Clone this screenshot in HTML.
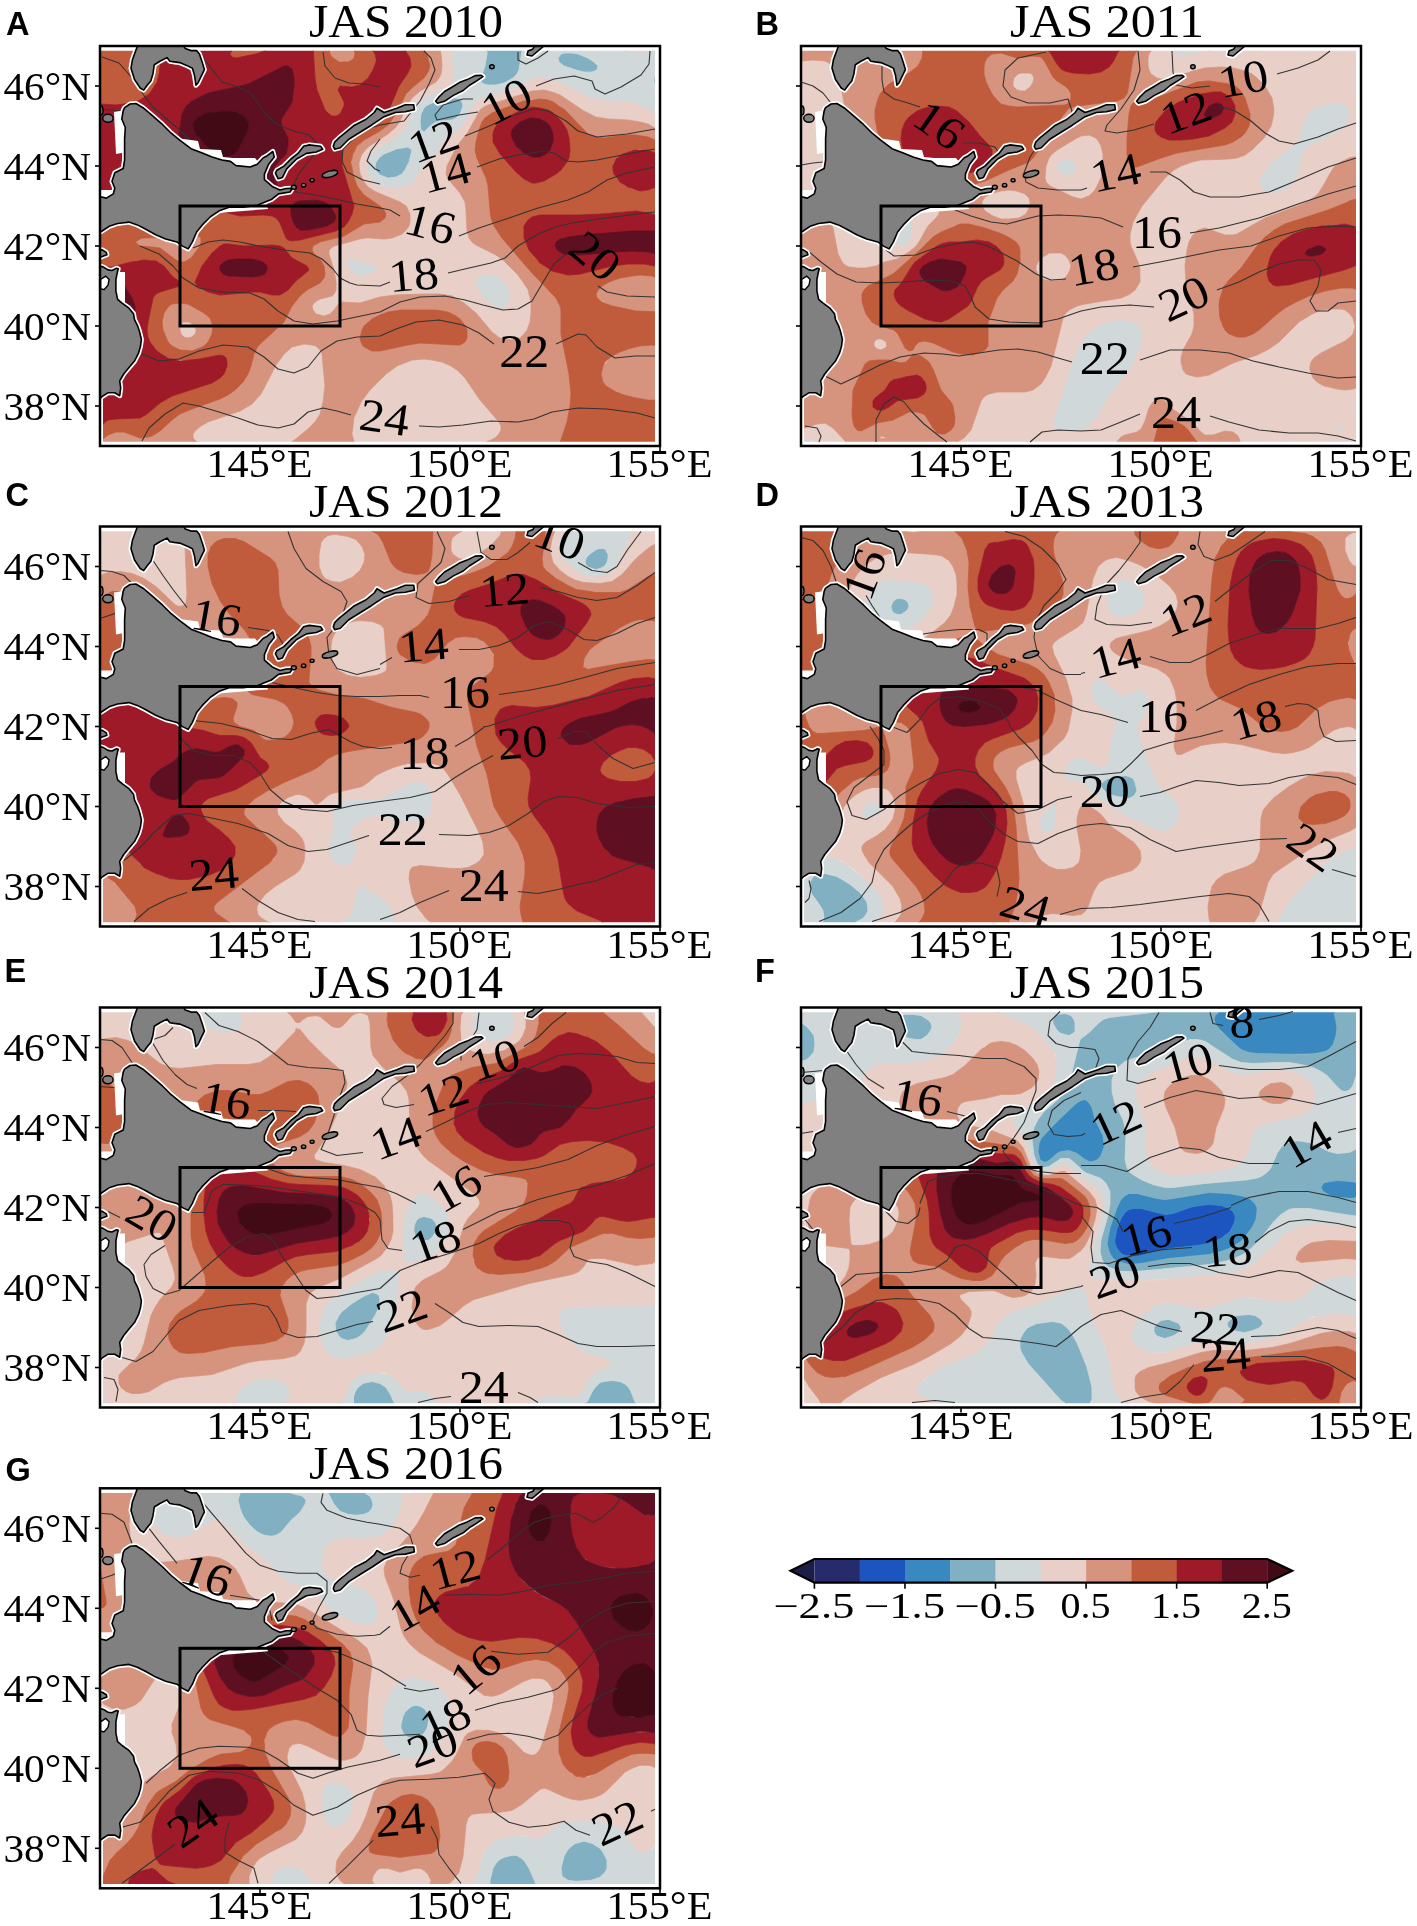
<!DOCTYPE html><html><head><meta charset="utf-8"><title>fig</title><style>html,body{margin:0;padding:0;background:#fff;overflow:hidden}svg{display:block;will-change:transform}</style></head><body><svg width="1417" height="1926" viewBox="0 0 1417 1926"><rect width="100%" height="100%" fill="#fff"/><defs><clipPath id="cd"><rect x="1" y="4.8" width="554" height="391"/></clipPath><clipPath id="cf"><rect x="0" y="0" width="560" height="400"/></clipPath></defs><g transform="translate(100,46)"><g clip-path="url(#cd)"><path fill="#80b0c2" stroke="#80b0c2" stroke-width="0.8" d="M388 0l36,0l-2,4l-3,20l-2,4l-4,4l-9,5l-8,2l-8,0l-4 -1l-3 -2l0 -4l4 -12l2 -12l0 -4l-3 -4zM464 7l8,0l6,1l10,4l6,4l4,4l-1,4l-5,2l-8,0l-8 -2l-12 -4l-5 -4l-1 -4l3 -4zM560 22l0,29l-4 -7l-2 -8l0 -4l4 -8zM356 52l4,1l2,3l1,4l-3,8l-4,4l-4,2l-12,1l-4,1l-6,4l-6,6l-3 -2l-1 -8l1 -8l3 -6l2 -2l6 -3l21 -5zM296 103l12 -2l4,3l-3,12l-4,8l-3,4l-6,3l-8,1l-8 -3l-4 -4l-1 -5l1 -4l4 -5l4 -3l10 -4z"/><path fill="#d0d8da" stroke="#d0d8da" stroke-width="0.8" d="M356 3l4 -3l24,0l3,4l0,4l-2,12l-4,12l0,4l3,2l4,1l8,0l8 -2l9 -5l4 -4l2 -4l3 -20l2 -4l87,0l17,5l12,2l12 -2l8 -2l0,19l-4,6l-2,4l0,4l2,8l4,7l0,21l-8 -7l-12 -6l-12 -3l-20 -1l-12 -2l-12 -4l-20 -11l-12 -4l-8 -2l-8,0l-24,11l-32,10l-4,3l-3,4l-9,18l-4,5l-12,8l-4,4l-6,9l-14,15l-7,13l-5,6l-4,2l-8,2l-8,0l-8 -1l-10 -5l-6 -7l-2 -9l2 -8l7 -8l17 -10l8 -6l6 -8l9 -20l5 -6l8 -5l16 -6l6 -3l2 -3l2 -5l-3 -20l1 -4l2 -4zM461 8l-3,4l1,4l5,4l12,4l8,2l8,0l5 -2l1 -4l-4 -4l-6 -4l-10 -4l-6 -1l-8,0zM353 52l-21,5l-6,3l-2,2l-3,6l-1,8l1,8l3,2l6 -6l6 -4l4 -1l12 -1l4 -2l4 -4l3 -8l-1 -4l-2 -3l-4 -1zM294 104l-10,4l-4,3l-4,5l-1,4l1,5l4,4l8,3l8 -1l6 -3l3 -4l4 -8l3 -12l-4 -3l-12,2zM248 214l4 -1l24,7l1,4l-6,4l-7,2l-4,0l-4 -1l-4 -3l-4 -5l-1 -5zM388 228l8,2l4,3l4,3l5,8l1,8l-2,6l-4,4l-4,0l-4 -1l-8 -6l-7 -7l-5 -8l-1 -4l2 -4l3 -2l8 -2z"/><path fill="#e8cfc8" stroke="#e8cfc8" stroke-width="0.8" d="M340 0l20,0l-6,4l-2,4l0,8l2,16l-1,4l-5,5l-20,8l-8,5l-5,6l-9,20l-6,8l-8,6l-17,10l-7,8l-2,8l2,9l6,7l10,5l8,1l8,0l8 -2l4 -2l5 -6l7 -13l14 -15l6 -9l4 -4l12 -8l4 -5l9 -18l3 -4l4 -3l32 -10l24 -11l8,0l8,2l12,4l20,11l12,4l12,2l20,1l12,3l12,6l8,7l0,13l-12 -7l-8 -2l-8 -2l-24 -1l-8 -1l-12 -5l-28 -18l-8 -3l-8 -2l-8,1l-8,1l-40,13l-4,2l-4,3l-3,4l-9,18l-11,14l-4,8l-6,12l-1,8l2,5l12,14l5,9l1,8l1,20l2,8l3,4l4,3l20,10l12,10l15,17l6,12l2,8l0,8l0,8l-3,9l-4,7l-4,4l-8,2l-8 -1l-8 -4l-8 -8l-15 -17l-9 -7l-8 -5l-12 -3l-16 -1l-32,1l-16,2l-20,6l-20 -1l-8,10l-4,3l-4,1l-4 -1l-3 -1l-4 -4l-1 -4l3 -4l5 -3l12 -3l2 -2l2 -4l0 -8l-2 -12l-5 -16l0 -4l3 -3l4 -2l28 -6l20,0l8 -1l10 -4l4 -4l3 -4l1 -4l0 -8l-4 -8l-6 -4l-24 -10l-8 -5l-4 -5l-4 -8l-1 -8l0 -4l3 -8l6 -7l20 -13l8 -7l4 -6l8 -17l4 -6l8 -7l16 -9l3 -4l2 -4l1 -8l-1 -12l-2 -8zM247 216l1,5l4,5l4,3l4,1l4,0l7 -2l6 -4l-1 -4l-24 -7l-4,1zM388 228l-8,2l-3,2l-2,4l1,4l5,8l7,7l8,6l4,1l4,0l4 -4l2 -6l-1 -8l-5 -8l-4 -3l-4 -3l-8 -2zM512 0l48,0l0,3l-4,1l-8,2l-8,1l-12 -2l-17 -5zM84 276l5,0l6,4l1,4l0,2l-1,2l-3,3l-5,1l-3 -1l-3 -3l-1 -4l0 -4l3 -4zM196 300l8 -2l8,1l4,1l4,4l2,4l1,8l2,20l-1,12l-3,16l-6,12l-7,7l-21,17l-80,0l-10 -4l-4 -4l0 -4l3 -4l8 -6l36 -13l12 -7l6 -6l5 -8l17 -32l8 -8l7 -4zM308 315l8 -2l8,0l16,2l11,5l5,3l9,9l15,22l16,18l5,8l0,4l-2,4l-3,3l-18,9l-123,0l-2 -8l0 -12l3 -12l5 -12l9 -12l11 -12l11 -9l14 -7z"/><path fill="#d6947f" stroke="#d6947f" stroke-width="0.8" d="M232 0l22,0l1,8l-1,4l-2,2l-4,2l-4,0l-8 -2l-3 -2l-3 -4l-2 -8zM324 0l15,0l2,8l1,12l-1,8l-2,4l-3,4l-16,9l-8,7l-4,6l-8,17l-4,6l-8,7l-20,13l-6,7l-3,8l0,4l1,8l4,8l4,5l8,5l24,10l6,4l4,8l0,8l-1,4l-3,4l-4,4l-10,4l-8,1l-16 -1l-8,1l-26,7l-5,4l0,4l5,16l2,12l0,8l-2,4l-2,2l-12,3l-5,3l-3,4l1,4l3,4l4,1l4,1l6 -2l4 -4l6 -8l20,1l20 -6l16 -2l28 -1l16,0l12,2l12,7l12,10l16,19l8,6l4,1l8,1l8 -2l4 -4l3 -4l3 -8l1 -8l0 -12l-3 -12l-5 -8l-6 -8l-13 -13l-8 -6l-20 -10l-4 -3l-3 -4l-2 -8l-1 -20l-1 -8l-5 -9l-12 -14l-2 -5l1 -8l6 -12l4 -8l11 -14l12 -22l4 -3l4 -2l32 -10l12 -4l12 -1l8,2l8,3l24,16l12,6l12,2l20,1l12,2l8,2l12,7l0,11l-12 -5l-12 -2l-12,0l-20,3l-8 -1l-8 -3l-4 -4l-15 -16l-9 -8l-8 -4l-12 -3l-8,0l-12,3l-29,12l-7,5l-5,11l-4,16l1,8l10,24l2,8l2,24l1,8l3,8l8,12l17,20l13,15l24,25l4,8l1,4l0,24l8,40l2,20l-1,12l-3,16l-8,24l-81,0l17 -8l4 -4l2 -4l0 -4l-2 -4l-19 -22l-15 -22l-8 -8l-6 -4l-9 -4l-10 -2l-8 -1l-12,1l-15,6l-11,8l-16,16l-9,12l-7,16l-1,8l-1,8l3,12l-68,0l21 -17l7 -7l5 -8l3 -12l2 -16l-3 -32l-2 -4l-4 -4l-4 -1l-8 -1l-8,2l-4,1l-8,7l-8,11l-15,29l-9,10l-12,7l-32,11l-7,4l-5,4l-3,4l0,4l4,4l10,4l-107,0l0 -5l8 -6l8 -3l8,0l16,6l8 -1l4 -1l8 -5l12 -11l8 -6l12 -5l28 -10l8 -4l7 -5l8 -8l5 -8l3 -8l3 -12l4 -8l26 -24l8 -16l8 -10l7 -6l13 -7l4 -5l1 -4l-1 -8l-4 -7l-6 -5l-2 -4l1 -4l7 -4l24 -6l20 -12l16 -2l4 -3l2 -5l-2 -4l-4 -4l-16 -11l-7 -9l-3 -8l-2 -8l0 -12l3 -8l5 -7l7 -5l15 -8l6 -5l8 -11l8 -16l4 -6l16 -14l3 -4l3 -8l-1 -8l-2 -4l-7 -8zM301 264l-13,2l-8,3l-8,4l-8,7l-2,4l-2,8l1,4l2,4l5,3l4,2l8,0l28 -6l12 -2l36,2l4,0l5 -3l2 -4l0 -4l0 -4l-3 -6l-4 -5l-4 -3l-8 -4l-12 -2l-32,0zM44 192l32 -1l16 -2l4,0l4,2l1,1l0,4l-1,4l-8,11l-4,3l-4,2l-4,0l-4 -2l-8 -6l-8 -6l-8 -1l-12 -1l-5 -4l7 -4zM520 232l12 -2l8 -1l12,1l8,3l0,33l-16,0l-20 -3l-12 -3l-12 -6l-3 -2l-1 -4l2 -4l4 -4l7 -4l10 -4zM72 258l8 -1l8,1l16,9l6,5l3,8l-1,8l-4,8l-4,4l-4,2l-8,3l-12 -1l-8 -4l-4 -4l-5 -12l-1 -8l2 -9l2 -3l3 -4zM83 276l-3,4l0,4l1,4l3,3l3,1l5 -1l3 -3l1 -2l0 -2l-1 -4l-6 -4l-5,0zM544 300l8 -1l8,1l0,54l-20 -1l-20 -5l-8 -4l-6 -4l-5 -8l0 -8l2 -4l7 -8l6 -4l8 -4l18 -4zM560 400z"/><path fill="#c05b3c" stroke="#c05b3c" stroke-width="0.8" d="M4 0l49,0l5,4l2,8l0,8l-2,12l-3,8l-6,8l-5,4l-8,4l-12,3l-12,0l-12 -1l0 -58zM136 0l37,0l-9,5l-8,3l-20,4l-4 -1l-2 -3l4 -8zM216 0l12,0l2,8l2,3l4,3l4,2l8,0l4 -2l2 -2l1 -4l-1 -8l16,0l5,8l1,4l-1,8l-4,8l-7,8l-4,3l-4,2l-16 -1l-2,4l4,8l2,4l0,4l-4,8l-4,2l-4,0l-3 -2l-4 -4l-8 -20l-2 -12l-2 -32zM304 0l16,0l4,4l4,7l1,5l1,4l-2,6l-4,6l-12,10l-6,6l-10,20l-8,11l-8,6l-16,9l-7,6l-4,8l-2,8l2,12l4,12l7,9l16,11l4,4l2,4l-1,4l-5,4l-16,2l-20,12l-24,6l-7,4l-1,4l2,4l6,5l4,7l1,8l-1,4l-4,5l-13,7l-7,6l-8,10l-8,16l-26,24l-4,8l-3,12l-3,8l-5,8l-8,8l-7,5l-8,4l-28,10l-12,5l-8,6l-12,11l-8,5l-4,1l-8,1l-16 -6l-8,0l-8,3l-8,6l0 -12l4 -6l4 -3l8 -1l24 -1l7 -4l13 -11l12 -7l40 -13l8 -5l4 -4l3 -8l0 -4l-3 -6l-4 -1l-24,5l-20,0l-12 -4l-8 -6l-6 -8l-2 -5l-1 -7l1 -8l5 -24l3 -4l4 -2l20 -6l0 -4l-8 -6l-8 -10l-4 -3l-8 -3l-8,0l-8,1l-24,6l-8,0l-4 -1l0 -40l12 -4l12 -1l28 -2l28,1l20 -3l20 -6l20,5l24 -1l8,1l4,2l4,5l6,15l2,2l4,1l8 -1l40 -10l5 -4l3 -4l4 -8l2 -8l-12 -40l0 -12l1 -8l4 -8l5 -4l24 -10l7 -6l5 -6l11 -26l9 -13l3 -7l-1 -8l-8 -12zM42 192l-7,4l5,4l12,1l8,1l8,6l8,6l4,2l4,0l4 -2l4 -3l8 -11l1 -4l0 -4l-1 -1l-4 -2l-4,0l-16,2l-32,1zM120 200l-8,7l-10,13l-7,16l2,4l11,6l12,3l12 -1l20 -2l8,0l12,3l8,0l8 -5l8 -9l12 -10l1 -1l-2 -4l-15 -8l-8 -10l-4 -2l-8 -1l-28,1l-16 -2l-4,0zM69 260l-3,4l-2,3l-2,9l1,8l5,12l4,4l8,4l12,1l8 -3l4 -2l4 -4l4 -8l1 -8l-3 -8l-6 -5l-16 -9l-8 -1l-8,1zM424 55l16 -2l8,1l5,2l12,8l23,24l8,3l8,1l20 -3l12,0l12,2l12,5l0,13l-12 -5l-8 -1l-8,1l-9,4l-6,4l-3,4l-1,4l0,4l3,8l8,7l8,4l12,2l8 -2l8 -4l0,31l-16 -4l-12 -1l-48,4l-44,0l-8,2l-4,3l-4,6l0,4l0,8l3,8l8,12l5,5l8,6l12,4l8,2l8 -1l36 -8l16 -2l16,0l16,3l0,12l-8 -3l-12 -1l-8,1l-12,2l-11,4l-7,4l-4,4l-2,4l1,4l5,4l10,4l24,5l24,1l0,34l-8 -1l-12,1l-12,3l-8,3l-8,4l-7,6l-2,4l-2,8l2,8l3,4l10,6l8,3l12,3l12,2l12,0l0,46l-101,0l8 -24l3 -16l1 -12l-2 -20l-8 -40l0 -24l-1 -4l-4 -8l-24 -25l-13 -15l-17 -20l-8 -12l-3 -8l-1 -8l-2 -24l-2 -8l-9 -20l-2 -8l1 -8l3 -12l3 -8l3 -4l7 -5l29 -11zM421 64l-15,8l-10,8l-2,4l-1,4l0,8l7,12l16,18l8,7l8,4l4,0l8 -2l12 -7l5 -4l6 -8l2 -4l1 -8l-1 -12l-2 -8l-5 -8l-10 -10l-4 -2l-8 -2l-8 -1l-8,2zM304 264l32,0l12,2l8,4l4,3l4,5l3,6l0,4l0,4l-2,4l-5,3l-4,0l-36 -2l-12,2l-28,6l-8,0l-4 -2l-5 -3l-2 -4l-1 -4l2 -8l2 -4l8 -7l8 -4l8 -3l13 -2zM0 308l1,8l-1,4l0 -13z"/><path fill="#9e1a28" stroke="#9e1a28" stroke-width="0.8" d="M56 0l78,0l-4,8l2,3l4,1l20 -4l8 -3l9 -5l40,0l2,32l2,12l8,20l4,4l3,2l4,0l4 -2l4 -8l0 -4l-2 -4l-4 -8l2 -4l12,1l8 -2l8 -7l5 -8l3 -8l0 -4l-1 -4l-5 -8l32,0l3,4l5,8l1,8l-3,7l-9,13l-11,26l-5,6l-7,6l-24,10l-5,4l-4,8l-1,8l0,12l12,40l-2,8l-4,8l-4,5l-8,4l-36,9l-8,1l-4 -1l-2 -2l-6 -15l-4 -5l-4 -2l-8 -1l-24,1l-20 -5l-20,6l-20,3l-28 -1l-28,2l-12,1l-12,4l0 -122l16,1l16 -2l8 -3l9 -6l3 -4l5 -8l2 -8l1 -8l0 -12l-2 -4l-5 -4zM184 20l-36,18l-12,3l-28,6l-16,8l-6,5l-4,8l-3,20l0,44l2,4l4,4l11,5l20 -2l20,0l16 -3l8 -1l8,2l9,3l1 -4l-4 -8l0 -8l1 -4l11 -12l2 -8l0 -8l-6 -12l-1 -4l1 -4l6 -9l4 -7l2 -16l0 -8l-2 -9l-4 -3l-4,0zM196 156l-5,4l0,8l2,8l3,5l4,3l9,0l18 -4l5 -3l2 -1l2 -4l-1 -4l-5 -8l-2 -2l-4 -2l-8 -2l-16,1zM424 63l8 -2l8,1l8,2l4,2l10,10l5,8l2,8l1,12l-1,8l-2,4l-6,8l-5,4l-12,7l-8,2l-4,0l-8 -4l-8 -7l-16 -18l-7 -12l0 -8l1 -4l2 -4l10 -8l15 -8zM430 72l-10,4l-5,4l-3,4l-1,4l1,4l4,8l8,7l8,4l8,0l6 -3l4 -4l3 -8l0 -8l-3 -8l-4 -4l-6 -3l-8 -1zM536 104l12,0l12,5l0,30l-4,2l-8,3l-8,1l-12 -4l-8 -5l-6 -8l-1 -4l0 -4l3 -7l7 -5l11 -4zM500 168l24 -2l12 -1l12,2l12,3l0,15l-36,1l-56,5l-6,1l-6,4l-1,4l2,4l8,4l11,1l44 -4l16,0l12,1l12,3l0,12l-16 -3l-16,0l-16,2l-32,8l-12,1l-8 -2l-8 -2l-12 -8l-11 -13l-5 -12l0 -8l0 -4l4 -6l4 -3l8 -2l40,0l19 -1zM124 198l4,0l16,2l28 -1l8,1l4,2l8,10l15,8l2,4l-1,1l-12,10l-8,9l-8,5l-8,0l-12 -3l-8,0l-20,2l-12,1l-12 -3l-11 -6l-2 -4l7 -16l10 -13l8 -7zM124 216l-4,4l0,4l3,4l5,2l24,1l8 -1l5 -2l2 -4l0 -4l-4 -4l-3 -1l-8 -2l-16,0l-8,1l-4,2zM32 216l12 -2l12,1l8,5l8,10l8,6l0,4l-20,6l-4,2l-3,4l-5,24l-1,8l1,7l2,5l6,8l5,4l7,4l12,3l20 -2l20 -4l4,1l2,2l1,4l0,4l-3,8l-4,4l-8,5l-40,13l-12,7l-13,11l-7,4l-24,1l-8,1l-4,3l-4,6l0 -63l1 -4l-1 -9l0 -87l4,1l8,0l19 -5zM11 236l-3,1l-4,6l-1,9l1,10l4,14l2,4l2,3l4,2l4,0l4 -3l8 -10l3 -8l0 -4l-3 -8l-8 -13l-4 -2l-8 -1z"/><path fill="#5e0f22" stroke="#5e0f22" stroke-width="0.8" d="M184 20l4,0l4,3l2,9l0,8l-2,16l-4,7l-6,9l-1,4l1,4l6,12l0,8l-2,8l-11,12l-1,4l0,8l4,8l-1,4l-9 -3l-8 -2l-8,1l-16,3l-20,0l-20,2l-11 -5l-4 -4l-2 -4l0 -44l3 -20l4 -8l6 -5l16 -8l28 -6l12 -3l36 -18zM104 68l-7,4l-3,4l-1,4l1,4l2,4l16,18l4,3l4,1l8,1l6 -3l4 -4l10 -20l0 -8l-4 -6l-4 -2l-4 -2l-12 -1l-16,2zM432 72l8,1l6,3l4,4l3,8l0,8l-3,8l-4,4l-6,3l-8,0l-8 -4l-8 -7l-4 -8l-1 -4l1 -4l3 -4l5 -4l10 -4zM200 155l16 -1l8,2l4,2l2,2l5,8l1,4l-2,4l-2,1l-5,3l-18,4l-9,0l-4 -3l-3 -5l-2 -8l0 -8l5 -4zM496 188l36 -3l28,0l0,24l-12 -3l-16 -1l-20,1l-32,3l-8,0l-8 -1l-7 -4l-2 -4l1 -4l4 -3l8 -2l25 -3zM124 216l4 -2l8 -1l16,0l8,2l3,1l4,4l0,4l-2,4l-5,2l-8,1l-24 -1l-5 -2l-3 -4l0 -4l4 -4zM12 236l8,1l4,2l8,13l3,8l0,4l-3,8l-8,10l-4,3l-4,0l-4 -2l-2 -3l-2 -4l-4 -14l-1 -10l1 -9l4 -6l3 -1z"/><path fill="#420a15" stroke="#420a15" stroke-width="0.8" d="M108 67l16 -2l12,1l4,2l4,2l4,6l0,8l-10,20l-4,4l-6,3l-8 -1l-4 -1l-4 -3l-16 -18l-2 -4l-1 -4l1 -4l3 -4l7 -4z"/></g><polyline points="2,11 19,17 33,33 45,51 53,61 69,75 83,87 93,97 97,103" fill="none" stroke="#333" stroke-width="1.1" stroke-linejoin="round"/><polyline points="0,63 12,64 24,65" fill="none" stroke="#333" stroke-width="1.1" stroke-linejoin="round"/><polyline points="101,10 111,22 122,36 138,41 150,47 158,57 166,69 178,79 194,85 209,89 217,97 217,105 209,115 200,126 194,138 196,146 209,148 231,152 257,158 280,162 290,164 300,170" fill="none" stroke="#333" stroke-width="1.1" stroke-linejoin="round"/><polyline points="223,6 225,20 235,32 249,37 265,38 280,41" fill="none" stroke="#333" stroke-width="1.1" stroke-linejoin="round"/><polyline points="280,138 263,134 247,126 242,115 243,103 253,93 267,83 280,79 304,75 320,55 329,38 335,24 331,12 324,5" fill="none" stroke="#333" stroke-width="1.1" stroke-linejoin="round"/><polyline points="280,93 271,105 267,115 275,123 280,125" fill="none" stroke="#333" stroke-width="1.1" stroke-linejoin="round"/><polyline points="378,66 359,69 337,74 335,69 343,59 363,53 373,53" fill="none" stroke="#333" stroke-width="1.1" stroke-linejoin="round"/><polyline points="418,6 418,14 426,18 438,12 448,5" fill="none" stroke="#333" stroke-width="1.1" stroke-linejoin="round"/><polyline points="436,40 454,33 474,30 492,35 495,43 505,48 521,41 541,29 549,18 550,5" fill="none" stroke="#333" stroke-width="1.1" stroke-linejoin="round"/><polyline points="365,90 387,81 409,71 434,63 448,65 466,75 478,85 497,91 527,88 555,83" fill="none" stroke="#333" stroke-width="1.1" stroke-linejoin="round"/><polyline points="377,121 399,113 418,109 444,105 454,107 466,115 478,116 497,114 527,108 555,103" fill="none" stroke="#333" stroke-width="1.1" stroke-linejoin="round"/><polyline points="359,190 379,182 409,172 438,162 468,154 488,146 507,134 527,127 555,121" fill="none" stroke="#333" stroke-width="1.1" stroke-linejoin="round"/><polyline points="348,227 369,222 391,217 405,212 418,200 438,188 458,180 478,176 507,172 537,168 555,166" fill="none" stroke="#333" stroke-width="1.1" stroke-linejoin="round"/><polyline points="93,202 108,196 123,194 140,196 159,200 184,204 210,207 222,213 233,223 240,232 250,237 257,239 280,240 290,236" fill="none" stroke="#333" stroke-width="1.1" stroke-linejoin="round"/><polyline points="40,200 59,208 73,220 83,232 99,242 123,246 150,247 164,253 178,265 194,275 213,278 237,275 261,270 280,266 300,256 320,251 345,250 365,254 383,259 403,264 418,263 432,255 442,238 454,218 465,209" fill="none" stroke="#333" stroke-width="1.1" stroke-linejoin="round"/><polyline points="498,240 507,246 527,250 555,251" fill="none" stroke="#333" stroke-width="1.1" stroke-linejoin="round"/><polyline points="42,308 59,315 79,313 99,305 123,299 148,301 164,311 178,323 194,327 208,321 221,305 237,295 257,291 280,290 296,283 316,276 339,274 363,279 379,287 394,298" fill="none" stroke="#333" stroke-width="1.1" stroke-linejoin="round"/><polyline points="456,298 478,288 486,289 497,301 515,312 535,310 555,310" fill="none" stroke="#333" stroke-width="1.1" stroke-linejoin="round"/><polyline points="42,395 49,382 65,368 83,357 99,360 119,366 138,372 158,379 178,382 194,378 208,366 223,362 237,365 251,369" fill="none" stroke="#333" stroke-width="1.1" stroke-linejoin="round"/><polyline points="319,380 339,381 363,379 391,375 418,376 434,373 452,366 478,362 507,363 537,367 555,372" fill="none" stroke="#333" stroke-width="1.1" stroke-linejoin="round"/><g clip-path="url(#cf)"><polygon points="37.3,-3 37.3,0.4 32.4,13.8 31,22.2 34.5,33.5 40.2,42 43.7,44.1 47.2,39.2 50.8,34.9 52.9,27.9 54.3,18.7 59.9,15.2 67,11.6 69.8,15.2 74,15.9 79.7,16.6 86.7,19.4 92.4,22.2 94.5,29.3 95.9,39.2 98,37 101.6,29.3 104.4,23.6 102.3,16.6 99.4,8.1 96.6,4.6 91,4.6 85.3,2.5 83.9,0.4 83.9,-3" fill="#fff" stroke="#fff" stroke-width="5" stroke-linejoin="round"/><polygon points="24.6,61.7 30,58 35.9,57.5 43,61.7 51.5,68.8 62.7,78.7 71.2,87.2 79.7,94.2 91,102.7 102.3,106.9 112.1,111.1 122,114 130.5,115.4 136,119.6 150.3,121 157.3,118.2 163,112 167.2,109.7 172.8,105.5 174.3,111.1 168.6,118.2 164.4,128.1 164.4,133.7 172.8,140.8 180,144 186,142.5 192.6,142.2 190,146 178.5,147.9 171.4,153.5 164.4,156.3 157.3,159.2 143.2,161.3 129.1,161.3 119.2,164.8 110.7,170.5 102.3,178.9 96.6,186 92.4,195.9 88.2,202.9 82.5,200.1 76.9,195.9 65.6,193 55.7,188.8 45.8,183.2 37.3,178.9 28.9,176.1 17.6,177.5 9.1,180.3 0.6,186 -5,186 -5,150.7 0.6,150.7 6.3,152.1 13.3,147.9 14.8,142.2 12,135.2 14.8,126.7 23.2,122.5 24.6,114 24.6,106.9 24.6,92.8 25.3,81.5 21.8,73 23.2,64.6" fill="#fff" stroke="#fff" stroke-width="5" stroke-linejoin="round"/><polygon points="-5,220 -0.5,220 3.5,221.1 8,223.9 11.9,224.5 16.5,222.2 18.2,222.8 17,227.9 15.9,233.5 15.9,244.8 17.6,253.3 22.1,257.2 28.6,261.8 33.5,267.7 34.5,273.6 37.5,279.6 39.5,285.5 41.4,293.4 40.5,300.3 38.5,307.2 34.5,315.1 28.6,322.1 23.7,328 19.7,334.9 20.7,341.8 19.7,349.7 14.8,346.8 7.8,346.8 1.9,350.7 -0.1,352.7 -5,352.7" fill="#fff" stroke="#fff" stroke-width="5" stroke-linejoin="round"/><polygon points="-5,203.6 -0.5,203.6 2.3,203.9 6.3,206.4 6.9,208.7 2.3,210.4 0.1,211.5 -5,211.5" fill="#fff" stroke="#fff" stroke-width="5" stroke-linejoin="round"/><polygon points="175.4,127.2 178.2,132.8 182.5,131.4 186.7,122.9 196.6,113 206.5,107.4 216.3,106 222.7,103.2 220.6,100.3 209.3,98.9 203.6,100.3 198,107.4 190.9,113 183.9,120.1 176.8,124.3" fill="#fff" stroke="#fff" stroke-width="5" stroke-linejoin="round"/><polygon points="233.3,100.3 234.7,103.2 240.3,101.7 248.8,93.3 260.1,86.2 271.4,79.2 284.1,70.7 295.4,66.5 305.3,65.8 314.4,63.6 313.7,58.7 305.3,58.7 296.8,62.2 284.1,66.5 277,62.2 274.2,66.5 265.7,73.5 254.4,79.2 246,86.2 238.9,91.9 234.7,96.1" fill="#fff" stroke="#fff" stroke-width="5" stroke-linejoin="round"/><polygon points="335.6,55.3 337.5,57.3 344.5,55.3 353.4,49.4 363.2,44.5 369.2,39.5 377.1,34.6 383,30.6 381,29.2 375.1,29.6 367.2,33.6 359.3,36.6 351.4,41.5 344.5,45.5 338.5,51.4" fill="#fff" stroke="#fff" stroke-width="5" stroke-linejoin="round"/><polygon points="427,9 432,10 438,5 444,0 445,-3 436,-3 433,3 428,5" fill="#fff" stroke="#fff" stroke-width="5" stroke-linejoin="round"/><polygon points="76,92 98,95 100,103 121,104 123,111 133,112 155,112 160,118 150,124 130,120 100,112 76,100" fill="#fff"/><polygon points="112,158 165,154 168,163 118,167" fill="#fff"/><polygon points="14,66 26,64 27,106 16,108" fill="#fff"/><polygon points="-2,144 25,144 25,153 -2,153" fill="#fff"/><polygon points="14,226 25,226 25,258 14,258" fill="#fff"/><polygon points="-2,350 3,350 3,400 -2,400" fill="#fff"/><polygon points="37.3,-3 37.3,0.4 32.4,13.8 31,22.2 34.5,33.5 40.2,42 43.7,44.1 47.2,39.2 50.8,34.9 52.9,27.9 54.3,18.7 59.9,15.2 67,11.6 69.8,15.2 74,15.9 79.7,16.6 86.7,19.4 92.4,22.2 94.5,29.3 95.9,39.2 98,37 101.6,29.3 104.4,23.6 102.3,16.6 99.4,8.1 96.6,4.6 91,4.6 85.3,2.5 83.9,0.4 83.9,-3" fill="#808080" stroke="#000" stroke-width="1.6" stroke-linejoin="round"/><polygon points="24.6,61.7 30,58 35.9,57.5 43,61.7 51.5,68.8 62.7,78.7 71.2,87.2 79.7,94.2 91,102.7 102.3,106.9 112.1,111.1 122,114 130.5,115.4 136,119.6 150.3,121 157.3,118.2 163,112 167.2,109.7 172.8,105.5 174.3,111.1 168.6,118.2 164.4,128.1 164.4,133.7 172.8,140.8 180,144 186,142.5 192.6,142.2 190,146 178.5,147.9 171.4,153.5 164.4,156.3 157.3,159.2 143.2,161.3 129.1,161.3 119.2,164.8 110.7,170.5 102.3,178.9 96.6,186 92.4,195.9 88.2,202.9 82.5,200.1 76.9,195.9 65.6,193 55.7,188.8 45.8,183.2 37.3,178.9 28.9,176.1 17.6,177.5 9.1,180.3 0.6,186 -5,186 -5,150.7 0.6,150.7 6.3,152.1 13.3,147.9 14.8,142.2 12,135.2 14.8,126.7 23.2,122.5 24.6,114 24.6,106.9 24.6,92.8 25.3,81.5 21.8,73 23.2,64.6" fill="#808080" stroke="#000" stroke-width="1.6" stroke-linejoin="round"/><polygon points="-5,220 -0.5,220 3.5,221.1 8,223.9 11.9,224.5 16.5,222.2 18.2,222.8 17,227.9 15.9,233.5 15.9,244.8 17.6,253.3 22.1,257.2 28.6,261.8 33.5,267.7 34.5,273.6 37.5,279.6 39.5,285.5 41.4,293.4 40.5,300.3 38.5,307.2 34.5,315.1 28.6,322.1 23.7,328 19.7,334.9 20.7,341.8 19.7,349.7 14.8,346.8 7.8,346.8 1.9,350.7 -0.1,352.7 -5,352.7" fill="#808080" stroke="#000" stroke-width="1.6" stroke-linejoin="round"/><polygon points="-5,203.6 -0.5,203.6 2.3,203.9 6.3,206.4 6.9,208.7 2.3,210.4 0.1,211.5 -5,211.5" fill="#808080" stroke="#000" stroke-width="1.6" stroke-linejoin="round"/><polygon points="175.4,127.2 178.2,132.8 182.5,131.4 186.7,122.9 196.6,113 206.5,107.4 216.3,106 222.7,103.2 220.6,100.3 209.3,98.9 203.6,100.3 198,107.4 190.9,113 183.9,120.1 176.8,124.3" fill="#808080" stroke="#000" stroke-width="1.6" stroke-linejoin="round"/><polygon points="233.3,100.3 234.7,103.2 240.3,101.7 248.8,93.3 260.1,86.2 271.4,79.2 284.1,70.7 295.4,66.5 305.3,65.8 314.4,63.6 313.7,58.7 305.3,58.7 296.8,62.2 284.1,66.5 277,62.2 274.2,66.5 265.7,73.5 254.4,79.2 246,86.2 238.9,91.9 234.7,96.1" fill="#808080" stroke="#000" stroke-width="1.6" stroke-linejoin="round"/><polygon points="335.6,55.3 337.5,57.3 344.5,55.3 353.4,49.4 363.2,44.5 369.2,39.5 377.1,34.6 383,30.6 381,29.2 375.1,29.6 367.2,33.6 359.3,36.6 351.4,41.5 344.5,45.5 338.5,51.4" fill="#808080" stroke="#000" stroke-width="1.6" stroke-linejoin="round"/><polygon points="427,9 432,10 438,5 444,0 445,-3 436,-3 433,3 428,5" fill="#808080" stroke="#000" stroke-width="1.6" stroke-linejoin="round"/><polygon points="0.6,233.5 5.7,230.1 9.1,233.5 8,239.2 4,243.7 0.6,242.6" fill="#fff" stroke="#000" stroke-width="1.4"/><ellipse cx="7.9" cy="72.3" rx="5.2" ry="4" transform="rotate(0 7.9 72.3)" fill="#808080" stroke="#000" stroke-width="1.4"/><ellipse cx="1" cy="64.5" rx="2" ry="4.5" transform="rotate(0 1 64.5)" fill="#808080" stroke="#000" stroke-width="1.4"/><ellipse cx="230" cy="128" rx="8" ry="3" transform="rotate(-15 230 128)" fill="#808080" stroke="#000" stroke-width="1.4"/><ellipse cx="193.8" cy="141.3" rx="2.5" ry="2" transform="rotate(0 193.8 141.3)" fill="#808080" stroke="#000" stroke-width="1.4"/><ellipse cx="203.6" cy="139.2" rx="2.2" ry="1.8" transform="rotate(0 203.6 139.2)" fill="#808080" stroke="#000" stroke-width="1.4"/><ellipse cx="212.1" cy="134.2" rx="2" ry="1.6" transform="rotate(0 212.1 134.2)" fill="#808080" stroke="#000" stroke-width="1.4"/><ellipse cx="391.9" cy="20.8" rx="2.3" ry="2" transform="rotate(0 391.9 20.8)" fill="#808080" stroke="#000" stroke-width="1.4"/></g><rect x="80" y="160" width="160" height="120" fill="none" stroke="#000" stroke-width="3"/><g clip-path="url(#cf)"><text x="406.5" y="70.8" font-family="Liberation Serif" font-size="46.0" font-weight="normal" text-anchor="middle" textLength="50.0" lengthAdjust="spacingAndGlyphs" transform="rotate(-28 406.5 55.3)">10</text><text x="333.4" y="110.4" font-family="Liberation Serif" font-size="46.0" font-weight="normal" text-anchor="middle" textLength="50.0" lengthAdjust="spacingAndGlyphs" transform="rotate(-20 333.4 94.9)">12</text><text x="345.2" y="142.0" font-family="Liberation Serif" font-size="46.0" font-weight="normal" text-anchor="middle" textLength="50.0" lengthAdjust="spacingAndGlyphs" transform="rotate(-15 345.2 126.5)">14</text><text x="330.4" y="193.4" font-family="Liberation Serif" font-size="46.0" font-weight="normal" text-anchor="middle" textLength="50.0" lengthAdjust="spacingAndGlyphs" transform="rotate(15 330.4 177.9)">16</text><text x="313.6" y="244.2" font-family="Liberation Serif" font-size="46.0" font-weight="normal" text-anchor="middle" textLength="50.0" lengthAdjust="spacingAndGlyphs" transform="rotate(-5 313.6 228.7)">18</text><text x="495.4" y="225.4" font-family="Liberation Serif" font-size="46.0" font-weight="normal" text-anchor="middle" textLength="50.0" lengthAdjust="spacingAndGlyphs" transform="rotate(40 495.4 209.9)">20</text><text x="424.3" y="321.2" font-family="Liberation Serif" font-size="46.0" font-weight="normal" text-anchor="middle" textLength="50.0" lengthAdjust="spacingAndGlyphs" transform="rotate(0 424.3 305.7)">22</text><text x="284.6" y="387.0" font-family="Liberation Serif" font-size="46.0" font-weight="normal" text-anchor="middle" textLength="50.0" lengthAdjust="spacingAndGlyphs" transform="rotate(8 284.6 371.5)">24</text></g><rect x="0" y="0" width="560" height="400" fill="none" stroke="#000" stroke-width="2.5"/><line x1="-5" y1="40" x2="0" y2="40" stroke="#000" stroke-width="1.6"/><line x1="-5" y1="120" x2="0" y2="120" stroke="#000" stroke-width="1.6"/><line x1="-5" y1="200" x2="0" y2="200" stroke="#000" stroke-width="1.6"/><line x1="-5" y1="280" x2="0" y2="280" stroke="#000" stroke-width="1.6"/><line x1="-5" y1="360" x2="0" y2="360" stroke="#000" stroke-width="1.6"/><line x1="160" y1="400" x2="160" y2="405" stroke="#000" stroke-width="1.6"/><line x1="360" y1="400" x2="360" y2="405" stroke="#000" stroke-width="1.6"/><line x1="560" y1="400" x2="560" y2="405" stroke="#000" stroke-width="1.6"/><text x="-9.0" y="53.5" font-family="Liberation Serif" font-size="39.5" font-weight="normal" text-anchor="end" textLength="87.5" lengthAdjust="spacingAndGlyphs">46°N</text><text x="-9.0" y="133.5" font-family="Liberation Serif" font-size="39.5" font-weight="normal" text-anchor="end" textLength="87.5" lengthAdjust="spacingAndGlyphs">44°N</text><text x="-9.0" y="213.5" font-family="Liberation Serif" font-size="39.5" font-weight="normal" text-anchor="end" textLength="87.5" lengthAdjust="spacingAndGlyphs">42°N</text><text x="-9.0" y="293.5" font-family="Liberation Serif" font-size="39.5" font-weight="normal" text-anchor="end" textLength="87.5" lengthAdjust="spacingAndGlyphs">40°N</text><text x="-9.0" y="373.5" font-family="Liberation Serif" font-size="39.5" font-weight="normal" text-anchor="end" textLength="87.5" lengthAdjust="spacingAndGlyphs">38°N</text><text x="159.5" y="431.0" font-family="Liberation Serif" font-size="39.0" font-weight="normal" text-anchor="middle" textLength="106.0" lengthAdjust="spacingAndGlyphs">145°E</text><text x="359.5" y="431.0" font-family="Liberation Serif" font-size="39.0" font-weight="normal" text-anchor="middle" textLength="106.0" lengthAdjust="spacingAndGlyphs">150°E</text><text x="559.5" y="431.0" font-family="Liberation Serif" font-size="39.0" font-weight="normal" text-anchor="middle" textLength="106.0" lengthAdjust="spacingAndGlyphs">155°E</text><text x="306.0" y="-9.5" font-family="Liberation Serif" font-size="47.0" font-weight="normal" text-anchor="middle" textLength="194.0" lengthAdjust="spacingAndGlyphs">JAS 2010</text></g><text x="6.0" y="34.5" font-family="Liberation Sans" font-size="32.5" font-weight="bold" text-anchor="start">A</text><g transform="translate(801,46)"><g clip-path="url(#cd)"><path fill="#80b0c2" stroke="#80b0c2" stroke-width="0.8" d="M4 400l-4,0l0 -1z"/><path fill="#d0d8da" stroke="#d0d8da" stroke-width="0.8" d="M376 3l3 -3l101,0l-8,3l-16,1l-40 -1l-24,5l-12,2l-6 -2l1 -4zM520 59l12 -2l8,1l4,2l4,4l1,4l-2,8l-3,5l-8,6l-24,11l-4,2l-4,4l-2,4l-6,24l-6,8l-6,4l-12,3l-8 -2l-5 -5l0 -4l0 -4l5 -8l7 -8l9 -8l12 -8l4 -4l2 -4l5 -16l4 -8l5 -5l5 -3zM260 115l4 -2l4,0l6,3l1,4l-1,4l-2,3l-4,2l-4,0l-4 -1l-3 -4l-1 -4l3 -4zM92 168l8 -1l4,1l4,3l3,5l0,8l-1,8l-3,4l-3,3l-4,1l-4 -1l-12 -11l-11 -8l2 -4l4 -4l11 -4zM60 192l0,4l0 -4zM308 276l8 -2l8,0l8,2l4,2l4,5l1,5l-1,12l-7,16l-25,35l-12,20l-9,9l-6,4l-5,2l-8,1l-11 -3l-4 -4l-1 -4l1 -4l18 -56l7 -16l6 -9l7 -7l6 -4l10 -4zM536 380l7,0l1,4l-11,0l2 -4zM4 393l12,3l8,4l-20,0l-4 -1l0 -7z"/><path fill="#e8cfc8" stroke="#e8cfc8" stroke-width="0.8" d="M352 1l1 -1l26,0l-4,4l-1,4l6,2l12 -2l24 -5l40,1l16 -1l8 -3l72,0l4,4l4,1l0,106l-4,0l-8,1l-8,4l-4,2l-5,6l-9,16l-5,8l-9,7l-8,4l-36,13l-28,16l-4,1l-8,0l-20 -7l-4,1l-4,2l-6,7l-3,8l-2,8l-1,16l2,16l7,28l0,12l-2,8l-9,16l-2,8l0,4l2,8l3,4l3,1l8,2l12 -2l24 -12l24 -8l12 -6l10 -7l20 -20l13 -8l9 -4l8 -1l8 -1l8,2l5,4l3,4l1,4l0,8l-1,4l-4,4l-4,3l-24,12l-7,5l-3,4l-1,4l0,4l3,8l4,4l7,4l5,2l8,1l8,1l8 -1l8 -3l0,60l-120,0l-2 -8l-2 -3l-4 -3l-8 -1l-12,4l-4,0l-5 -1l-3 -2l-12 -13l-12 -7l-12 -11l-4 -2l-4,0l-4,3l-3,4l-5,15l-4,8l-4,3l-12,3l-4,2l-8,9l-179,0l19 -3l4 -1l7 -4l7 -8l10 -29l4 -5l4 -2l8 -2l28,0l8 -2l8 -6l4 -6l6 -12l12 -48l2 -4l4 -4l8 -4l8 -2l36 -6l9 -4l5 -4l5 -8l1 -8l-3 -12l-8 -20l0 -8l1 -8l4 -8l7 -12l23 -28l12 -10l15 -6l13 -2l24 -1l12 -2l8 -5l8 -6l7 -8l5 -8l3 -8l2 -8l0 -8l-1 -5l-3 -7l-5 -8l-12 -11l-8 -4l-8 -2l-20 -2l-20,3l-28,9l-8,0l-4 -1l-6 -4l-2 -4l-1 -4l0 -8l3 -8zM517 60l-5,3l-5,5l-4,8l-5,16l-2,4l-4,4l-12,8l-9,8l-7,8l-5,8l0,4l0,4l5,5l8,2l12 -3l6 -4l6 -8l6 -24l2 -4l4 -4l4 -2l24 -11l8 -6l3 -5l2 -8l-1 -4l-4 -4l-4 -2l-8 -1l-12,2zM307 276l-10,4l-6,4l-7,7l-6,9l-7,16l-18,56l-1,4l1,4l4,4l11,3l8 -1l5 -2l6 -4l9 -9l12 -20l25 -35l7 -16l1 -12l-1 -5l-4 -5l-4 -2l-8 -2l-8,0l-8,2zM535 380l-2,4l11,0l-1 -4l-7,0zM4 14l12,0l8,1l4,2l4,3l4,6l4,14l7,40l13,36l5,20l3,6l4,4l8,3l12,1l20,0l10,2l9,4l5,4l2,4l0,4l-3,4l-8,8l-9,16l-8,8l-6,5l-8,4l-12,3l-9,4l-7,2l-16,0l-6 -2l-5 -4l-4 -8l-5 -26l-3 -6l-4 -4l-5 -3l-8 -1l-8,1l-4,2l0 -156zM90 168l-11,4l-4,4l-2,4l11,8l12,11l4,1l4 -1l3 -3l3 -4l1 -8l0 -8l-3 -5l-4 -3l-4 -1l-8,1zM60 192l0,4l0 -4zM220 27l8,0l3,1l2,4l-1,4l-2,4l-6,5l-4,0l-4 -1l-4 -4l0 -4l1 -4l4 -4zM280 90l8 -1l7,3l3,4l2,4l2,8l0,12l-2,12l-6,12l-6,6l-8,3l-8 -2l-23 -11l-4 -4l-1 -4l1 -12l3 -8l3 -4l5 -4l20 -12zM259 116l-3,4l1,4l3,4l4,1l4,0l4 -2l2 -3l1 -4l-1 -4l-6 -3l-4,0l-4,2zM192 147l8 -2l8 -1l8,1l8,3l4,4l1,4l0,4l-2,4l-2,4l-7,4l-10,1l-8,0l-8 -3l-8 -5l-3 -5l0 -4l2 -4l6 -4zM248 207l8,0l4,0l4,2l4,5l2,6l-1,4l-2,4l-3,4l-4,2l-8,1l-8 -1l-4 -2l-3 -4l-2 -4l0 -4l2 -4l3 -4l7 -4zM76 293l4,0l4,2l1,1l1,4l-2,2l-4,2l-4 -1l-3 -3l0 -4zM12 379l8 -2l4,0l4,2l4,3l13,14l9,4l-30,0l-12 -6l-12 -2l0 -9l9 -3zM80 390l4,1l1,1l-5,1l-1 -1z"/><path fill="#d6947f" stroke="#d6947f" stroke-width="0.8" d="M4 0l116,0l2,4l-1,8l-4,8l-9,7l-20,11l-4,4l-5,6l-3,8l-2,8l1,16l3,12l7,20l4,8l7,7l7,5l9,4l32,6l8,1l8 -1l16 -5l12 -4l20 -9l20 -8l4 -4l9 -12l11 -12l8 -16l8 -10l8 -2l40 -5l7 -3l3 -4l1 -4l5 -32l6 -12l15,0l-5,8l-1,4l0,8l1,4l2,4l6,4l4,1l8,0l24 -8l12 -3l16 -1l12,1l12,3l7,3l5,4l8,8l7,12l2,12l-1,8l-2,8l-7,12l-11,11l-8,6l-8,3l-8,1l-28,1l-9,2l-11,4l-7,4l-9,8l-23,28l-9,16l-3,12l0,8l1,4l7,16l2,8l0,12l-5,8l-5,4l-9,4l-36,6l-8,2l-8,4l-4,4l-2,4l-12,48l-6,12l-4,6l-8,6l-8,2l-28,0l-8,2l-4,2l-4,5l-10,29l-7,8l-7,4l-4,1l-19,3l-79,0l-9 -4l-13 -14l-8 -5l-8,1l-16,5l0 -212l4 -2l8 -1l8,1l5,3l4,4l3,6l5,26l4,8l3,3l4,2l8,1l8,0l11 -2l9 -4l12 -3l12 -7l7 -6l3 -4l9 -16l8 -8l3 -4l0 -4l-2 -4l-5 -4l-9 -4l-10 -2l-20,0l-12 -1l-8 -3l-4 -4l-3 -6l-5 -20l-13 -36l-7 -40l-4 -14l-4 -6l-4 -3l-4 -2l-12 -1l-12,1l0 -15zM396 36l-36,14l-25,6l-3,1l-2,3l-2,8l-2,24l0,16l1,8l3,4l2,1l4,0l24 -9l16 -5l48 -8l8 -3l8 -5l4 -4l4 -7l1 -4l0 -8l-5 -16l-5 -8l-5 -4l-6 -2l-20 -3l-12,1zM276 92l-20,12l-5,4l-3,4l-3,8l-1,12l1,4l4,4l23,11l8,2l8 -3l6 -6l6 -12l2 -12l0 -12l-2 -8l-2 -4l-3 -4l-7 -3l-8,1zM189 148l-6,4l-2,4l0,4l3,5l8,5l8,3l8,0l10 -1l7 -4l2 -4l2 -4l0 -4l-1 -4l-4 -4l-8 -3l-8 -1l-8,1l-8,2zM155 180l-15,6l-8,5l-13,13l-27,24l-25,12l-4,4l-2,4l0,8l4,12l6,8l5,3l17,5l4,4l7,14l4,3l4 -1l2 -4l4 -4l6 -1l8,2l20,9l8,2l12,1l8 -3l4 -2l3 -4l0 -4l0 -16l0 -4l9 -24l6 -8l10 -9l4 -7l3 -12l0 -12l-1 -4l-3 -4l-6 -4l-8 -4l-17 -6l-16 -4l-8,0l-4,1zM247 208l-7,4l-3,4l-2,4l0,4l2,4l3,4l4,2l8,1l8 -1l4 -2l3 -4l2 -4l1 -4l-2 -6l-4 -5l-4 -2l-4,0l-8,0zM73 296l0,4l3,3l4,1l4 -2l2 -2l-1 -4l-1 -1l-4 -2l-4,0zM109 312l-4,4l-5,1l-12 -3l-12,0l-8,1l-4,3l-12,26l-1,24l1,8l1,4l3,4l4,1l16 -8l16 -3l16 -8l8,0l4,1l4,2l8,13l4,5l4,1l4,0l6 -4l3 -4l1 -8l-2 -12l-2 -4l-10 -12l-8 -21l-4 -7l-8 -6l-8 -2zM79 392l1,1l5 -1l-1 -1l-4 -1zM556 0l4,0l0,5l-4 -1l-4 -4zM192 8l8 -1l16,5l16 -2l8,1l4,5l8,15l4,4l8,5l4,4l2,4l0,4l-2,5l-4,2l-48,2l-8 -1l-8 -2l-4 -4l-5 -6l-6 -12l-2 -8l0 -8l1 -4l2 -4l5 -4zM217 28l-4,4l-1,4l0,4l4,4l4,1l4,0l6 -5l2 -4l1 -4l-2 -4l-3 -1l-8,0zM552 111l8,0l0,42l-8,1l-25,10l-39,13l-12,5l-8,5l-9,9l-19,26l-16,16l-4,10l-2,12l2,14l4,10l4,4l4,2l8,1l8 -2l8 -4l25 -21l14 -8l13 -6l16 -5l16 -3l12,0l8,4l0,94l-8,3l-8,1l-8 -1l-13 -3l-7 -4l-4 -4l-3 -8l0 -4l1 -4l3 -4l7 -5l24 -12l4 -3l4 -4l2 -8l-2 -8l-4 -5l-4 -3l-4 -1l-12,0l-8,1l-9,4l-13,8l-20,20l-10,7l-12,6l-24,8l-24,12l-12,2l-8 -2l-3 -1l-3 -4l-2 -8l0 -4l2 -8l9 -16l2 -8l0 -12l-8 -32l-1 -16l2 -16l2 -8l4 -7l5 -5l3 -1l4 -1l20,7l8,0l4 -1l28 -16l40 -15l8 -5l5 -4l5 -8l9 -16l3 -4l6 -4l8 -4zM352 356l4 -3l4,0l4,2l9,9l18,12l9,10l4,3l8,0l12 -4l8,1l4,3l2,3l2,8l-32,0l-8 -2l-5 -2l-8 -12l-4 -4l-7 -4l-12 -4l-4,1l-2,3l-5,20l-3,4l-38,0l8 -9l4 -2l12 -3l4 -3l4 -8l4 -13l4 -6z"/><path fill="#c05b3c" stroke="#c05b3c" stroke-width="0.8" d="M120 0l110,0l10,2l4,1l4,2l8,13l6,6l10,3l16,1l12 -2l8 -5l4 -5l8 -16l18,0l-6,12l-5,32l-1,4l-3,4l-7,3l-40,5l-8,2l-8,10l-8,16l-11,12l-9,12l-4,4l-20,8l-24,11l-20,6l-12,2l-12 -1l-24 -5l-12 -5l-7 -4l-8 -8l-4 -8l-9 -28l-2 -12l0 -8l2 -8l3 -8l5 -6l4 -4l20 -11l9 -7l4 -8l1 -8l-2 -4zM191 8l-5,4l-2,4l-1,4l0,8l2,8l6,12l5,6l4,4l8,2l8,1l48 -2l4 -2l2 -5l0 -4l-2 -4l-4 -4l-8 -5l-4 -4l-8 -15l-4 -5l-8 -1l-16,2l-16 -5l-8,1zM134 60l-10,2l-8,3l-8,6l-4,5l-3,8l-1,8l1,8l3,9l4,6l4,4l4,3l8,3l24,3l20 -1l11 -3l7 -4l3 -4l2 -4l0 -8l-3 -5l-8 -8l-12 -15l-12 -11l-8 -4l-12 -1zM396 36l12 -1l20,3l6,2l5,4l5,8l5,16l0,8l-1,4l-4,7l-4,4l-8,5l-8,3l-48,8l-16,5l-24,9l-4,0l-2 -1l-3 -4l-1 -8l0 -16l2 -24l2 -8l2 -3l3 -1l25 -6l36 -14zM400 48l-22,8l-13,8l-7,8l-3,4l-1,4l0,4l2,4l4,3l8,3l12,0l12 -1l16 -3l16 -8l7 -6l3 -8l0 -8l-4 -8l-6 -4l-4 -2l-8,0l-12,2zM548 155l8 -2l4,0l0,33l-4 -4l-4 -2l-8 -2l-8,0l-24,4l-20,6l-12,8l-7,8l-5,12l-2,12l2,7l4,4l4,1l8,0l20 -5l39 -11l11 -4l6 -4l0,30l-8 -4l-12,0l-16,3l-16,5l-13,6l-11,6l-8,6l-18,16l-6,4l-8,3l-8,0l-8 -3l-4 -4l-2 -4l-3 -8l-1 -12l1 -8l4 -12l5 -6l12 -12l16 -22l8 -9l9 -7l11 -6l43 -14l20 -8zM156 179l4 -1l8,0l16,4l17,6l8,4l6,4l3,4l1,4l0,12l-3,12l-4,7l-10,9l-6,8l-9,24l0,4l0,16l0,4l-3,4l-4,2l-8,3l-12 -1l-8 -2l-20 -9l-8 -2l-6,1l-4,4l-2,4l-4,1l-4 -3l-7 -14l-4 -4l-17 -5l-5 -3l-6 -8l-4 -12l0 -8l2 -4l4 -4l25 -12l27 -24l13 -13l8 -5l15 -6zM148 196l-8,2l-4,2l-22,16l-3,4l-10,16l-7,8l-1,4l1,4l2,4l4,4l6,4l18,9l8,2l8,1l8 -3l19 -13l3 -4l6 -14l4 -6l5 -4l14 -8l3 -4l1 -4l-1 -8l-3 -4l-4 -4l-7 -4l-12 -2l-16,2l-12,0zM112 308l8,2l8,6l4,7l8,21l10,12l2,4l2,12l-1,8l-3,4l-6,4l-4,0l-4 -1l-4 -5l-8 -13l-4 -2l-4 -1l-8,0l-16,8l-16,3l-16,8l-4 -1l-3 -4l-1 -4l-1 -8l1 -24l12 -26l4 -3l8 -1l12,0l12,3l5 -1l4 -4zM101 332l-9,2l-3,2l-5,8l-10,8l-2,3l0,6l4,3l6,0l6 -3l8 -6l4 -1l16 -2l4 -2l3 -2l2 -4l0 -4l-1 -4l-4 -5l-4 -2l-12,2zM0 352l0,8l0 -9zM364 372l12,4l7,4l4,4l9,12l12,4l-58,0l3 -4l5 -20l2 -3l4 -1z"/><path fill="#9e1a28" stroke="#9e1a28" stroke-width="0.8" d="M232 0l88,0l-8,16l-4,5l-8,5l-12,2l-16 -1l-8 -2l-4 -2l-4 -5l-6 -10l-3 -4l-7 -2l-10 -2zM400 48l12 -2l8,0l4,2l6,4l4,8l0,8l-3,8l-7,6l-16,8l-16,3l-12,1l-12,0l-8 -3l-4 -3l-2 -4l0 -4l1 -4l3 -4l7 -8l13 -8l22 -8zM408 60l-5,8l1,2l2,2l6,0l8 -4l2 -4l0 -4l-2 -2l-4 -1l-4,1l-4,2zM136 60l12,1l8,4l12,11l12,15l8,8l3,5l0,8l-2,4l-3,4l-7,4l-11,3l-20,1l-24 -3l-8 -3l-4 -3l-4 -4l-4 -6l-3 -9l-1 -8l1 -8l3 -8l4 -5l8 -6l8 -3l10 -2zM524 180l20 -2l8,2l6,4l2,2l0,30l-6,4l-11,4l-55,15l-12,1l-4 -1l-4 -4l-2 -7l1 -8l2 -8l4 -8l7 -8l12 -8l12 -4l17 -4zM506 204l-2,4l4,2l4,0l9 -2l4 -4l-1 -2l-4 -2l-4,0l-8,3zM148 196l12,0l16 -2l12,2l7,4l4,4l3,4l1,8l-1,4l-3,4l-14,8l-5,4l-4,6l-6,14l-3,4l-19,13l-8,3l-8 -1l-8 -2l-18 -9l-6 -4l-4 -4l-2 -4l-1 -4l1 -4l7 -8l10 -16l3 -4l22 -16l4 -2l8 -2zM129 216l-7,4l-3,4l0,4l2,4l3,3l16,9l4,1l6 -1l6 -3l4 -5l4 -8l1 -4l0 -4l-5 -4l-12 -2l-8 -1l-8,2zM104 331l12 -2l4,2l4,5l1,4l0,4l-2,4l-3,2l-4,2l-16,2l-4,1l-8,6l-6,3l-6,0l-4 -3l0 -6l2 -3l10 -8l5 -8l3 -2l9 -2z"/><path fill="#5e0f22" stroke="#5e0f22" stroke-width="0.8" d="M408 60l4 -2l4 -1l4,1l2,2l0,4l-2,4l-8,4l-6,0l-2 -2l-1 -2l5 -8zM508 203l8 -3l4,0l4,2l1,2l-4,4l-9,2l-4,0l-4 -2l2 -4zM132 215l8 -2l8,1l12,2l5,4l0,4l-1,4l-4,8l-4,5l-6,3l-6,1l-4 -1l-16 -9l-3 -3l-2 -4l0 -4l3 -4l7 -4z"/></g><polyline points="0,36 12,40 22,47 30,57" fill="none" stroke="#333" stroke-width="1.1" stroke-linejoin="round"/><polyline points="0,119 12,117 22,116" fill="none" stroke="#333" stroke-width="1.1" stroke-linejoin="round"/><polyline points="81,18 81,34 83,46 93,53 107,57 119,61" fill="none" stroke="#333" stroke-width="1.1" stroke-linejoin="round"/><polyline points="162,97 178,97 194,101 198,107" fill="none" stroke="#333" stroke-width="1.1" stroke-linejoin="round"/><polyline points="245,6 217,12 204,24 202,40 210,51 227,57 249,57 267,53 271,65 269,71" fill="none" stroke="#333" stroke-width="1.1" stroke-linejoin="round"/><polyline points="337,5 339,24 333,44 320,63 306,79 304,85 316,87 333,84 353,78" fill="none" stroke="#333" stroke-width="1.1" stroke-linejoin="round"/><polyline points="371,5 372,26 375,39 391,42 409,40" fill="none" stroke="#333" stroke-width="1.1" stroke-linejoin="round"/><polyline points="476,28 497,22 517,14 529,5" fill="none" stroke="#333" stroke-width="1.1" stroke-linejoin="round"/><polyline points="418,60 434,65 450,75 464,87 478,95 493,98 517,91 537,83 555,77" fill="none" stroke="#333" stroke-width="1.1" stroke-linejoin="round"/><polyline points="237,99 229,111 223,127 225,136 237,142 257,144 280,144 286,142" fill="none" stroke="#333" stroke-width="1.1" stroke-linejoin="round"/><polyline points="349,126 365,126 379,134 393,146 409,151 438,151 468,146 497,134 527,121 555,112" fill="none" stroke="#333" stroke-width="1.1" stroke-linejoin="round"/><polyline points="154,164 170,170 190,176 206,178 221,174 237,170 257,169 280,170 300,172 322,181" fill="none" stroke="#333" stroke-width="1.1" stroke-linejoin="round"/><polyline points="389,187 418,182 458,172 497,158 527,148 555,140" fill="none" stroke="#333" stroke-width="1.1" stroke-linejoin="round"/><polyline points="332,221 359,216 389,210 418,204 450,200 478,190 507,182 537,180 555,181" fill="none" stroke="#333" stroke-width="1.1" stroke-linejoin="round"/><polyline points="85,204 93,210 115,209 134,202 159,197 172,196 184,199 197,205 216,215 235,228 250,234 265,233" fill="none" stroke="#333" stroke-width="1.1" stroke-linejoin="round"/><polyline points="6,204 20,216 36,228 55,236 79,237 103,236 129,234 150,235 164,240 170,251 174,261 188,273 208,276 237,277 257,273 280,265 300,261 329,259 353,261" fill="none" stroke="#333" stroke-width="1.1" stroke-linejoin="round"/><polyline points="416,244 438,236 458,226 478,218 497,214 513,214 520,224 517,240 509,255 515,265 527,265 537,257 555,255" fill="none" stroke="#333" stroke-width="1.1" stroke-linejoin="round"/><polyline points="24,330 40,338 59,329 79,319 99,311 123,307 142,308 158,310 178,307 198,304 217,303 237,306 257,312 271,316" fill="none" stroke="#333" stroke-width="1.1" stroke-linejoin="round"/><polyline points="339,314 369,304 399,304 428,307 452,315 478,321 507,327 537,332 555,331" fill="none" stroke="#333" stroke-width="1.1" stroke-linejoin="round"/><polyline points="75,396 75,374 83,358 93,351 103,356 111,366 123,378 138,390 146,396" fill="none" stroke="#333" stroke-width="1.1" stroke-linejoin="round"/><polyline points="4,380 16,382 20,390 18,396" fill="none" stroke="#333" stroke-width="1.1" stroke-linejoin="round"/><polyline points="229,396 241,386 257,384 280,385 300,384 320,376 339,368" fill="none" stroke="#333" stroke-width="1.1" stroke-linejoin="round"/><polyline points="409,370 428,376 458,384 488,387 517,387 537,390 555,395" fill="none" stroke="#333" stroke-width="1.1" stroke-linejoin="round"/><g clip-path="url(#cf)"><polygon points="37.3,-3 37.3,0.4 32.4,13.8 31,22.2 34.5,33.5 40.2,42 43.7,44.1 47.2,39.2 50.8,34.9 52.9,27.9 54.3,18.7 59.9,15.2 67,11.6 69.8,15.2 74,15.9 79.7,16.6 86.7,19.4 92.4,22.2 94.5,29.3 95.9,39.2 98,37 101.6,29.3 104.4,23.6 102.3,16.6 99.4,8.1 96.6,4.6 91,4.6 85.3,2.5 83.9,0.4 83.9,-3" fill="#fff" stroke="#fff" stroke-width="5" stroke-linejoin="round"/><polygon points="24.6,61.7 30,58 35.9,57.5 43,61.7 51.5,68.8 62.7,78.7 71.2,87.2 79.7,94.2 91,102.7 102.3,106.9 112.1,111.1 122,114 130.5,115.4 136,119.6 150.3,121 157.3,118.2 163,112 167.2,109.7 172.8,105.5 174.3,111.1 168.6,118.2 164.4,128.1 164.4,133.7 172.8,140.8 180,144 186,142.5 192.6,142.2 190,146 178.5,147.9 171.4,153.5 164.4,156.3 157.3,159.2 143.2,161.3 129.1,161.3 119.2,164.8 110.7,170.5 102.3,178.9 96.6,186 92.4,195.9 88.2,202.9 82.5,200.1 76.9,195.9 65.6,193 55.7,188.8 45.8,183.2 37.3,178.9 28.9,176.1 17.6,177.5 9.1,180.3 0.6,186 -5,186 -5,150.7 0.6,150.7 6.3,152.1 13.3,147.9 14.8,142.2 12,135.2 14.8,126.7 23.2,122.5 24.6,114 24.6,106.9 24.6,92.8 25.3,81.5 21.8,73 23.2,64.6" fill="#fff" stroke="#fff" stroke-width="5" stroke-linejoin="round"/><polygon points="-5,220 -0.5,220 3.5,221.1 8,223.9 11.9,224.5 16.5,222.2 18.2,222.8 17,227.9 15.9,233.5 15.9,244.8 17.6,253.3 22.1,257.2 28.6,261.8 33.5,267.7 34.5,273.6 37.5,279.6 39.5,285.5 41.4,293.4 40.5,300.3 38.5,307.2 34.5,315.1 28.6,322.1 23.7,328 19.7,334.9 20.7,341.8 19.7,349.7 14.8,346.8 7.8,346.8 1.9,350.7 -0.1,352.7 -5,352.7" fill="#fff" stroke="#fff" stroke-width="5" stroke-linejoin="round"/><polygon points="-5,203.6 -0.5,203.6 2.3,203.9 6.3,206.4 6.9,208.7 2.3,210.4 0.1,211.5 -5,211.5" fill="#fff" stroke="#fff" stroke-width="5" stroke-linejoin="round"/><polygon points="175.4,127.2 178.2,132.8 182.5,131.4 186.7,122.9 196.6,113 206.5,107.4 216.3,106 222.7,103.2 220.6,100.3 209.3,98.9 203.6,100.3 198,107.4 190.9,113 183.9,120.1 176.8,124.3" fill="#fff" stroke="#fff" stroke-width="5" stroke-linejoin="round"/><polygon points="233.3,100.3 234.7,103.2 240.3,101.7 248.8,93.3 260.1,86.2 271.4,79.2 284.1,70.7 295.4,66.5 305.3,65.8 314.4,63.6 313.7,58.7 305.3,58.7 296.8,62.2 284.1,66.5 277,62.2 274.2,66.5 265.7,73.5 254.4,79.2 246,86.2 238.9,91.9 234.7,96.1" fill="#fff" stroke="#fff" stroke-width="5" stroke-linejoin="round"/><polygon points="335.6,55.3 337.5,57.3 344.5,55.3 353.4,49.4 363.2,44.5 369.2,39.5 377.1,34.6 383,30.6 381,29.2 375.1,29.6 367.2,33.6 359.3,36.6 351.4,41.5 344.5,45.5 338.5,51.4" fill="#fff" stroke="#fff" stroke-width="5" stroke-linejoin="round"/><polygon points="427,9 432,10 438,5 444,0 445,-3 436,-3 433,3 428,5" fill="#fff" stroke="#fff" stroke-width="5" stroke-linejoin="round"/><polygon points="76,92 98,95 100,103 121,104 123,111 133,112 155,112 160,118 150,124 130,120 100,112 76,100" fill="#fff"/><polygon points="112,158 165,154 168,163 118,167" fill="#fff"/><polygon points="14,66 26,64 27,106 16,108" fill="#fff"/><polygon points="-2,144 25,144 25,153 -2,153" fill="#fff"/><polygon points="14,226 25,226 25,258 14,258" fill="#fff"/><polygon points="-2,350 3,350 3,400 -2,400" fill="#fff"/><polygon points="37.3,-3 37.3,0.4 32.4,13.8 31,22.2 34.5,33.5 40.2,42 43.7,44.1 47.2,39.2 50.8,34.9 52.9,27.9 54.3,18.7 59.9,15.2 67,11.6 69.8,15.2 74,15.9 79.7,16.6 86.7,19.4 92.4,22.2 94.5,29.3 95.9,39.2 98,37 101.6,29.3 104.4,23.6 102.3,16.6 99.4,8.1 96.6,4.6 91,4.6 85.3,2.5 83.9,0.4 83.9,-3" fill="#808080" stroke="#000" stroke-width="1.6" stroke-linejoin="round"/><polygon points="24.6,61.7 30,58 35.9,57.5 43,61.7 51.5,68.8 62.7,78.7 71.2,87.2 79.7,94.2 91,102.7 102.3,106.9 112.1,111.1 122,114 130.5,115.4 136,119.6 150.3,121 157.3,118.2 163,112 167.2,109.7 172.8,105.5 174.3,111.1 168.6,118.2 164.4,128.1 164.4,133.7 172.8,140.8 180,144 186,142.5 192.6,142.2 190,146 178.5,147.9 171.4,153.5 164.4,156.3 157.3,159.2 143.2,161.3 129.1,161.3 119.2,164.8 110.7,170.5 102.3,178.9 96.6,186 92.4,195.9 88.2,202.9 82.5,200.1 76.9,195.9 65.6,193 55.7,188.8 45.8,183.2 37.3,178.9 28.9,176.1 17.6,177.5 9.1,180.3 0.6,186 -5,186 -5,150.7 0.6,150.7 6.3,152.1 13.3,147.9 14.8,142.2 12,135.2 14.8,126.7 23.2,122.5 24.6,114 24.6,106.9 24.6,92.8 25.3,81.5 21.8,73 23.2,64.6" fill="#808080" stroke="#000" stroke-width="1.6" stroke-linejoin="round"/><polygon points="-5,220 -0.5,220 3.5,221.1 8,223.9 11.9,224.5 16.5,222.2 18.2,222.8 17,227.9 15.9,233.5 15.9,244.8 17.6,253.3 22.1,257.2 28.6,261.8 33.5,267.7 34.5,273.6 37.5,279.6 39.5,285.5 41.4,293.4 40.5,300.3 38.5,307.2 34.5,315.1 28.6,322.1 23.7,328 19.7,334.9 20.7,341.8 19.7,349.7 14.8,346.8 7.8,346.8 1.9,350.7 -0.1,352.7 -5,352.7" fill="#808080" stroke="#000" stroke-width="1.6" stroke-linejoin="round"/><polygon points="-5,203.6 -0.5,203.6 2.3,203.9 6.3,206.4 6.9,208.7 2.3,210.4 0.1,211.5 -5,211.5" fill="#808080" stroke="#000" stroke-width="1.6" stroke-linejoin="round"/><polygon points="175.4,127.2 178.2,132.8 182.5,131.4 186.7,122.9 196.6,113 206.5,107.4 216.3,106 222.7,103.2 220.6,100.3 209.3,98.9 203.6,100.3 198,107.4 190.9,113 183.9,120.1 176.8,124.3" fill="#808080" stroke="#000" stroke-width="1.6" stroke-linejoin="round"/><polygon points="233.3,100.3 234.7,103.2 240.3,101.7 248.8,93.3 260.1,86.2 271.4,79.2 284.1,70.7 295.4,66.5 305.3,65.8 314.4,63.6 313.7,58.7 305.3,58.7 296.8,62.2 284.1,66.5 277,62.2 274.2,66.5 265.7,73.5 254.4,79.2 246,86.2 238.9,91.9 234.7,96.1" fill="#808080" stroke="#000" stroke-width="1.6" stroke-linejoin="round"/><polygon points="335.6,55.3 337.5,57.3 344.5,55.3 353.4,49.4 363.2,44.5 369.2,39.5 377.1,34.6 383,30.6 381,29.2 375.1,29.6 367.2,33.6 359.3,36.6 351.4,41.5 344.5,45.5 338.5,51.4" fill="#808080" stroke="#000" stroke-width="1.6" stroke-linejoin="round"/><polygon points="427,9 432,10 438,5 444,0 445,-3 436,-3 433,3 428,5" fill="#808080" stroke="#000" stroke-width="1.6" stroke-linejoin="round"/><polygon points="0.6,233.5 5.7,230.1 9.1,233.5 8,239.2 4,243.7 0.6,242.6" fill="#fff" stroke="#000" stroke-width="1.4"/><ellipse cx="7.9" cy="72.3" rx="5.2" ry="4" transform="rotate(0 7.9 72.3)" fill="#808080" stroke="#000" stroke-width="1.4"/><ellipse cx="1" cy="64.5" rx="2" ry="4.5" transform="rotate(0 1 64.5)" fill="#808080" stroke="#000" stroke-width="1.4"/><ellipse cx="230" cy="128" rx="8" ry="3" transform="rotate(-15 230 128)" fill="#808080" stroke="#000" stroke-width="1.4"/><ellipse cx="193.8" cy="141.3" rx="2.5" ry="2" transform="rotate(0 193.8 141.3)" fill="#808080" stroke="#000" stroke-width="1.4"/><ellipse cx="203.6" cy="139.2" rx="2.2" ry="1.8" transform="rotate(0 203.6 139.2)" fill="#808080" stroke="#000" stroke-width="1.4"/><ellipse cx="212.1" cy="134.2" rx="2" ry="1.6" transform="rotate(0 212.1 134.2)" fill="#808080" stroke="#000" stroke-width="1.4"/><ellipse cx="391.9" cy="20.8" rx="2.3" ry="2" transform="rotate(0 391.9 20.8)" fill="#808080" stroke="#000" stroke-width="1.4"/></g><rect x="80" y="160" width="160" height="120" fill="none" stroke="#000" stroke-width="3"/><g clip-path="url(#cf)"><text x="138.3" y="94.5" font-family="Liberation Serif" font-size="46.0" font-weight="normal" text-anchor="middle" textLength="50.0" lengthAdjust="spacingAndGlyphs" transform="rotate(35 138.3 79)">16</text><text x="442.1" y="48.1" font-family="Liberation Serif" font-size="46.0" font-weight="normal" text-anchor="middle" textLength="50.0" lengthAdjust="spacingAndGlyphs" transform="rotate(-10 442.1 32.6)">10</text><text x="384.7" y="81.7" font-family="Liberation Serif" font-size="46.0" font-weight="normal" text-anchor="middle" textLength="50.0" lengthAdjust="spacingAndGlyphs" transform="rotate(-20 384.7 66.2)">12</text><text x="314.6" y="142.0" font-family="Liberation Serif" font-size="46.0" font-weight="normal" text-anchor="middle" textLength="50.0" lengthAdjust="spacingAndGlyphs" transform="rotate(-12 314.6 126.5)">14</text><text x="356.1" y="201.5" font-family="Liberation Serif" font-size="46.0" font-weight="normal" text-anchor="middle" textLength="50.0" lengthAdjust="spacingAndGlyphs" transform="rotate(0 356.1 186)">16</text><text x="292.8" y="236.3" font-family="Liberation Serif" font-size="46.0" font-weight="normal" text-anchor="middle" textLength="50.0" lengthAdjust="spacingAndGlyphs" transform="rotate(-10 292.8 220.8)">18</text><text x="382.8" y="267.9" font-family="Liberation Serif" font-size="46.0" font-weight="normal" text-anchor="middle" textLength="50.0" lengthAdjust="spacingAndGlyphs" transform="rotate(-25 382.8 252.4)">20</text><text x="303.7" y="328.1" font-family="Liberation Serif" font-size="46.0" font-weight="normal" text-anchor="middle" textLength="50.0" lengthAdjust="spacingAndGlyphs" transform="rotate(0 303.7 312.6)">22</text><text x="374.9" y="381.5" font-family="Liberation Serif" font-size="46.0" font-weight="normal" text-anchor="middle" textLength="50.0" lengthAdjust="spacingAndGlyphs" transform="rotate(0 374.9 366)">24</text></g><rect x="0" y="0" width="560" height="400" fill="none" stroke="#000" stroke-width="2.5"/><line x1="-5" y1="40" x2="0" y2="40" stroke="#000" stroke-width="1.6"/><line x1="-5" y1="120" x2="0" y2="120" stroke="#000" stroke-width="1.6"/><line x1="-5" y1="200" x2="0" y2="200" stroke="#000" stroke-width="1.6"/><line x1="-5" y1="280" x2="0" y2="280" stroke="#000" stroke-width="1.6"/><line x1="-5" y1="360" x2="0" y2="360" stroke="#000" stroke-width="1.6"/><line x1="160" y1="400" x2="160" y2="405" stroke="#000" stroke-width="1.6"/><line x1="360" y1="400" x2="360" y2="405" stroke="#000" stroke-width="1.6"/><line x1="560" y1="400" x2="560" y2="405" stroke="#000" stroke-width="1.6"/><text x="159.5" y="431.0" font-family="Liberation Serif" font-size="39.0" font-weight="normal" text-anchor="middle" textLength="106.0" lengthAdjust="spacingAndGlyphs">145°E</text><text x="359.5" y="431.0" font-family="Liberation Serif" font-size="39.0" font-weight="normal" text-anchor="middle" textLength="106.0" lengthAdjust="spacingAndGlyphs">150°E</text><text x="559.5" y="431.0" font-family="Liberation Serif" font-size="39.0" font-weight="normal" text-anchor="middle" textLength="106.0" lengthAdjust="spacingAndGlyphs">155°E</text><text x="306.0" y="-9.5" font-family="Liberation Serif" font-size="47.0" font-weight="normal" text-anchor="middle" textLength="194.0" lengthAdjust="spacingAndGlyphs">JAS 2011</text></g><text x="755.5" y="34.5" font-family="Liberation Sans" font-size="32.5" font-weight="bold" text-anchor="start">B</text><g transform="translate(100,526.5)"><g clip-path="url(#cd)"><path fill="#80b0c2" stroke="#80b0c2" stroke-width="0.8" d="M496 23l4 -1l4,0l2,2l2,4l0,4l-1,4l-3,4l-4,2l-4,1l-4 -1l-5 -2l-2 -4l1 -4l3 -4l6 -4z"/><path fill="#d0d8da" stroke="#d0d8da" stroke-width="0.8" d="M476 0l56,0l0,4l-2,8l-14,28l-3,4l-5,4l-4,1l-8,2l-12 -2l-8 -4l-10 -9l-6 -8l-2 -8l2 -8l4 -4l8 -2l2 -2l0 -4zM495 24l-6,4l-3,4l-1,4l2,4l5,2l4,1l4 -1l4 -2l3 -4l1 -4l0 -4l-2 -4l-2 -2l-4,0l-4,1zM312 256l8 -1l4,1l4,4l2,4l2,8l0,8l-2,8l-2,3l-4,3l-8,2l-16 -1l-16 -4l-8 -1l-8,1l-8,4l-7,5l-3,4l0,4l7,12l0,4l-3,8l-2,3l-4,3l-4,1l-4,0l-4 -2l-4 -4l-2 -5l-1 -8l4 -16l-1 -16l2 -8l4 -4l6 -2l8 -1l20,0l8 -1l16 -7l15 -9zM260 360l4,0l4,2l15,10l5,5l4,7l2,8l0,4l-2,4l-71,0l7 -2l12 -3l7 -3l3 -4l2 -4l5 -20z"/><path fill="#e8cfc8" stroke="#e8cfc8" stroke-width="0.8" d="M4 0l90,0l-5,4l-3,8l-1,16l2,40l-1,8l-2,3l-4,1l-4 -1l-4 -4l-12 -11l-8 -7l-16 -8l-12 -3l-8 -1l-8,1l-8,3l0 -49zM364 4l10 -4l29,0l-3,9l-6,7l-10,8l-12,7l-8,2l-4 -1l-4 -1l-3 -3l-2 -4l0 -8l1 -4l3 -4l8 -4zM456 3l5 -3l13,0l0,4l-2,2l-8,2l-4,4l-2,8l2,8l4,6l11,10l9,5l8,2l12 -2l9 -5l5 -8l12 -24l2 -8l0 -4l28,0l0,19l-4 -1l-4,1l-4,3l-12,10l-14,16l-6,5l-12,4l-16,0l-12 -3l-8 -4l-8 -6l-7 -8l-2 -8l0 -8l1 -9l3 -7zM236 8l12,2l8,3l6,7l3,8l-1,8l-4,8l-8,7l-12,5l-8 -1l-7 -3l-3 -4l-3 -8l0 -12l2 -12l3 -4l4 -3l5 -1zM252 95l8 -1l12,1l8,3l4,4l3,38l-1,4l-2,2l-8,3l-16,2l-12 -2l-10 -5l-3 -4l-2 -4l-2 -8l0 -8l1 -7l2 -5l6 -7l10 -5zM296 240l16 -3l16 -1l8,2l4,1l4,4l4,5l12,20l22,44l2,8l0,8l-2,4l-4,4l-7,4l-7,2l-8,0l-36 -3l-6,1l-4,4l-1,8l3,12l4,14l6,10l8,8l6,4l-44,0l2 -4l0 -4l-2 -8l-4 -7l-8 -7l-16 -10l-4,0l-3,4l-5,20l-2,4l-3,4l-7,3l-12,3l-7,2l-40,0l-12 -4l-7 -4l-4 -4l-1 -4l0 -4l2 -4l6 -8l10 -8l21 -13l4 -4l4 -8l1 -11l-1 -7l-2 -5l-6 -7l-12 -9l-6 -8l-1 -4l1 -4l3 -4l7 -5l8 -3l4,0l4,1l4,2l8,7l4 -2l8 -7l4 -2l30 -7l6 -4l9 -8l7 -4l11 -4zM311 256l-15,9l-16,7l-8,1l-20,0l-8,1l-6,2l-4,4l-2,8l1,16l-4,16l1,8l2,5l4,4l4,2l4,0l4 -1l4 -3l2 -3l3 -8l0 -4l-7 -12l0 -4l3 -4l7 -5l8 -4l8 -1l8,1l16,4l16,1l8 -2l4 -3l2 -3l2 -8l0 -8l-2 -8l-2 -4l-4 -4l-4 -1l-8,1zM0 372l3,12l-1,8l-2,3l0 -24z"/><path fill="#d6947f" stroke="#d6947f" stroke-width="0.8" d="M92 1l2 -1l165,0l12,4l7,4l2,3l3,5l8,20l5,6l8,4l12,2l8 -1l4 -2l2 -5l2 -12l1 -28l41,0l-11,4l-7,4l-4,4l-1,4l0,8l2,4l6,4l5,1l5 -1l7 -3l14 -9l10 -11l3 -9l14,0l-2,12l-3,8l-4,6l-8,6l-12,8l-12,5l-12,4l-20,4l-7,3l-2,4l-4,20l-3,8l-4,5l-7,7l-13,8l-4,3l-2,5l-1,4l1,4l2,4l4,3l8,4l8,2l8 -1l4 -2l7 -6l9 -12l5 -4l7 -2l12,0l8,3l8,5l4,6l2,8l0,8l-2,4l-4,4l-16,12l-3,4l-1,4l0,8l9,44l10,28l5,24l2,8l7,12l17,24l5,12l2,8l0,12l-5,32l1,8l3,12l-88,0l-10 -8l-9 -12l-5 -12l-3 -16l1 -8l2 -3l8 -2l32,3l8,0l8 -1l8 -4l4 -3l4 -6l0 -4l-1 -8l-3 -8l-20 -40l-12 -20l-4 -5l-4 -4l-4 -1l-8 -2l-20,1l-12,3l-8,3l-12,6l-8,7l-6,4l-30,7l-4,2l-8,7l-4,2l-8 -7l-4 -2l-4 -1l-4,0l-8,3l-7,5l-3,4l-1,4l1,4l6,8l12,9l6,7l2,5l1,7l-1,11l-4,8l-4,4l-21,13l-10,8l-6,8l-2,4l0,4l1,4l4,4l7,4l12,4l-46,0l-12 -8l-9 -8l0 -4l3 -4l48 -36l9 -8l2 -4l1 -4l-1 -4l-3 -4l-23 -20l-6 -8l0 -4l2 -4l4 -4l11 -8l19 -11l32 -13l7 -4l9 -8l8 -4l12 -3l64 -10l8 -3l4 -3l4 -5l1 -4l0 -4l-3 -4l-5 -4l-5 -2l-24 -5l-28 -9l-28 -4l-16 -4l-8 -4l-3 -4l0 -4l2 -24l0 -8l-2 -8l-5 -9l-17 -15l-5 -8l-3 -12l-1 -24l-3 -8l-4 -4l-25 -16l-6 -3l-8 -1l-8,0l-8,3l-4,4l-3,5l-1,8l0,8l4,16l4,10l8,15l8,10l13,13l5,8l2,8l-6,20l-1,8l1,8l1,8l5,4l24,5l8,4l4,4l4,7l2,8l-1,4l-1,4l-4,4l-4,3l-8,2l-8,1l-4 -1l-10 -9l-14 -4l-6 -4l-1 -4l4 -12l0 -4l-5 -4l-8 -1l-8,1l-16,7l-4,0l-4 -2l-5 -5l-11 -19l-8 -11l-8 -6l-14 -8l-5 -4l-1 -4l3 -16l1 -12l-2 -8l-5 -8l-9 -8l-8 -3l-4,0l-8,2l-4,2l-4,4l0 -24l8 -3l12 -1l12,2l12,5l12,8l20,19l4,1l4 -1l2 -3l1 -8l-2 -48l1 -8l3 -8zM233 8l-5,1l-4,3l-3,4l-2,12l0,12l3,8l3,4l7,3l8,1l12 -5l8 -7l4 -8l1 -8l-3 -8l-6 -7l-8 -3l-12 -2zM250 96l-10,5l-6,7l-2,5l-1,7l0,8l2,8l2,4l3,4l10,5l12,2l16 -2l8 -3l2 -2l1 -4l-3 -38l-4 -4l-8 -3l-12 -1l-8,1zM448 0l13,0l-6,4l-3,8l-2,12l2,8l1,4l7,8l8,6l8,4l8,2l16,1l12 -2l10 -7l14 -16l12 -10l4 -3l4 -1l4,1l0,27l-15,6l-17,11l-8,3l-8,0l-20,0l-16 -3l-14 -7l-16 -12l-3 -4l-1 -8l3 -20l0 -12zM532 95l8 -2l8,0l12,3l0,38l-12 -1l-16,2l-40,7l-4,1l-4 -2l-1 -1l1 -8l5 -8l4 -4l23 -17l14 -7zM3 348l7,4l8,8l17,20l1,4l1,4l-4,12l-33,0l0 -5l2 -3l1 -8l-1 -8l-2 -5l0 -24z"/><path fill="#c05b3c" stroke="#c05b3c" stroke-width="0.8" d="M260 0l73,0l-1,28l-2,12l-2,5l-4,2l-8,1l-12 -2l-8 -4l-5 -6l-8 -20l-3 -5l-2 -3l-7 -4l-12 -4zM420 0l25,0l0,12l-3,20l1,8l3,4l10,8l12,7l8,4l20,3l24,0l8 -3l20 -13l12 -4l0,50l-8 -2l-12 -1l-8,2l-12,6l-28,20l-3,3l-5,8l-1,8l1,1l4,2l4 -1l40 -7l16 -2l12,1l0,19l-12 -2l-16,2l-12,3l-36,15l-36,9l-12,1l-20 -2l-8,1l-4,1l-5,3l-3,5l-1,7l0,8l5,11l8,8l17,13l5,8l1,8l-3,20l1,8l4,8l15,20l6,12l4,12l5,32l5,12l3,4l5,4l24,10l8,6l-84,0l-3 -12l-1 -8l5 -32l0 -12l-2 -8l-5 -12l-17 -24l-7 -12l-2 -8l-5 -24l-10 -28l-9 -44l0 -8l1 -4l3 -4l16 -12l4 -4l2 -4l0 -4l0 -8l-5 -8l-5 -5l-8 -4l-12 -1l-8,1l-8,5l-13,16l-7,4l-4,1l-8 -1l-8 -3l-8 -5l-2 -4l-1 -4l1 -4l2 -5l4 -3l13 -8l7 -7l4 -5l3 -8l4 -20l2 -4l7 -3l20 -4l12 -4l12 -5l12 -8l8 -6l4 -6l3 -8l2 -12zM413 48l-25,10l-19,6l-8,4l-4,4l-2,4l-1,4l1,4l3,4l6,3l20,4l12,5l8,7l12,15l8,7l8,4l12,0l12 -4l8 -5l4 -3l19 -25l4 -8l-1 -4l-3 -4l-6 -4l-21 -9l-24 -14l-12 -5l-8,0zM124 12l11,0l9,3l27,17l4,4l3,8l1,24l3,12l5,8l17,15l5,9l2,8l0,8l-2,24l0,4l3,4l8,4l16,4l28,4l28,9l24,5l5,2l5,4l3,4l0,4l-1,4l-4,5l-4,3l-8,3l-64,10l-12,3l-8,4l-9,8l-7,4l-28,12l-16,8l-13,8l-9,8l-2,4l0,4l3,4l26,24l3,4l1,4l-1,4l-6,8l-53,40l-3,4l0,4l4,4l17,12l-102,0l4 -12l-1 -4l-1 -4l-20 -24l-7 -5l-8 -4l0 -21l8 -4l8 -1l8,1l4,3l12,13l8,5l12,6l10,3l10,1l12 -1l16 -3l12 -5l5 -4l8 -8l2 -4l0 -4l0 -4l-3 -4l-7 -8l-16 -12l-4 -4l-4 -8l0 -4l2 -4l4 -4l5 -2l20 -6l9 -4l21 -12l5 -4l2 -4l-2 -4l-7 -5l-9 -15l-7 -5l-8 -2l-16,0l-4 -1l-12 -4l-20 -3l-8 -2l-12 -7l-12 -10l-8 -6l-12 -4l-12 -2l-8,2l-8,3l-4,4l0 -106l4 -4l8 -4l8,0l8,3l9,8l5,8l2,8l-1,12l-3,16l1,4l5,4l14,8l8,6l8,11l11,19l5,5l4,2l4,0l16 -7l8 -1l8,1l5,4l0,4l-4,12l1,4l6,4l14,4l10,9l4,1l8 -1l8 -2l4 -3l4 -5l2 -7l-2 -8l-4 -7l-4 -4l-8 -4l-24 -5l-5 -4l-1 -8l-1 -8l1 -8l6 -20l-2 -8l-5 -8l-17 -18l-8 -12l-8 -17l-4 -17l0 -12l3 -8l5 -5l8 -3zM225 188l-5,1l-3,3l-2,4l1,4l2,4l2,2l4,2l8,1l8 -1l6 -4l3 -4l-1 -3l-4 -5l-8 -3l-8 -1zM520 224l8 -3l8,0l8,2l7,5l5,8l0,6l-3,6l-5,4l-12,3l-16,0l-12 -3l-6 -4l-2 -4l1 -4l2 -4l9 -8l8 -4z"/><path fill="#9e1a28" stroke="#9e1a28" stroke-width="0.8" d="M416 48l8,0l12,5l24,14l21,9l6,4l3,4l1,4l-4,8l-19,25l-4,3l-8,5l-12,4l-12,0l-8 -4l-8 -7l-12 -15l-8 -7l-12 -5l-20 -4l-6 -3l-3 -4l-1 -4l1 -4l2 -4l4 -4l8 -4l19 -6l25 -10zM424 76l-3,4l0,8l5,12l6,8l8,4l8,1l5 -1l6 -4l5 -7l1 -5l0 -4l-1 -4l-4 -4l-8 -5l-12 -5l-8 -1l-8,3zM536 152l12 -1l12,2l0,20l-12 -2l-8,2l-32,13l-28,6l-9,4l-6,4l-3,4l-1,4l2,4l5,5l4,1l8,0l8 -2l28 -15l8 -2l8 -1l8,1l8,3l8,6l4,5l0,56l-36,5l-8,2l-8,4l-6,4l-3,4l-1,4l-1,8l1,8l3,8l6,8l4,4l9,4l28,8l8,4l4,3l0,53l-52,0l-8 -6l-24 -10l-8 -7l-3 -5l-2 -8l-5 -32l-4 -12l-6 -12l-15 -20l-4 -8l-1 -8l3 -20l-1 -8l-5 -8l-17 -13l-7 -7l-5 -8l-1 -8l0 -8l2 -4l3 -5l4 -2l8 -2l24,2l16 -2l36 -9l32 -14l14 -4zM520 224l-8,4l-9,8l-2,4l-1,4l2,4l6,4l12,3l16,0l12 -3l5 -4l3 -6l0 -6l-5 -8l-7 -5l-8 -2l-8,0l-8,3zM12 172l8 -2l8,1l12,3l10,6l18,15l12,5l24,4l12,4l4,1l16,0l8,2l7,5l9,15l7,5l1,2l1,2l-2,4l-7,5l-24,14l-28,9l-5,4l-2,4l0,4l4,8l4,4l11,8l9,8l6,8l0,4l0,4l-2,4l-8,8l-5,4l-12,5l-20,4l-8,0l-10 -1l-14 -5l-12 -6l-16 -16l-4 -3l-4 -1l-8,0l-12,5l0 -147l4 -4l7 -3zM129 220l-9,5l-4,1l-20 -4l-8,2l-8,4l-8,8l-12,7l-6,5l-3,4l-1,8l2,4l4,4l8,3l8,2l4,0l4 -2l16 -16l4 -2l20 -2l5 -3l15 -14l4 -5l0 -6l-4 -4l-4 -1l-4,1zM71 292l-5,8l-3,8l1,2l4,1l12 -1l4 -1l4 -2l1 -3l0 -4l-1 -4l-4 -5l-4 -3l-4,1l-4,2zM228 188l8,1l8,3l4,5l1,3l-3,4l-6,4l-8,1l-8 -1l-4 -2l-2 -2l-2 -4l-1 -4l2 -4l3 -3l5 -1z"/><path fill="#5e0f22" stroke="#5e0f22" stroke-width="0.8" d="M424 76l8 -3l8,1l12,5l8,5l4,4l1,4l0,4l-1,5l-5,7l-6,4l-5,1l-8 -1l-8 -4l-6 -8l-5 -12l0 -8l3 -4zM544 172l8 -1l8,2l0,40l-4 -5l-8 -6l-8 -3l-8 -1l-8,1l-8,2l-28,15l-8,2l-8,0l-4 -1l-5 -5l-2 -4l1 -4l3 -4l6 -4l9 -4l28 -6l8 -3l16 -8l11 -3zM132 219l4 -1l4,1l4,4l0,6l-4,5l-15,14l-5,3l-20,2l-4,2l-16,16l-4,2l-4,0l-8 -2l-8 -3l-4 -4l-2 -4l1 -8l3 -4l6 -5l12 -7l8 -8l8 -4l8 -2l20,4l4 -1l9 -5zM536 272l24 -3l0,78l-4 -3l-8 -4l-28 -8l-8 -3l-8 -8l-5 -9l-2 -8l0 -8l2 -8l3 -4l5 -4l9 -4l19 -4zM72 291l4 -2l4 -1l4,3l4,5l1,4l0,4l-1,3l-4,2l-4,1l-12,1l-4 -1l-1 -2l3 -8l5 -8z"/></g><polyline points="0,44 12,45 24,49 32,57" fill="none" stroke="#333" stroke-width="1.1" stroke-linejoin="round"/><polyline points="0,92 12,88 24,84" fill="none" stroke="#333" stroke-width="1.1" stroke-linejoin="round"/><polyline points="53,34 63,49 73,63 87,81" fill="none" stroke="#333" stroke-width="1.1" stroke-linejoin="round"/><polyline points="148,101 168,104 178,109 184,119" fill="none" stroke="#333" stroke-width="1.1" stroke-linejoin="round"/><polyline points="188,5 194,22 206,42 223,55 241,65 247,75 243,87" fill="none" stroke="#333" stroke-width="1.1" stroke-linejoin="round"/><polyline points="233,103 227,111 229,129 237,142 257,148 280,142" fill="none" stroke="#333" stroke-width="1.1" stroke-linejoin="round"/><polyline points="172,156 198,162 217,166 237,169 257,170 280,170 300,169 320,169 329,171" fill="none" stroke="#333" stroke-width="1.1" stroke-linejoin="round"/><polyline points="337,5 345,22 341,36 329,47 318,57 316,71 329,77 349,75 369,69" fill="none" stroke="#333" stroke-width="1.1" stroke-linejoin="round"/><polyline points="377,5 381,26 391,33 407,33 418,26 430,16" fill="none" stroke="#333" stroke-width="1.1" stroke-linejoin="round"/><polyline points="478,36 492,44 507,46 517,40 527,24 541,5" fill="none" stroke="#333" stroke-width="1.1" stroke-linejoin="round"/><polyline points="440,61 458,65 478,71 497,74 517,71 537,59 555,46" fill="none" stroke="#333" stroke-width="1.1" stroke-linejoin="round"/><polyline points="280,138 292,131" fill="none" stroke="#333" stroke-width="1.1" stroke-linejoin="round"/><polyline points="359,123 379,123 399,119 418,111 434,99 448,95 468,103 484,113 497,114 517,107 537,97 555,91" fill="none" stroke="#333" stroke-width="1.1" stroke-linejoin="round"/><polyline points="399,168 428,164 458,158 488,150 517,142 555,136" fill="none" stroke="#333" stroke-width="1.1" stroke-linejoin="round"/><polyline points="387,200 418,190 448,182 478,174 517,164 555,158" fill="none" stroke="#333" stroke-width="1.1" stroke-linejoin="round"/><polyline points="81,212 93,224 111,229 134,229 150,236 160,247 170,263 184,275 202,283 227,285 253,279 280,275 310,271 335,265 355,251 373,240 393,229" fill="none" stroke="#333" stroke-width="1.1" stroke-linejoin="round"/><polyline points="93,194 121,197 146,203 172,212 191,213 210,207 229,203 250,215 263,220 280,222 292,221" fill="none" stroke="#333" stroke-width="1.1" stroke-linejoin="round"/><polyline points="355,220 369,212 385,200 387,200" fill="none" stroke="#333" stroke-width="1.1" stroke-linejoin="round"/><polyline points="458,212 474,205 486,205 497,218 513,232 533,242 555,236" fill="none" stroke="#333" stroke-width="1.1" stroke-linejoin="round"/><polyline points="24,334 40,321 55,305 73,289 89,287 109,291 138,297 168,307 188,319 208,325 227,323 251,315 269,309" fill="none" stroke="#333" stroke-width="1.1" stroke-linejoin="round"/><polyline points="339,308 369,309 389,306 409,299 428,287 444,275 458,270 478,271 497,277 527,281 555,280" fill="none" stroke="#333" stroke-width="1.1" stroke-linejoin="round"/><polyline points="34,395 49,382 69,372 87,366" fill="none" stroke="#333" stroke-width="1.1" stroke-linejoin="round"/><polyline points="142,362 158,374 178,386 198,393 215,395" fill="none" stroke="#333" stroke-width="1.1" stroke-linejoin="round"/><polyline points="280,393 300,386 320,376 349,364" fill="none" stroke="#333" stroke-width="1.1" stroke-linejoin="round"/><polyline points="418,365 438,367 458,363 478,358 497,354 517,346 537,338 555,336" fill="none" stroke="#333" stroke-width="1.1" stroke-linejoin="round"/><g clip-path="url(#cf)"><polygon points="37.3,-3 37.3,0.4 32.4,13.8 31,22.2 34.5,33.5 40.2,42 43.7,44.1 47.2,39.2 50.8,34.9 52.9,27.9 54.3,18.7 59.9,15.2 67,11.6 69.8,15.2 74,15.9 79.7,16.6 86.7,19.4 92.4,22.2 94.5,29.3 95.9,39.2 98,37 101.6,29.3 104.4,23.6 102.3,16.6 99.4,8.1 96.6,4.6 91,4.6 85.3,2.5 83.9,0.4 83.9,-3" fill="#fff" stroke="#fff" stroke-width="5" stroke-linejoin="round"/><polygon points="24.6,61.7 30,58 35.9,57.5 43,61.7 51.5,68.8 62.7,78.7 71.2,87.2 79.7,94.2 91,102.7 102.3,106.9 112.1,111.1 122,114 130.5,115.4 136,119.6 150.3,121 157.3,118.2 163,112 167.2,109.7 172.8,105.5 174.3,111.1 168.6,118.2 164.4,128.1 164.4,133.7 172.8,140.8 180,144 186,142.5 192.6,142.2 190,146 178.5,147.9 171.4,153.5 164.4,156.3 157.3,159.2 143.2,161.3 129.1,161.3 119.2,164.8 110.7,170.5 102.3,178.9 96.6,186 92.4,195.9 88.2,202.9 82.5,200.1 76.9,195.9 65.6,193 55.7,188.8 45.8,183.2 37.3,178.9 28.9,176.1 17.6,177.5 9.1,180.3 0.6,186 -5,186 -5,150.7 0.6,150.7 6.3,152.1 13.3,147.9 14.8,142.2 12,135.2 14.8,126.7 23.2,122.5 24.6,114 24.6,106.9 24.6,92.8 25.3,81.5 21.8,73 23.2,64.6" fill="#fff" stroke="#fff" stroke-width="5" stroke-linejoin="round"/><polygon points="-5,220 -0.5,220 3.5,221.1 8,223.9 11.9,224.5 16.5,222.2 18.2,222.8 17,227.9 15.9,233.5 15.9,244.8 17.6,253.3 22.1,257.2 28.6,261.8 33.5,267.7 34.5,273.6 37.5,279.6 39.5,285.5 41.4,293.4 40.5,300.3 38.5,307.2 34.5,315.1 28.6,322.1 23.7,328 19.7,334.9 20.7,341.8 19.7,349.7 14.8,346.8 7.8,346.8 1.9,350.7 -0.1,352.7 -5,352.7" fill="#fff" stroke="#fff" stroke-width="5" stroke-linejoin="round"/><polygon points="-5,203.6 -0.5,203.6 2.3,203.9 6.3,206.4 6.9,208.7 2.3,210.4 0.1,211.5 -5,211.5" fill="#fff" stroke="#fff" stroke-width="5" stroke-linejoin="round"/><polygon points="175.4,127.2 178.2,132.8 182.5,131.4 186.7,122.9 196.6,113 206.5,107.4 216.3,106 222.7,103.2 220.6,100.3 209.3,98.9 203.6,100.3 198,107.4 190.9,113 183.9,120.1 176.8,124.3" fill="#fff" stroke="#fff" stroke-width="5" stroke-linejoin="round"/><polygon points="233.3,100.3 234.7,103.2 240.3,101.7 248.8,93.3 260.1,86.2 271.4,79.2 284.1,70.7 295.4,66.5 305.3,65.8 314.4,63.6 313.7,58.7 305.3,58.7 296.8,62.2 284.1,66.5 277,62.2 274.2,66.5 265.7,73.5 254.4,79.2 246,86.2 238.9,91.9 234.7,96.1" fill="#fff" stroke="#fff" stroke-width="5" stroke-linejoin="round"/><polygon points="335.6,55.3 337.5,57.3 344.5,55.3 353.4,49.4 363.2,44.5 369.2,39.5 377.1,34.6 383,30.6 381,29.2 375.1,29.6 367.2,33.6 359.3,36.6 351.4,41.5 344.5,45.5 338.5,51.4" fill="#fff" stroke="#fff" stroke-width="5" stroke-linejoin="round"/><polygon points="427,9 432,10 438,5 444,0 445,-3 436,-3 433,3 428,5" fill="#fff" stroke="#fff" stroke-width="5" stroke-linejoin="round"/><polygon points="76,92 98,95 100,103 121,104 123,111 133,112 155,112 160,118 150,124 130,120 100,112 76,100" fill="#fff"/><polygon points="112,158 165,154 168,163 118,167" fill="#fff"/><polygon points="14,66 26,64 27,106 16,108" fill="#fff"/><polygon points="-2,144 25,144 25,153 -2,153" fill="#fff"/><polygon points="14,226 25,226 25,258 14,258" fill="#fff"/><polygon points="-2,350 3,350 3,400 -2,400" fill="#fff"/><polygon points="37.3,-3 37.3,0.4 32.4,13.8 31,22.2 34.5,33.5 40.2,42 43.7,44.1 47.2,39.2 50.8,34.9 52.9,27.9 54.3,18.7 59.9,15.2 67,11.6 69.8,15.2 74,15.9 79.7,16.6 86.7,19.4 92.4,22.2 94.5,29.3 95.9,39.2 98,37 101.6,29.3 104.4,23.6 102.3,16.6 99.4,8.1 96.6,4.6 91,4.6 85.3,2.5 83.9,0.4 83.9,-3" fill="#808080" stroke="#000" stroke-width="1.6" stroke-linejoin="round"/><polygon points="24.6,61.7 30,58 35.9,57.5 43,61.7 51.5,68.8 62.7,78.7 71.2,87.2 79.7,94.2 91,102.7 102.3,106.9 112.1,111.1 122,114 130.5,115.4 136,119.6 150.3,121 157.3,118.2 163,112 167.2,109.7 172.8,105.5 174.3,111.1 168.6,118.2 164.4,128.1 164.4,133.7 172.8,140.8 180,144 186,142.5 192.6,142.2 190,146 178.5,147.9 171.4,153.5 164.4,156.3 157.3,159.2 143.2,161.3 129.1,161.3 119.2,164.8 110.7,170.5 102.3,178.9 96.6,186 92.4,195.9 88.2,202.9 82.5,200.1 76.9,195.9 65.6,193 55.7,188.8 45.8,183.2 37.3,178.9 28.9,176.1 17.6,177.5 9.1,180.3 0.6,186 -5,186 -5,150.7 0.6,150.7 6.3,152.1 13.3,147.9 14.8,142.2 12,135.2 14.8,126.7 23.2,122.5 24.6,114 24.6,106.9 24.6,92.8 25.3,81.5 21.8,73 23.2,64.6" fill="#808080" stroke="#000" stroke-width="1.6" stroke-linejoin="round"/><polygon points="-5,220 -0.5,220 3.5,221.1 8,223.9 11.9,224.5 16.5,222.2 18.2,222.8 17,227.9 15.9,233.5 15.9,244.8 17.6,253.3 22.1,257.2 28.6,261.8 33.5,267.7 34.5,273.6 37.5,279.6 39.5,285.5 41.4,293.4 40.5,300.3 38.5,307.2 34.5,315.1 28.6,322.1 23.7,328 19.7,334.9 20.7,341.8 19.7,349.7 14.8,346.8 7.8,346.8 1.9,350.7 -0.1,352.7 -5,352.7" fill="#808080" stroke="#000" stroke-width="1.6" stroke-linejoin="round"/><polygon points="-5,203.6 -0.5,203.6 2.3,203.9 6.3,206.4 6.9,208.7 2.3,210.4 0.1,211.5 -5,211.5" fill="#808080" stroke="#000" stroke-width="1.6" stroke-linejoin="round"/><polygon points="175.4,127.2 178.2,132.8 182.5,131.4 186.7,122.9 196.6,113 206.5,107.4 216.3,106 222.7,103.2 220.6,100.3 209.3,98.9 203.6,100.3 198,107.4 190.9,113 183.9,120.1 176.8,124.3" fill="#808080" stroke="#000" stroke-width="1.6" stroke-linejoin="round"/><polygon points="233.3,100.3 234.7,103.2 240.3,101.7 248.8,93.3 260.1,86.2 271.4,79.2 284.1,70.7 295.4,66.5 305.3,65.8 314.4,63.6 313.7,58.7 305.3,58.7 296.8,62.2 284.1,66.5 277,62.2 274.2,66.5 265.7,73.5 254.4,79.2 246,86.2 238.9,91.9 234.7,96.1" fill="#808080" stroke="#000" stroke-width="1.6" stroke-linejoin="round"/><polygon points="335.6,55.3 337.5,57.3 344.5,55.3 353.4,49.4 363.2,44.5 369.2,39.5 377.1,34.6 383,30.6 381,29.2 375.1,29.6 367.2,33.6 359.3,36.6 351.4,41.5 344.5,45.5 338.5,51.4" fill="#808080" stroke="#000" stroke-width="1.6" stroke-linejoin="round"/><polygon points="427,9 432,10 438,5 444,0 445,-3 436,-3 433,3 428,5" fill="#808080" stroke="#000" stroke-width="1.6" stroke-linejoin="round"/><polygon points="0.6,233.5 5.7,230.1 9.1,233.5 8,239.2 4,243.7 0.6,242.6" fill="#fff" stroke="#000" stroke-width="1.4"/><ellipse cx="7.9" cy="72.3" rx="5.2" ry="4" transform="rotate(0 7.9 72.3)" fill="#808080" stroke="#000" stroke-width="1.4"/><ellipse cx="1" cy="64.5" rx="2" ry="4.5" transform="rotate(0 1 64.5)" fill="#808080" stroke="#000" stroke-width="1.4"/><ellipse cx="230" cy="128" rx="8" ry="3" transform="rotate(-15 230 128)" fill="#808080" stroke="#000" stroke-width="1.4"/><ellipse cx="193.8" cy="141.3" rx="2.5" ry="2" transform="rotate(0 193.8 141.3)" fill="#808080" stroke="#000" stroke-width="1.4"/><ellipse cx="203.6" cy="139.2" rx="2.2" ry="1.8" transform="rotate(0 203.6 139.2)" fill="#808080" stroke="#000" stroke-width="1.4"/><ellipse cx="212.1" cy="134.2" rx="2" ry="1.6" transform="rotate(0 212.1 134.2)" fill="#808080" stroke="#000" stroke-width="1.4"/><ellipse cx="391.9" cy="20.8" rx="2.3" ry="2" transform="rotate(0 391.9 20.8)" fill="#808080" stroke="#000" stroke-width="1.4"/></g><rect x="80" y="160" width="160" height="120" fill="none" stroke="#000" stroke-width="3"/><g clip-path="url(#cf)"><text x="116.6" y="106.4" font-family="Liberation Serif" font-size="46.0" font-weight="normal" text-anchor="middle" textLength="50.0" lengthAdjust="spacingAndGlyphs" transform="rotate(10 116.6 90.9)">16</text><text x="459.8" y="27.4" font-family="Liberation Serif" font-size="46.0" font-weight="normal" text-anchor="middle" textLength="50.0" lengthAdjust="spacingAndGlyphs" transform="rotate(20 459.8 11.9)">10</text><text x="404.5" y="78.7" font-family="Liberation Serif" font-size="46.0" font-weight="normal" text-anchor="middle" textLength="50.0" lengthAdjust="spacingAndGlyphs" transform="rotate(-5 404.5 63.2)">12</text><text x="323.5" y="134.1" font-family="Liberation Serif" font-size="46.0" font-weight="normal" text-anchor="middle" textLength="50.0" lengthAdjust="spacingAndGlyphs" transform="rotate(-5 323.5 118.6)">14</text><text x="365.0" y="181.5" font-family="Liberation Serif" font-size="46.0" font-weight="normal" text-anchor="middle" textLength="50.0" lengthAdjust="spacingAndGlyphs" transform="rotate(0 365 166)">16</text><text x="324.5" y="242.2" font-family="Liberation Serif" font-size="46.0" font-weight="normal" text-anchor="middle" textLength="50.0" lengthAdjust="spacingAndGlyphs" transform="rotate(0 324.5 226.7)">18</text><text x="422.3" y="231.3" font-family="Liberation Serif" font-size="46.0" font-weight="normal" text-anchor="middle" textLength="50.0" lengthAdjust="spacingAndGlyphs" transform="rotate(-5 422.3 215.8)">20</text><text x="302.7" y="318.3" font-family="Liberation Serif" font-size="46.0" font-weight="normal" text-anchor="middle" textLength="50.0" lengthAdjust="spacingAndGlyphs" transform="rotate(0 302.7 302.8)">22</text><text x="113.6" y="362.7" font-family="Liberation Serif" font-size="46.0" font-weight="normal" text-anchor="middle" textLength="50.0" lengthAdjust="spacingAndGlyphs" transform="rotate(-5 113.6 347.2)">24</text><text x="383.8" y="374.6" font-family="Liberation Serif" font-size="46.0" font-weight="normal" text-anchor="middle" textLength="50.0" lengthAdjust="spacingAndGlyphs" transform="rotate(0 383.8 359.1)">24</text></g><rect x="0" y="0" width="560" height="400" fill="none" stroke="#000" stroke-width="2.5"/><line x1="-5" y1="40" x2="0" y2="40" stroke="#000" stroke-width="1.6"/><line x1="-5" y1="120" x2="0" y2="120" stroke="#000" stroke-width="1.6"/><line x1="-5" y1="200" x2="0" y2="200" stroke="#000" stroke-width="1.6"/><line x1="-5" y1="280" x2="0" y2="280" stroke="#000" stroke-width="1.6"/><line x1="-5" y1="360" x2="0" y2="360" stroke="#000" stroke-width="1.6"/><line x1="160" y1="400" x2="160" y2="405" stroke="#000" stroke-width="1.6"/><line x1="360" y1="400" x2="360" y2="405" stroke="#000" stroke-width="1.6"/><line x1="560" y1="400" x2="560" y2="405" stroke="#000" stroke-width="1.6"/><text x="-9.0" y="53.5" font-family="Liberation Serif" font-size="39.5" font-weight="normal" text-anchor="end" textLength="87.5" lengthAdjust="spacingAndGlyphs">46°N</text><text x="-9.0" y="133.5" font-family="Liberation Serif" font-size="39.5" font-weight="normal" text-anchor="end" textLength="87.5" lengthAdjust="spacingAndGlyphs">44°N</text><text x="-9.0" y="213.5" font-family="Liberation Serif" font-size="39.5" font-weight="normal" text-anchor="end" textLength="87.5" lengthAdjust="spacingAndGlyphs">42°N</text><text x="-9.0" y="293.5" font-family="Liberation Serif" font-size="39.5" font-weight="normal" text-anchor="end" textLength="87.5" lengthAdjust="spacingAndGlyphs">40°N</text><text x="-9.0" y="373.5" font-family="Liberation Serif" font-size="39.5" font-weight="normal" text-anchor="end" textLength="87.5" lengthAdjust="spacingAndGlyphs">38°N</text><text x="159.5" y="431.0" font-family="Liberation Serif" font-size="39.0" font-weight="normal" text-anchor="middle" textLength="106.0" lengthAdjust="spacingAndGlyphs">145°E</text><text x="359.5" y="431.0" font-family="Liberation Serif" font-size="39.0" font-weight="normal" text-anchor="middle" textLength="106.0" lengthAdjust="spacingAndGlyphs">150°E</text><text x="559.5" y="431.0" font-family="Liberation Serif" font-size="39.0" font-weight="normal" text-anchor="middle" textLength="106.0" lengthAdjust="spacingAndGlyphs">155°E</text><text x="306.0" y="-9.5" font-family="Liberation Serif" font-size="47.0" font-weight="normal" text-anchor="middle" textLength="194.0" lengthAdjust="spacingAndGlyphs">JAS 2012</text></g><text x="5.5" y="506.0" font-family="Liberation Sans" font-size="32.5" font-weight="bold" text-anchor="start">C</text><g transform="translate(801,526.5)"><g clip-path="url(#cd)"><path fill="#80b0c2" stroke="#80b0c2" stroke-width="0.8" d="M100 72l4,1l3,3l1,4l-2,4l-6,4l-4,0l-4 -2l-1 -2l-1 -4l2 -5l4 -3l2,0zM308 252l16 -3l4,1l4,2l2,4l2,8l-2,4l-2,2l-4,2l-12 -2l-7 -2l-6 -4l-3 -4l1 -4l6 -4zM16 348l8 -1l12,3l16,10l9,8l5,8l1,8l-2,4l-3,4l-6,3l-16,5l-30,0l12 -4l1 -4l0 -4l-3 -8l-9 -12l-3 -8l1 -4l2 -4l4 -4z"/><path fill="#d0d8da" stroke="#d0d8da" stroke-width="0.8" d="M80 55l4 -2l8,0l24,2l8,3l3,2l4,4l1,8l-1,8l-8,12l-5,4l-6,4l-16,6l-12,2l-8 -2l-4 -2l-3 -4l-2 -4l-3 -8l1 -12l5 -12l3 -4l5 -4zM98 72l-2,0l-4,3l-2,5l1,4l1,2l4,2l4,0l6 -4l2 -4l-1 -4l-3 -3l-4 -1zM316 54l4 -1l8,1l8,4l5,6l3,7l0,5l-1,4l-3,4l-4,3l-8,3l-8,1l-8 -3l-4 -4l-2 -8l0 -8l4 -8l4 -4zM296 153l4,0l4,2l12,12l4,1l4,0l12 -5l4,0l4,2l2,3l2,4l0,8l-4,8l-6,8l-1,4l0,4l6,20l11,28l6,9l13,11l5,8l1,4l-2,8l-1,4l-4,5l-6,3l-6,1l-8 -3l-12 -5l-12 -6l-31 -19l-5 -4l-8 -9l-4 -3l-4 -1l-8 -1l-4 -2l-1 -4l2 -8l3 -4l5 -4l7 -1l4,1l12,7l4,1l4 -1l4 -4l1 -19l5 -16l1 -4l-2 -4l-3 -4l-13 -8l-3 -4l-2 -4l-2 -8l2 -8zM307 252l-6,4l-1,4l3,4l6,4l7,2l12,2l4 -2l2 -2l2 -4l-2 -8l-2 -4l-4 -2l-4 -1l-16,3zM256 267l-1,25l-1,8l-2,3l-4,3l-4,0l-3 -2l-2 -4l0 -8l5 -7l6 -5l2 -3l3 -1l1 -8zM72 275l4,1l4,4l0,4l-4,6l-4,2l-5,0l-3 -1l-3 -3l0 -4l2 -4l6 -4zM560 320l0,80l-86,0l14 -25l32 -35l10 -8l6 -4l12 -5l12 -3zM16 328l8,1l8,2l12,6l24,19l11,12l4,8l0,4l-1,8l-3,4l-4,4l-8,4l-27,0l14 -4l8 -4l3 -4l2 -4l-1 -8l-6 -9l-12 -10l-12 -7l-12 -3l-8,1l-4,2l-3,6l-1,4l3,8l6,8l5,8l1,8l-1,4l-12,4l-10,0l0 -68l4 -2l9 -2z"/><path fill="#e8cfc8" stroke="#e8cfc8" stroke-width="0.8" d="M96 0l31,0l-7,5l-8,1l-8 -1l-10 -5zM548 8l4 -2l8,0l0,34l-4,0l-4 -1l-4 -5l-3 -6l-1 -12l0 -4l4 -4zM88 27l16 -1l28,2l8,1l8,5l4,6l3,8l1,8l0,12l-3,12l-3,8l-6,8l-10,8l-10,7l-16,9l-12,5l-12,2l-8,0l-8 -2l-8 -4l-6 -5l-5 -8l-3 -8l-2 -12l0 -8l2 -12l5 -12l5 -8l4 -5l8 -7l8 -5l9 -3zM78 56l-5,4l-3,4l-5,12l-1,12l3,8l2,4l3,4l4,2l8,2l12 -2l16 -6l6 -4l5 -4l8 -12l1 -8l-1 -8l-4 -4l-3 -2l-8 -3l-24 -2l-8,0l-4,2zM312 31l8,1l8,2l16,7l21,15l4,4l6,8l2,8l-1,6l-3,6l-5,6l-10,6l-10,4l-33,8l-5,4l-1,4l2,4l5,4l16,7l24,7l8,5l5,5l5,12l2,12l0,20l-3,24l1,4l2,4l4,0l20 -9l12 -2l12 -1l16,2l32,8l16,0l8 -1l12 -4l24 -17l8 -3l8 -1l4,1l8,5l0,50l-4 -4l-4 -3l-8 -3l-12 -1l-16,2l-12,4l-12,6l-20,15l-7,8l-3,4l-2,8l-1,28l-1,8l-2,4l-3,4l-5,3l-20,7l-8,4l-4,3l-5,7l-2,8l-2,12l1,12l3,8l-183,0l8 -7l8 -5l8 -1l20,2l8 -1l4 -3l3 -5l6 -16l5 -8l7 -4l26 -8l5 -4l3 -4l1 -4l-1 -8l-6 -8l-23 -16l-10 -12l-5 -4l-7 -4l-4 -1l-4,1l-2,4l-2,8l0,9l4,23l-1,8l-1,4l-6,5l-8,2l-8,0l-8 -3l-8 -6l-4 -6l-8 -15l-2 -9l-4 -28l-7 -24l0 -8l3 -4l7 -4l15 -6l8 -4l11 -10l6 -8l3 -8l3 -12l0 -8l0 -8l-6 -20l-12 -24l-1 -4l-1 -4l2 -4l5 -4l18 -11l6 -5l3 -8l5 -28l3 -12l3 -6l4 -5l4 -3l5 -2zM314 56l-4,4l-4,8l0,8l2,8l4,4l8,3l8 -1l8 -3l4 -3l3 -4l1 -4l0 -5l-3 -7l-5 -6l-8 -4l-8 -1l-4,1zM292 156l-2,8l2,8l2,4l3,4l13,8l3,4l2,4l-1,4l-5,16l-1,19l-4,4l-4,1l-4 -1l-12 -7l-4 -1l-7,1l-5,4l-3,4l-2,8l1,4l4,2l8,1l4,1l4,3l8,9l5,4l31,19l12,6l12,5l8,3l6 -1l6 -3l4 -5l1 -4l2 -8l-1 -4l-5 -8l-13 -11l-6 -9l-11 -28l-6 -20l0 -4l1 -4l6 -8l4 -8l0 -8l-2 -4l-2 -3l-4 -2l-4,0l-12,5l-4,0l-4 -1l-12 -12l-4 -2l-4,0zM256 268l-1,8l-3,1l-2,3l-6,5l-5,7l0,8l2,4l3,2l4,0l4 -3l2 -3l1 -8l1 -25zM64 263l12 -2l8,1l4,2l3,4l3,8l1,4l-2,8l-5,10l-8,8l-16,10l-3,4l0,4l4,8l7,8l20,20l7,12l2,8l-1,8l-6,8l-6,4l-21,0l8 -4l5 -5l3 -7l0 -8l-4 -8l-7 -8l-20 -18l-12 -8l-8 -3l-8 -2l-8 -1l-8,1l-4,1l-4,2l0 -25l8,2l8,0l8 -1l8 -4l4 -5l5 -15l5 -8l6 -6l10 -6zM69 276l-6,4l-2,4l0,4l3,3l3,1l5,0l4 -2l4 -6l0 -4l-4 -4l-4 -1zM560 296l0,24l-12,3l-12,5l-6,4l-10,8l-32,35l-14,25l-26,0l5 -4l5 -8l3 -8l5 -20l3 -8l8 -8l29 -20l15 -8l29 -12l6 -4l4 -4z"/><path fill="#d6947f" stroke="#d6947f" stroke-width="0.8" d="M56 0l38,0l10,5l8,1l8 -1l7 -5l22,0l12,12l5,12l2,12l-1,24l2,20l5,20l2,3l4,2l24 -3l24 -5l17 -9l10 -8l4 -4l3 -8l0 -12l-9 -28l-1 -8l1 -8l2 -4l7 -8l73,0l-1,4l0,4l3,4l5,4l6,4l8,2l4,0l8 -2l4 -4l5 -8l1 -8l182,0l0,6l-8,0l-4,2l-4,4l0,4l0,8l4,10l4,5l4,1l4,0l0,23l-8,7l-4,2l-4,0l-4 -3l-4 -7l-10 -34l-3 -8l-7 -7l-10 -5l-14 -3l-20 -1l-20,0l-12,1l-8,3l-9,8l-6,8l-3,8l-3,20l-6,80l1,12l2,12l3,8l5,6l4,3l20,9l22,18l10,4l8,1l8 -1l9 -4l19 -18l12 -7l12 -3l8 -1l8,2l4,3l0,30l-8 -5l-4 -1l-8,1l-8,3l-24,17l-8,3l-8,2l-8,1l-12 -1l-32 -8l-16 -2l-12,1l-12,2l-20,9l-4,0l-2 -4l-1 -4l3 -24l0 -20l-2 -12l-5 -12l-5 -5l-8 -5l-24 -7l-16 -7l-5 -4l-2 -4l1 -4l5 -4l33 -8l10 -4l10 -6l5 -6l3 -6l1 -6l-2 -8l-6 -8l-14 -12l-15 -9l-12 -5l-12 -3l-7,1l-5,2l-7,6l-5,12l-7,36l-3,8l-6,5l-18,11l-5,4l-2,4l1,4l1,4l12,24l6,20l0,12l-4,20l-4,8l-15,14l-8,4l-15,6l-7,4l-3,4l0,8l7,24l4,28l2,9l8,15l4,6l8,6l8,3l8,0l8 -2l6 -5l1 -4l1 -8l-4 -23l0 -9l2 -8l2 -4l4 -1l4,1l7,4l5,4l10,12l23,16l6,8l1,8l-1,4l-3,4l-5,4l-26,8l-7,4l-5,8l-6,16l-3,5l-4,3l-8,1l-20 -2l-8,1l-8,5l-8,7l-22,0l8 -20l3 -16l1 -12l-3 -52l-2 -16l-3 -12l-6 -12l-11 -16l-1 -4l0 -4l1 -4l3 -4l4 -3l8 -4l24 -6l8 -4l6 -7l5 -8l3 -12l-1 -12l-3 -12l-6 -11l-8 -7l-8 -4l-32 -10l-12 -8l-12 -11l-8,1l-16,5l-12,6l-28,16l-16,6l-16,4l-20,2l-8,0l-8 -3l-4 -4l-4 -7l-6 -15l-3 -20l-1 -20l3 -16l5 -16l8 -16l13 -20l3 -8l-1 -4zM85 28l-9,3l-8,5l-8,7l-4,5l-5,8l-5,12l-2,12l0,8l2,12l3,8l5,8l6,5l8,4l8,2l8,0l12 -2l12 -5l16 -9l10 -7l10 -8l6 -8l3 -8l3 -12l0 -12l-1 -8l-3 -8l-4 -6l-8 -5l-8 -1l-28 -2l-16,1zM552 103l4 -2l4,0l0,45l-8 -10l-4 -12l0 -12l3 -8zM20 160l12 -2l4,0l4,2l30,20l7,8l3,7l4,1l8 -1l8,1l6,4l3,4l4,36l-1,4l-7,16l0,20l-2,12l-5,12l-8,16l-1,4l0,4l2,4l24,28l5,8l3,8l1,8l-1,4l-2,4l-3,4l-6,4l-24,0l6 -4l6 -8l1 -8l-2 -8l-7 -12l-24 -24l-5 -8l-2 -4l0 -4l3 -4l12 -7l8 -6l4 -5l4 -6l2 -8l0 -8l-2 -6l-4 -6l-4 -2l-4 -1l-8,0l-8,2l-9,5l-7,6l-5,6l-8,20l-3,4l-4,3l-8,1l-8,1l-12 -2l0 -19l8,3l8 -1l7 -6l14 -16l11 -10l12 -7l19 -3l5 -2l2 -2l2 -3l1 -5l-2 -16l-4 -12l-3 -8l-17,4l-43,3l-4,0l-5 -3l-3 -4l-3 -8l-2 -8l1 -5l2 -7l3 -4l3 -4l8 -4zM512 248l12 -3l16,1l8,1l8,5l4,4l0,40l-4,4l-6,4l-29,12l-13,7l-31,21l-5,4l-5,8l-9,32l-5,8l-5,4l-37,0l-3 -8l-1 -12l2 -12l2 -8l5 -7l7 -5l23 -8l7 -4l3 -4l3 -8l1 -32l2 -8l3 -4l7 -8l16 -12l12 -7l11 -5zM515 268l-7,4l-8,8l-2,8l0,4l2,2l4,3l8,1l12 -1l12 -4l8 -4l4 -5l1 -4l0 -4l-1 -4l-4 -4l-8 -3l-8,0l-12,3z"/><path fill="#c05b3c" stroke="#c05b3c" stroke-width="0.8" d="M4 0l49,0l1,4l-3,8l-13,20l-8,16l-5,16l-3,16l1,20l3,20l6,15l4,7l4,4l8,3l8,0l20 -2l16 -4l16 -6l36 -20l16 -6l8 -2l4,0l12,11l13,8l31,10l8,4l7,6l5,8l5,12l1,16l-3,12l-5,8l-6,7l-8,4l-24,6l-8,4l-4,3l-3,4l-1,4l0,4l1,4l11,16l6,12l3,12l2,16l3,52l-1,12l-3,16l-8,20l-94,0l6 -4l3 -4l2 -4l1 -4l-1 -8l-3 -8l-5 -8l-24 -28l-2 -4l0 -4l1 -4l8 -16l5 -12l2 -12l0 -20l7 -16l1 -4l-4 -36l-3 -4l-6 -4l-8 -1l-8,1l-4 -1l-3 -7l-7 -8l-30 -20l-4 -2l-4,0l-8,1l-8,3l-7,6l-4,8l-2,8l2,8l3,8l4,5l4,2l4,0l43 -3l17 -4l4,10l4,14l1,8l-1,8l-2,4l-6,4l-20,3l-8,4l-12,10l-16,18l-8,7l-8,1l-8 -3l0 -25l4,4l4,1l4 -1l4 -2l5 -5l15 -18l8 -3l20 -4l4 -2l2 -1l2 -4l0 -4l-2 -4l-2 -2l-4 -3l-8 -1l-8,1l-8,2l-6,3l-10,10l-4,2l-12,1l-4 -1l-4 -3l0 -229zM150 132l-10,5l-12,9l-20,18l-3,4l-2,4l1,4l2,4l10,9l6,7l6,19l8,13l2,4l0,4l-3,8l-14,20l-4,8l-5,24l-1,20l2,8l5,8l14,16l12,11l8,4l8,3l8,0l8 -1l8 -4l4 -5l7 -12l5 -13l4 -16l2 -19l-1 -12l-5 -12l-4 -6l-18 -18l-4 -8l0 -8l3 -8l7 -8l8 -4l28 -10l8 -5l4 -5l4 -8l1 -12l-2 -8l-2 -4l-4 -4l-5 -4l-8 -3l-20 -7l-24 -10l-12 -2l-8,1zM152 0l110,0l-7,8l-2,4l-1,8l1,8l9,28l0,12l-3,8l-4,4l-10,8l-17,9l-24,5l-24,3l-4 -2l-2 -3l-5 -20l-2 -20l1 -24l-2 -12l-5 -12l-12 -12zM193 16l-5,1l-4,6l-7,29l0,12l3,8l4,5l4,2l12,4l12,1l8 -2l4 -2l6 -8l2 -8l1 -12l0 -12l-1 -8l-5 -12l-3 -4l-4 -2l-8 -1l-16,3zM336 0l42,0l-1,8l-5,8l-4,4l-8,2l-4,0l-8 -2l-6 -4l-5 -4l-3 -4l0 -4l1 -4zM452 4l16,0l20,1l16,2l8,3l8,6l4,7l10,33l2,6l4,7l4,3l4,0l4 -2l8 -7l0,38l-4,0l-5,3l-2,4l-2,8l1,8l3,8l4,8l5,6l0,30l-4 -3l-8 -2l-8,1l-12,3l-12,7l-19,18l-9,4l-8,1l-8 -1l-10 -4l-22 -18l-20 -9l-4 -3l-4 -5l-3 -5l-3 -12l-1 -12l1 -16l5 -68l3 -20l6 -12l7 -8l9 -5l12 -3zM452 16l-7,4l-5,5l-4,7l-4,12l-3,16l-2,40l1,14l2,10l4,8l4,4l6,4l8,2l8,1l12 -1l12 -2l12 -4l8 -4l4 -4l4 -8l2 -8l2 -52l-1 -16l-3 -11l-2 -5l-6 -7l-4 -3l-8 -3l-8 -2l-12 -1l-12,2l-8,2zM516 268l12 -3l8,0l8,3l4,4l1,4l0,4l-1,4l-4,5l-8,4l-12,4l-12,1l-8 -1l-4 -3l-2 -2l0 -4l2 -8l8 -8l7 -4z"/><path fill="#9e1a28" stroke="#9e1a28" stroke-width="0.8" d="M196 16l16 -3l8,1l4,2l3,4l5,12l1,8l0,12l-1,12l-2,8l-6,8l-4,2l-8,2l-12 -1l-12 -4l-4 -2l-4 -5l-3 -8l0 -12l7 -29l4 -6l5 -1zM200 40l-4,3l-5,5l-3,8l0,4l3,4l5,3l8,0l4 -2l4 -5l2 -12l0 -4l-2 -4l-4 -2l-4,1zM452 16l8 -2l12 -2l12,1l8,2l8,3l4,3l6,7l2,5l3,11l1,16l-2,52l-2,8l-4,8l-4,4l-8,4l-12,4l-12,2l-12,1l-8 -1l-8 -2l-6 -4l-4 -4l-4 -8l-2 -10l-1 -14l2 -40l3 -16l4 -12l4 -7l5 -5l7 -4zM463 28l-6,4l-3,4l-5,12l-1,16l3,24l4,12l5,6l8,1l8 -2l8 -7l4 -5l4 -8l7 -21l0 -16l-3 -12l-3 -4l-5 -4l-4 -2l-8 -1l-12,2zM152 131l8 -1l12,2l24,10l20,7l8,3l5,4l4,4l2,4l2,8l-1,12l-4,8l-4,5l-8,5l-28,10l-8,4l-7,8l-3,8l0,8l4,8l18,18l4,6l5,12l1,12l-2,19l-4,16l-5,13l-7,12l-4,5l-8,4l-8,1l-8,0l-8 -3l-8 -4l-12 -11l-14 -16l-5 -8l-2 -8l1 -20l5 -24l4 -8l14 -20l3 -8l0 -4l-2 -4l-8 -13l-6 -19l-6 -7l-10 -9l-2 -4l-1 -4l2 -4l3 -4l20 -18l12 -9l10 -5zM160 160l-12,1l-5,3l-3,4l-1,4l0,8l2,8l2,4l3,4l6,3l12,1l20 -2l9 -2l10 -4l6 -4l4 -4l3 -8l0 -4l-3 -4l-5 -4l-4 -1l-20 -3l-24,0zM148 264l-12,8l-4,5l-4,7l-2,12l2,12l3,8l5,7l4,5l8,7l8,3l4,1l8 -1l8 -5l4 -4l8 -13l4 -8l2 -8l1 -12l-3 -8l-4 -5l-8 -5l-16 -7l-8 -1l-4,1zM44 215l12 -1l10,2l4,4l2,4l0,4l-2,4l-6,3l-20,4l-8,3l-15,18l-5,5l-4,2l-4,1l-4 -1l-4 -4l0 -34l4,3l4,1l12 -1l4 -2l10 -10l8 -4z"/><path fill="#5e0f22" stroke="#5e0f22" stroke-width="0.8" d="M464 27l12 -2l8,1l4,2l5,4l3,4l3,12l0,16l-7,21l-4,8l-4,5l-8,7l-8,2l-8 -1l-5 -6l-4 -12l-3 -24l1 -16l5 -12l3 -4l6 -4zM204 39l4 -1l4,2l2,4l0,4l-2,12l-4,5l-4,2l-8,0l-5 -3l-3 -4l0 -4l3 -8l5 -5l4 -3zM160 160l24,0l20,3l4,1l5,4l3,4l0,4l-3,8l-4,4l-6,4l-10,4l-9,2l-20,2l-12 -1l-6 -3l-3 -4l-2 -4l-2 -8l0 -8l1 -4l3 -4l5 -3l12 -1zM160 176l-3,4l3,5l8,1l9 -2l3 -4l-4 -4l-8 -2l-8,2zM152 263l4 -1l8,1l16,7l8,5l4,5l3,8l-1,12l-2,8l-4,8l-8,13l-4,4l-8,5l-8,1l-4 -1l-8 -3l-8 -7l-4 -5l-5 -7l-3 -8l-2 -12l2 -12l4 -7l4 -5l12 -8z"/><path fill="#420a15" stroke="#420a15" stroke-width="0.8" d="M160 176l8 -2l8,2l4,4l-3,4l-9,2l-8 -1l-3 -5l3 -4z"/></g><polyline points="0,11 12,14 22,24 30,40 35,55" fill="none" stroke="#333" stroke-width="1.1" stroke-linejoin="round"/><polyline points="0,73 8,73 20,71" fill="none" stroke="#333" stroke-width="1.1" stroke-linejoin="round"/><polyline points="65,69 71,79 79,91" fill="none" stroke="#333" stroke-width="1.1" stroke-linejoin="round"/><polyline points="119,108 138,105 158,103 178,103 186,107 186,119 182,130" fill="none" stroke="#333" stroke-width="1.1" stroke-linejoin="round"/><polyline points="204,5 223,10 241,22 257,38 265,53 257,65 243,79 235,95 233,111 237,129 249,142 263,148 280,148" fill="none" stroke="#333" stroke-width="1.1" stroke-linejoin="round"/><polyline points="93,201 106,206 118,194 127,181 138,172 158,170 178,174 198,182 208,196 209,200 217,210 231,224 241,238 253,246 267,247 280,249 300,248 320,246 329,238 343,224 369,216 399,210 422,204" fill="none" stroke="#333" stroke-width="1.1" stroke-linejoin="round"/><polyline points="217,160 237,164 257,174 280,184 300,188 327,196" fill="none" stroke="#333" stroke-width="1.1" stroke-linejoin="round"/><polyline points="339,5 339,16 329,30 318,44 304,59 296,79 294,93 306,98 329,99 351,96" fill="none" stroke="#333" stroke-width="1.1" stroke-linejoin="round"/><polyline points="399,5 397,18 403,30 414,34 430,28 448,16 464,5" fill="none" stroke="#333" stroke-width="1.1" stroke-linejoin="round"/><polyline points="414,75 434,59 454,44 470,34 488,34 507,42 527,53 555,58" fill="none" stroke="#333" stroke-width="1.1" stroke-linejoin="round"/><polyline points="280,147 284,146" fill="none" stroke="#333" stroke-width="1.1" stroke-linejoin="round"/><polyline points="349,130 369,136 389,136 409,127 428,117 458,107 478,102 497,102 517,102 537,97 555,91" fill="none" stroke="#333" stroke-width="1.1" stroke-linejoin="round"/><polyline points="395,184 418,172 448,158 478,148 507,140 537,137 555,137" fill="none" stroke="#333" stroke-width="1.1" stroke-linejoin="round"/><polyline points="484,180 497,177 507,178 517,184 519,200 523,210 535,215 555,214" fill="none" stroke="#333" stroke-width="1.1" stroke-linejoin="round"/><polyline points="69,200 77,212 83,224 83,238 71,247 53,261 46,275 51,289 65,293 83,283 99,269 119,257 138,247 158,243 174,246 188,259 202,275 217,287 237,283 257,273 271,270" fill="none" stroke="#333" stroke-width="1.1" stroke-linejoin="round"/><polyline points="339,270 359,266 379,259 395,254 418,256 438,259 468,257 488,251 507,248 537,251 555,258" fill="none" stroke="#333" stroke-width="1.1" stroke-linejoin="round"/><polyline points="18,395 40,386 59,372 71,356 75,338 83,323 95,311 111,297 129,285 148,277 164,275 178,283 188,295 202,307 217,315 237,317 257,307 280,299 300,297 329,301 349,313 375,325 399,321 428,317 458,313 486,312" fill="none" stroke="#333" stroke-width="1.1" stroke-linejoin="round"/><polyline points="531,343 555,350" fill="none" stroke="#333" stroke-width="1.1" stroke-linejoin="round"/><polyline points="71,395 99,386 123,374 142,358 154,342 166,336 182,337 196,342 199,356 196,370" fill="none" stroke="#333" stroke-width="1.1" stroke-linejoin="round"/><polyline points="259,388 280,382 310,381 339,378 369,374 399,370 428,367 448,370 458,378 468,395" fill="none" stroke="#333" stroke-width="1.1" stroke-linejoin="round"/><polyline points="8,354 10,362 8,372 4,376" fill="none" stroke="#333" stroke-width="1.1" stroke-linejoin="round"/><g clip-path="url(#cf)"><polygon points="37.3,-3 37.3,0.4 32.4,13.8 31,22.2 34.5,33.5 40.2,42 43.7,44.1 47.2,39.2 50.8,34.9 52.9,27.9 54.3,18.7 59.9,15.2 67,11.6 69.8,15.2 74,15.9 79.7,16.6 86.7,19.4 92.4,22.2 94.5,29.3 95.9,39.2 98,37 101.6,29.3 104.4,23.6 102.3,16.6 99.4,8.1 96.6,4.6 91,4.6 85.3,2.5 83.9,0.4 83.9,-3" fill="#fff" stroke="#fff" stroke-width="5" stroke-linejoin="round"/><polygon points="24.6,61.7 30,58 35.9,57.5 43,61.7 51.5,68.8 62.7,78.7 71.2,87.2 79.7,94.2 91,102.7 102.3,106.9 112.1,111.1 122,114 130.5,115.4 136,119.6 150.3,121 157.3,118.2 163,112 167.2,109.7 172.8,105.5 174.3,111.1 168.6,118.2 164.4,128.1 164.4,133.7 172.8,140.8 180,144 186,142.5 192.6,142.2 190,146 178.5,147.9 171.4,153.5 164.4,156.3 157.3,159.2 143.2,161.3 129.1,161.3 119.2,164.8 110.7,170.5 102.3,178.9 96.6,186 92.4,195.9 88.2,202.9 82.5,200.1 76.9,195.9 65.6,193 55.7,188.8 45.8,183.2 37.3,178.9 28.9,176.1 17.6,177.5 9.1,180.3 0.6,186 -5,186 -5,150.7 0.6,150.7 6.3,152.1 13.3,147.9 14.8,142.2 12,135.2 14.8,126.7 23.2,122.5 24.6,114 24.6,106.9 24.6,92.8 25.3,81.5 21.8,73 23.2,64.6" fill="#fff" stroke="#fff" stroke-width="5" stroke-linejoin="round"/><polygon points="-5,220 -0.5,220 3.5,221.1 8,223.9 11.9,224.5 16.5,222.2 18.2,222.8 17,227.9 15.9,233.5 15.9,244.8 17.6,253.3 22.1,257.2 28.6,261.8 33.5,267.7 34.5,273.6 37.5,279.6 39.5,285.5 41.4,293.4 40.5,300.3 38.5,307.2 34.5,315.1 28.6,322.1 23.7,328 19.7,334.9 20.7,341.8 19.7,349.7 14.8,346.8 7.8,346.8 1.9,350.7 -0.1,352.7 -5,352.7" fill="#fff" stroke="#fff" stroke-width="5" stroke-linejoin="round"/><polygon points="-5,203.6 -0.5,203.6 2.3,203.9 6.3,206.4 6.9,208.7 2.3,210.4 0.1,211.5 -5,211.5" fill="#fff" stroke="#fff" stroke-width="5" stroke-linejoin="round"/><polygon points="175.4,127.2 178.2,132.8 182.5,131.4 186.7,122.9 196.6,113 206.5,107.4 216.3,106 222.7,103.2 220.6,100.3 209.3,98.9 203.6,100.3 198,107.4 190.9,113 183.9,120.1 176.8,124.3" fill="#fff" stroke="#fff" stroke-width="5" stroke-linejoin="round"/><polygon points="233.3,100.3 234.7,103.2 240.3,101.7 248.8,93.3 260.1,86.2 271.4,79.2 284.1,70.7 295.4,66.5 305.3,65.8 314.4,63.6 313.7,58.7 305.3,58.7 296.8,62.2 284.1,66.5 277,62.2 274.2,66.5 265.7,73.5 254.4,79.2 246,86.2 238.9,91.9 234.7,96.1" fill="#fff" stroke="#fff" stroke-width="5" stroke-linejoin="round"/><polygon points="335.6,55.3 337.5,57.3 344.5,55.3 353.4,49.4 363.2,44.5 369.2,39.5 377.1,34.6 383,30.6 381,29.2 375.1,29.6 367.2,33.6 359.3,36.6 351.4,41.5 344.5,45.5 338.5,51.4" fill="#fff" stroke="#fff" stroke-width="5" stroke-linejoin="round"/><polygon points="427,9 432,10 438,5 444,0 445,-3 436,-3 433,3 428,5" fill="#fff" stroke="#fff" stroke-width="5" stroke-linejoin="round"/><polygon points="76,92 98,95 100,103 121,104 123,111 133,112 155,112 160,118 150,124 130,120 100,112 76,100" fill="#fff"/><polygon points="112,158 165,154 168,163 118,167" fill="#fff"/><polygon points="14,66 26,64 27,106 16,108" fill="#fff"/><polygon points="-2,144 25,144 25,153 -2,153" fill="#fff"/><polygon points="14,226 25,226 25,258 14,258" fill="#fff"/><polygon points="-2,350 3,350 3,400 -2,400" fill="#fff"/><polygon points="37.3,-3 37.3,0.4 32.4,13.8 31,22.2 34.5,33.5 40.2,42 43.7,44.1 47.2,39.2 50.8,34.9 52.9,27.9 54.3,18.7 59.9,15.2 67,11.6 69.8,15.2 74,15.9 79.7,16.6 86.7,19.4 92.4,22.2 94.5,29.3 95.9,39.2 98,37 101.6,29.3 104.4,23.6 102.3,16.6 99.4,8.1 96.6,4.6 91,4.6 85.3,2.5 83.9,0.4 83.9,-3" fill="#808080" stroke="#000" stroke-width="1.6" stroke-linejoin="round"/><polygon points="24.6,61.7 30,58 35.9,57.5 43,61.7 51.5,68.8 62.7,78.7 71.2,87.2 79.7,94.2 91,102.7 102.3,106.9 112.1,111.1 122,114 130.5,115.4 136,119.6 150.3,121 157.3,118.2 163,112 167.2,109.7 172.8,105.5 174.3,111.1 168.6,118.2 164.4,128.1 164.4,133.7 172.8,140.8 180,144 186,142.5 192.6,142.2 190,146 178.5,147.9 171.4,153.5 164.4,156.3 157.3,159.2 143.2,161.3 129.1,161.3 119.2,164.8 110.7,170.5 102.3,178.9 96.6,186 92.4,195.9 88.2,202.9 82.5,200.1 76.9,195.9 65.6,193 55.7,188.8 45.8,183.2 37.3,178.9 28.9,176.1 17.6,177.5 9.1,180.3 0.6,186 -5,186 -5,150.7 0.6,150.7 6.3,152.1 13.3,147.9 14.8,142.2 12,135.2 14.8,126.7 23.2,122.5 24.6,114 24.6,106.9 24.6,92.8 25.3,81.5 21.8,73 23.2,64.6" fill="#808080" stroke="#000" stroke-width="1.6" stroke-linejoin="round"/><polygon points="-5,220 -0.5,220 3.5,221.1 8,223.9 11.9,224.5 16.5,222.2 18.2,222.8 17,227.9 15.9,233.5 15.9,244.8 17.6,253.3 22.1,257.2 28.6,261.8 33.5,267.7 34.5,273.6 37.5,279.6 39.5,285.5 41.4,293.4 40.5,300.3 38.5,307.2 34.5,315.1 28.6,322.1 23.7,328 19.7,334.9 20.7,341.8 19.7,349.7 14.8,346.8 7.8,346.8 1.9,350.7 -0.1,352.7 -5,352.7" fill="#808080" stroke="#000" stroke-width="1.6" stroke-linejoin="round"/><polygon points="-5,203.6 -0.5,203.6 2.3,203.9 6.3,206.4 6.9,208.7 2.3,210.4 0.1,211.5 -5,211.5" fill="#808080" stroke="#000" stroke-width="1.6" stroke-linejoin="round"/><polygon points="175.4,127.2 178.2,132.8 182.5,131.4 186.7,122.9 196.6,113 206.5,107.4 216.3,106 222.7,103.2 220.6,100.3 209.3,98.9 203.6,100.3 198,107.4 190.9,113 183.9,120.1 176.8,124.3" fill="#808080" stroke="#000" stroke-width="1.6" stroke-linejoin="round"/><polygon points="233.3,100.3 234.7,103.2 240.3,101.7 248.8,93.3 260.1,86.2 271.4,79.2 284.1,70.7 295.4,66.5 305.3,65.8 314.4,63.6 313.7,58.7 305.3,58.7 296.8,62.2 284.1,66.5 277,62.2 274.2,66.5 265.7,73.5 254.4,79.2 246,86.2 238.9,91.9 234.7,96.1" fill="#808080" stroke="#000" stroke-width="1.6" stroke-linejoin="round"/><polygon points="335.6,55.3 337.5,57.3 344.5,55.3 353.4,49.4 363.2,44.5 369.2,39.5 377.1,34.6 383,30.6 381,29.2 375.1,29.6 367.2,33.6 359.3,36.6 351.4,41.5 344.5,45.5 338.5,51.4" fill="#808080" stroke="#000" stroke-width="1.6" stroke-linejoin="round"/><polygon points="427,9 432,10 438,5 444,0 445,-3 436,-3 433,3 428,5" fill="#808080" stroke="#000" stroke-width="1.6" stroke-linejoin="round"/><polygon points="0.6,233.5 5.7,230.1 9.1,233.5 8,239.2 4,243.7 0.6,242.6" fill="#fff" stroke="#000" stroke-width="1.4"/><ellipse cx="7.9" cy="72.3" rx="5.2" ry="4" transform="rotate(0 7.9 72.3)" fill="#808080" stroke="#000" stroke-width="1.4"/><ellipse cx="1" cy="64.5" rx="2" ry="4.5" transform="rotate(0 1 64.5)" fill="#808080" stroke="#000" stroke-width="1.4"/><ellipse cx="230" cy="128" rx="8" ry="3" transform="rotate(-15 230 128)" fill="#808080" stroke="#000" stroke-width="1.4"/><ellipse cx="193.8" cy="141.3" rx="2.5" ry="2" transform="rotate(0 193.8 141.3)" fill="#808080" stroke="#000" stroke-width="1.4"/><ellipse cx="203.6" cy="139.2" rx="2.2" ry="1.8" transform="rotate(0 203.6 139.2)" fill="#808080" stroke="#000" stroke-width="1.4"/><ellipse cx="212.1" cy="134.2" rx="2" ry="1.6" transform="rotate(0 212.1 134.2)" fill="#808080" stroke="#000" stroke-width="1.4"/><ellipse cx="391.9" cy="20.8" rx="2.3" ry="2" transform="rotate(0 391.9 20.8)" fill="#808080" stroke="#000" stroke-width="1.4"/></g><rect x="80" y="160" width="160" height="120" fill="none" stroke="#000" stroke-width="3"/><g clip-path="url(#cf)"><text x="63.2" y="62.9" font-family="Liberation Serif" font-size="46.0" font-weight="normal" text-anchor="middle" textLength="50.0" lengthAdjust="spacingAndGlyphs" transform="rotate(-70 63.2 47.4)">16</text><text x="384.7" y="103.4" font-family="Liberation Serif" font-size="46.0" font-weight="normal" text-anchor="middle" textLength="50.0" lengthAdjust="spacingAndGlyphs" transform="rotate(-22 384.7 87.9)">12</text><text x="314.6" y="146.9" font-family="Liberation Serif" font-size="46.0" font-weight="normal" text-anchor="middle" textLength="50.0" lengthAdjust="spacingAndGlyphs" transform="rotate(-15 314.6 131.4)">14</text><text x="362.0" y="205.5" font-family="Liberation Serif" font-size="46.0" font-weight="normal" text-anchor="middle" textLength="50.0" lengthAdjust="spacingAndGlyphs" transform="rotate(0 362 190)">16</text><text x="455.0" y="208.5" font-family="Liberation Serif" font-size="46.0" font-weight="normal" text-anchor="middle" textLength="50.0" lengthAdjust="spacingAndGlyphs" transform="rotate(-15 455 193)">18</text><text x="303.7" y="280.7" font-family="Liberation Serif" font-size="46.0" font-weight="normal" text-anchor="middle" textLength="50.0" lengthAdjust="spacingAndGlyphs" transform="rotate(0 303.7 265.2)">20</text><text x="512.2" y="336.1" font-family="Liberation Serif" font-size="46.0" font-weight="normal" text-anchor="middle" textLength="50.0" lengthAdjust="spacingAndGlyphs" transform="rotate(35 512.2 320.6)">22</text><text x="224.3" y="395.3" font-family="Liberation Serif" font-size="46.0" font-weight="normal" text-anchor="middle" textLength="50.0" lengthAdjust="spacingAndGlyphs" transform="rotate(15 224.3 379.8)">24</text></g><rect x="0" y="0" width="560" height="400" fill="none" stroke="#000" stroke-width="2.5"/><line x1="-5" y1="40" x2="0" y2="40" stroke="#000" stroke-width="1.6"/><line x1="-5" y1="120" x2="0" y2="120" stroke="#000" stroke-width="1.6"/><line x1="-5" y1="200" x2="0" y2="200" stroke="#000" stroke-width="1.6"/><line x1="-5" y1="280" x2="0" y2="280" stroke="#000" stroke-width="1.6"/><line x1="-5" y1="360" x2="0" y2="360" stroke="#000" stroke-width="1.6"/><line x1="160" y1="400" x2="160" y2="405" stroke="#000" stroke-width="1.6"/><line x1="360" y1="400" x2="360" y2="405" stroke="#000" stroke-width="1.6"/><line x1="560" y1="400" x2="560" y2="405" stroke="#000" stroke-width="1.6"/><text x="159.5" y="431.0" font-family="Liberation Serif" font-size="39.0" font-weight="normal" text-anchor="middle" textLength="106.0" lengthAdjust="spacingAndGlyphs">145°E</text><text x="359.5" y="431.0" font-family="Liberation Serif" font-size="39.0" font-weight="normal" text-anchor="middle" textLength="106.0" lengthAdjust="spacingAndGlyphs">150°E</text><text x="559.5" y="431.0" font-family="Liberation Serif" font-size="39.0" font-weight="normal" text-anchor="middle" textLength="106.0" lengthAdjust="spacingAndGlyphs">155°E</text><text x="306.0" y="-9.5" font-family="Liberation Serif" font-size="47.0" font-weight="normal" text-anchor="middle" textLength="194.0" lengthAdjust="spacingAndGlyphs">JAS 2013</text></g><text x="755.5" y="505.5" font-family="Liberation Sans" font-size="32.5" font-weight="bold" text-anchor="start">D</text><g transform="translate(100,1007.5)"><g clip-path="url(#cd)"><path fill="#80b0c2" stroke="#80b0c2" stroke-width="0.8" d="M320 210l4 -1l4,1l4,1l4,5l1,4l-1,4l-4,6l-4,3l-4,0l-4,0l-4 -3l-2 -6l0 -4l1 -4l2 -4zM268 287l4 -2l4,1l3,2l1,4l-1,8l-4,8l-10,16l-4,4l-5,3l-8,2l-4 -1l-4 -2l-4 -6l-1 -8l4 -8l3 -4l10 -8l13 -8zM264 375l4 -1l8,0l8,4l5,6l7,16l-34,0l-6 -2l-2 -2l0 -8l4 -8l5 -4zM500 375l4 -1l8 -1l8,1l4,2l4,3l3,5l5,13l5,3l-75,0l14 -2l5 -2l3 -3l7 -13l4 -4z"/><path fill="#d0d8da" stroke="#d0d8da" stroke-width="0.8" d="M104 2l1 -2l32,0l5,8l1,4l-1,4l-2,4l-6,4l-10,1l-8 -1l-8 -4l-3 -4l-2 -4l0 -8zM376 4l5 -4l29,0l4,8l1,8l-3,8l-3,4l-5,3l-8,3l-8,0l-8 -3l-4 -3l-4 -8l0 -8l4 -8zM316 187l4 -2l4,0l4,2l12,9l6,8l3,8l1,8l-2,8l-4,8l-8,9l-12,7l-12,3l-4,0l-4 -3l-1 -4l0 -12l1 -24l4 -12l4 -8l4 -4zM317 212l-2,4l-1,4l0,4l2,6l4,3l4,0l4,0l4 -3l4 -6l1 -4l-1 -4l-4 -5l-4 -1l-4 -1l-4,1zM280 264l12 -2l4,1l1,1l2,4l0,8l-2,20l-3,16l-9,20l-6,8l-11,6l-16,4l-8,2l-8 -1l-6 -3l-4 -4l-4 -8l-3 -12l1 -12l4 -12l7 -8l31 -20l10 -5l8 -3zM265 288l-13,8l-10,8l-3,4l-4,8l1,8l4,6l4,2l4,1l8 -2l5 -3l4 -4l10 -16l4 -8l1 -8l-1 -4l-3 -2l-4 -1l-4,2zM472 300l20 -1l68 -1l0,102l-20,0l-4 -3l-5 -13l-3 -5l-4 -3l-4 -2l-8 -1l-8,1l-4,1l-4,4l-4,5l-4,9l-4,4l-18,3l-42,0l8 -7l16 -5l8 -1l12,2l8,0l6 -5l6 -11l4 -5l8 -6l7 -2l4 -4l-4 -4l-19 -6l-8 -3l-12 -11l-7 -12l-2 -8l0 -4l1 -4l4 -3l5 -1zM16 314l2,2l-1,4l-1,1l-1 -1l0 -4zM260 366l8 -1l8,0l12,2l8,5l8,9l4,3l4,0l8 -1l4,1l4,2l15,14l-47,0l-5 -12l-5 -8l-6 -4l-8 -2l-9,2l-5,4l-3,4l-2,8l1,4l2,2l6,2l-35,0l13 -4l4 -4l6 -16l3 -4l4 -4zM160 372l8 -1l8,1l8,3l5,5l1,4l0,4l-2,4l-5,4l-8,4l-35,0l-3 -4l-1 -4l0 -4l3 -4l3 -4l6 -4l10 -4zM2 388l6,7l10,5l-18,0l0 -16z"/><path fill="#e8cfc8" stroke="#e8cfc8" stroke-width="0.8" d="M4 0l101,0l-2,8l2,8l3,4l4,2l4,2l8,1l8 -1l4 -1l4 -3l2 -4l1 -4l-1 -4l-5 -8l45,0l9,8l5,7l4,0l3 -3l5 -3l8 -1l4,1l12,10l4,1l4,0l4 -3l8 -9l4 -2l4 -1l4,1l4,2l2,8l1,24l2,8l10,12l18,16l6,8l2,8l1,24l1,8l2,8l4,8l6,8l4,4l44,32l5,4l3,4l1,4l-2,4l-10,11l-4,7l-8,26l-7,12l-3,4l-6,4l-16,8l-6,4l-2,4l-3,12l0,12l3,11l4,5l4,2l4,0l8 -2l12 -8l16 -14l12 -7l53 -15l43 -9l7 -3l4 -4l5 -8l4 -1l12,0l24,6l12,1l12 -2l8 -5l0,47l-80,1l-12,1l-4,1l-4,3l-1,4l0,4l2,8l4,8l7,8l10,8l25,8l4,4l-4,4l-7,2l-8,6l-4,5l-6,11l-6,5l-8,0l-12 -2l-8,1l-16,5l-8,7l-81,0l-15 -14l-4 -2l-4 -1l-8,1l-4,0l-4 -3l-8 -9l-4 -3l-8 -4l-8,0l-12,0l-8,4l-6,7l-6,16l-4,4l-13,4l-52,0l8 -4l5 -4l2 -4l0 -4l-1 -4l-5 -5l-8 -3l-8 -1l-8,1l-8,2l-8,5l-4,3l-4,6l0,4l1,4l3,4l-122,0l-9 -4l-4 -4l-5 -8l0 -128l11 -12l5 -4l8 -4l28 -11l4,0l4,0l4,8l9,27l2,8l0,4l-3,7l-12,13l-5,8l-4,8l-7,28l-4,10l-5,6l-13,12l-3,4l0,4l0,4l2,4l3,3l8,3l8,0l9 -2l15 -9l8 -3l8 -2l32 -3l36 -12l12 -2l24 -2l12 -3l4 -4l2 -4l3 -8l1 -12l0 -24l3 -8l3 -4l4 -3l24 -10l32 -17l9 -6l6 -8l4 -8l2 -8l1 -12l-1 -12l-3 -12l-4 -8l-8 -8l-10 -6l-12 -5l-12 -3l-20 -3l-9 -3l-1 -4l10 -15l7 -13l14 -32l2 -12l-2 -8l-3 -4l-18 -16l-16 -16l-8 -10l-4 -1l-8,11l-12,12l-11,8l-9,4l-12,1l-32,0l-28,4l-8,0l-8 -1l-8 -4l-24 -19l-8 -4l-12 -3l-16,2l0 -32zM316 188l-4,4l-4,8l-4,12l-1,24l0,12l1,4l4,3l4,0l12 -3l12 -7l8 -9l4 -8l2 -8l-1 -8l-3 -8l-6 -8l-12 -9l-4 -2l-4,0l-4,2zM280 264l-8,3l-10,5l-31,20l-7,8l-4,12l-1,12l3,12l4,8l4,4l6,3l8,1l8 -2l16 -4l11 -6l6 -8l9 -20l3 -16l2 -20l0 -8l-2 -4l-1 -1l-4 -1l-12,2zM15 316l0,4l1,1l1 -1l1 -4l-2 -2zM364 1l1 -1l16,0l-5,4l-3,4l-1,4l0,8l4,8l4,3l4,2l8,1l8 -1l4 -2l5 -3l3 -4l2 -4l1 -8l-3 -8l-2 -4l13,0l3,8l0,8l-1,8l-2,4l-2,4l-4,4l-17,8l-12,3l-8 -1l-8 -2l-8 -5l-3 -7l-1 -16l2 -12zM540 0l20,0l0,26l-23 -26z"/><path fill="#d6947f" stroke="#d6947f" stroke-width="0.8" d="M184 0l105,0l-2,8l0,8l2,8l4,8l6,8l5,5l8,5l8,2l4,0l4 -2l16 -13l4 -5l4 -12l2 -20l11,0l-4,8l-1,12l1,12l3,7l8,5l8,2l8,1l8 -2l8 -2l12 -7l4 -3l3 -5l3 -8l0 -8l-3 -12l14,0l2,8l0,8l-3,12l-5,8l-7,5l-28,15l-24,4l-21,8l-5,4l-2,4l-9,24l-2,12l1,12l6,11l9,9l15,10l16,8l16,5l24,3l6,2l2,4l-1,12l-3,8l-4,4l-11,8l-21,12l-8,7l-4,5l-2,4l-1,8l0,8l2,4l5,6l4,2l8,3l12,0l16 -2l16 -3l12 -4l8 -5l14 -13l30 -13l8 -1l20,4l12,1l12 -1l8 -2l0,23l-8,5l-8,1l-8,1l-32 -7l-12,0l-4,1l-5,8l-4,4l-7,3l-43,9l-55,16l-10,6l-16,14l-8,6l-8,3l-4,1l-4,0l-4 -2l-4 -5l-1 -3l-3 -12l1 -8l1 -8l2 -5l4 -4l4 -3l16 -8l6 -4l3 -4l7 -12l8 -26l4 -7l10 -11l2 -4l-1 -4l-3 -4l-5 -4l-44 -32l-4 -4l-6 -8l-4 -8l-2 -8l-1 -8l-1 -24l-2 -8l-6 -8l-18 -16l-10 -12l-2 -8l-1 -24l-2 -8l-4 -2l-4 -1l-4,1l-4,2l-8,9l-4,3l-4,0l-4 -1l-12 -10l-4 -1l-8,1l-5,3l-3,3l-4,0l-5 -7l-9 -8zM500 0l37,0l23,26l0,22l-8 -2l-8 -5l-24 -22l-23 -19zM196 21l4,1l8,10l16,16l18,16l3,4l2,8l-2,12l-14,32l-7,13l-10,15l1,4l9,3l20,3l16,4l16,8l8,8l6,10l2,8l1,12l0,16l-2,8l-4,8l-6,8l-6,4l-35,19l-22,9l-6,4l-3,4l-3,8l0,28l-2,12l-4,8l-4,4l-12,3l-24,2l-12,2l-36,12l-32,3l-8,2l-8,3l-15,9l-9,2l-8,0l-6 -2l-5 -4l-2 -4l0 -4l0 -4l3 -4l14 -13l5 -7l3 -8l7 -28l4 -8l5 -8l12 -13l3 -7l0 -4l-2 -8l-11 -32l-2 -3l-4,0l-28,9l-12,6l-5,4l-11,12l0 -121l4,1l8,0l8 -2l8 -3l6 -3l4 -4l2 -4l0 -4l-2 -8l-8 -12l-16 -16l-14 -11l0 -37l16 -2l12,3l8,4l24,19l10,4l10,1l36 -4l32,0l12 -2l8 -5l8 -6l19 -20zM184 76l-16,8l-8,3l-8,0l-24 -4l-8,0l-8,2l-8,3l-9,8l-6,8l-7,12l-6,16l-1,12l2,8l8,20l4,12l2,16l0,28l2,12l12,28l1,8l-1,8l-3,4l-6,6l-16,10l-4,4l-6,8l-2,8l1,8l4,8l7,5l8,1l16 -1l28 -6l32 -3l12 -3l8 -5l3 -4l1 -4l0 -8l-8 -24l1 -8l6 -8l5 -4l8 -4l8 -2l28 -4l12 -4l16 -8l8 -6l4 -5l4 -8l2 -11l-1 -12l-4 -12l-7 -8l-10 -8l-8 -4l-12 -3l-32,0l-12 -1l-12 -4l-7 -4l-4 -4l-2 -4l-1 -4l0 -4l2 -4l7 -4l21 -7l8 -5l6 -8l4 -12l1 -8l-1 -8l-2 -4l-4 -5l-4 -3l-8 -3l-4,0l-8,1z"/><path fill="#c05b3c" stroke="#c05b3c" stroke-width="0.8" d="M288 3l1 -3l31,0l-6,4l-1,4l0,8l2,4l5,6l4,2l8,1l8 -3l4 -6l3 -8l0 -4l-1 -4l-3 -4l11,0l-1,12l-2,12l-3,8l-4,5l-16,13l-4,2l-8 -1l-12 -6l-5 -5l-6 -8l-5 -13l-1 -7l1 -8zM440 0l57,0l23,19l24,22l8,5l8,2l0,24l-8,3l-4,1l-8 -2l-4 -2l-8 -6l-16 -18l-12 -11l-8 -5l-8 -4l-8 -2l-8 -1l-4,1l-8,4l-16,14l-4,2l-20,7l-16,11l-20,8l-11,8l-6,8l-6,12l-3,12l1,8l5,8l4,4l12,8l16,9l8,2l8,2l12,0l12 -1l12 -4l12 -9l7 -3l13 -3l12,0l20,2l15,5l9,5l3,3l2,4l0,4l-1,4l-2,4l-5,4l-9,4l-28,4l-8,2l-4,3l-6,11l-4,4l-18,8l-16,9l-20,8l-12,7l-8,8l-2,4l1,4l2,4l3,2l8,3l16,0l12 -3l8 -5l11 -9l5 -3l23 -9l5 -4l8 -9l4 -2l4,0l16,4l8,1l8 -1l16 -3l8,0l0,18l-8,2l-12,1l-12 -1l-16 -4l-8,0l-4,1l-30,13l-14,13l-8,5l-8,3l-16,4l-24,2l-12 -1l-5 -2l-6 -4l-2 -4l-2 -8l1 -12l5 -8l5 -5l31 -19l5 -4l4 -4l3 -8l1 -12l-2 -4l-6 -2l-24 -3l-16 -5l-16 -8l-12 -8l-11 -10l-5 -8l-3 -8l0 -12l3 -12l8 -20l2 -4l5 -4l21 -8l24 -4l28 -15l7 -5l5 -8l3 -12l0 -8l-2 -8zM4 72l12,10l14,14l8,12l2,8l0,4l-2,4l-4,4l-6,3l-8,3l-8,2l-8,0l-4 -1l0 -66zM188 74l8 -1l4,0l8,3l4,3l4,5l2,4l1,8l-1,8l-4,12l-6,8l-8,5l-21,7l-7,4l-2,4l0,4l1,4l2,4l4,4l7,4l12,4l12,1l32,0l12,3l8,4l10,8l7,8l4,12l1,12l-2,11l-4,8l-4,5l-8,6l-16,8l-12,4l-28,4l-8,2l-8,4l-5,4l-6,8l-1,8l8,24l0,8l-1,4l-3,4l-8,5l-12,3l-32,3l-28,6l-16,1l-8 -1l-7 -5l-4 -8l-1 -8l2 -8l6 -8l4 -4l16 -10l6 -6l3 -4l1 -8l-1 -8l-12 -28l-2 -12l0 -28l-2 -16l-4 -12l-8 -20l-2 -8l1 -12l6 -16l7 -12l6 -8l9 -8l8 -3l8 -2l8,0l24,4l8,0l8 -3l16 -8zM120 120l-4,4l-1,4l-2,24l-7,24l-2,16l0,16l2,16l4,12l7,12l11,12l8,6l4,2l4,1l8,0l12 -4l20 -11l12 -5l12 -2l28 -3l12 -4l8 -4l5 -4l4 -4l3 -8l2 -8l-3 -12l-3 -5l-6 -7l-10 -6l-8 -3l-12 -1l-28 -1l-12 -1l-16 -4l-19 -8l-13 -8l-7 -8l-3 -8l-2 -15l-4 -5l-4,0z"/><path fill="#9e1a28" stroke="#9e1a28" stroke-width="0.8" d="M316 3l4 -3l24,0l2,4l1,8l-3,8l-4,6l-4,2l-8,1l-4 -1l-6 -4l-3 -4l-3 -8l1 -4l1 -4zM460 28l8 -3l8,1l12,4l8,4l13,10l23,25l8,5l8,2l4 -1l8 -3l0,138l-8,0l-16,3l-8,1l-8 -1l-16 -4l-4,0l-4,2l-8,9l-5,4l-23,9l-5,3l-15,12l-12,4l-12,1l-11 -1l-8 -4l-2 -4l-1 -4l2 -4l8 -8l12 -7l20 -8l16 -9l18 -8l4 -4l4 -8l3 -4l11 -4l24 -3l8 -2l8 -5l4 -6l1 -4l0 -4l-2 -4l-3 -3l-9 -5l-15 -5l-20 -2l-16,1l-12,3l-16,11l-8,3l-12,2l-16,0l-12 -3l-12 -5l-20 -13l-7 -8l-3 -8l1 -12l5 -12l9 -12l11 -8l20 -8l16 -11l20 -7l4 -2l12 -11l7 -5zM459 60l-7,3l-8,2l-4,0l-12 -4l-4 -1l-4,2l-4,2l-8,8l-20,12l-4,4l-4,8l-2,8l0,4l2,6l4,5l12,8l12,10l8,3l4,0l8 -2l4 -2l8 -9l4 -3l16 -4l4 -3l5 -5l7 -10l11 -10l3 -4l2 -4l-1 -8l-3 -6l-4 -5l-8 -5l-4 -1l-8 -1l-4,1zM120 120l4,0l4,5l2,15l3,8l7,8l13,8l19,8l16,4l12,1l28,1l12,1l8,3l10,6l6,7l3,5l2,8l0,8l-2,8l-3,5l-4,4l-8,5l-16,6l-28,3l-12,2l-12,5l-20,11l-12,4l-8,0l-4 -1l-4 -2l-8 -6l-11 -12l-7 -12l-4 -12l-2 -16l0 -16l2 -16l7 -24l2 -24l1 -4l4 -4zM129 180l-6,4l-4,8l-2,12l1,12l4,8l6,10l8,7l8,4l8,2l8,0l36 -11l32 -5l12 -3l8 -4l4 -4l2 -4l1 -8l-3 -8l-3 -4l-9 -6l-8 -2l-8 -1l-40 -2l-40 -7l-12,1z"/><path fill="#5e0f22" stroke="#5e0f22" stroke-width="0.8" d="M460 59l4 -1l8,1l4,1l8,5l4,5l3,6l1,8l-2,4l-3,4l-11,10l-7,10l-5,5l-4,3l-16,4l-4,3l-8,9l-4,2l-8,2l-4,0l-8 -3l-12 -10l-12 -8l-4 -5l-2 -6l0 -4l2 -8l4 -8l4 -4l20 -12l8 -8l4 -2l4 -2l4,1l12,4l4,0l8 -2l7 -3zM132 179l12 -1l40,7l40,2l8,1l8,2l9,6l3,4l3,8l-1,8l-2,4l-4,4l-8,4l-12,3l-32,5l-36,11l-8,0l-8 -2l-8 -4l-8 -7l-6 -10l-4 -8l-1 -12l2 -12l4 -8l6 -4zM152 196l-8,2l-3,2l-3,4l0,4l2,8l4,4l8,6l8,1l8,0l55 -11l7 -4l2 -4l-1 -4l-5 -4l-14 -3l-40 -1l-20,0z"/><path fill="#420a15" stroke="#420a15" stroke-width="0.8" d="M152 196l20,0l40,1l14,3l5,4l1,4l-2,4l-7,4l-55,11l-8,0l-8 -1l-8 -6l-4 -4l-2 -8l0 -4l3 -4l3 -2l8 -2z"/></g><polyline points="0,32 12,33 22,40 32,55" fill="none" stroke="#333" stroke-width="1.1" stroke-linejoin="round"/><polyline points="0,79 12,80 22,79" fill="none" stroke="#333" stroke-width="1.1" stroke-linejoin="round"/><polyline points="53,32 65,28 73,20" fill="none" stroke="#333" stroke-width="1.1" stroke-linejoin="round"/><polyline points="53,36 63,53 75,67 87,77 97,81" fill="none" stroke="#333" stroke-width="1.1" stroke-linejoin="round"/><polyline points="158,103 178,103 196,104" fill="none" stroke="#333" stroke-width="1.1" stroke-linejoin="round"/><polyline points="105,5 119,18 138,24 158,34 174,46 188,57 208,60 227,61 243,63 245,75 239,91 233,111 227,129 221,142 237,148 263,145" fill="none" stroke="#333" stroke-width="1.1" stroke-linejoin="round"/><polyline points="170,162 188,168 208,170 237,172 257,176 280,180 296,186 316,196" fill="none" stroke="#333" stroke-width="1.1" stroke-linejoin="round"/><polyline points="92,205 104,205 112,183 123,177 129,177 158,178 188,182 217,186 247,192 263,198 275,205 280,212 282,232 288,241 302,243" fill="none" stroke="#333" stroke-width="1.1" stroke-linejoin="round"/><polyline points="353,5 353,16 345,28 333,42 320,57 306,69 292,79 282,91 284,97 296,100 314,97" fill="none" stroke="#333" stroke-width="1.1" stroke-linejoin="round"/><polyline points="379,5 377,22 371,32 361,46 361,53" fill="none" stroke="#333" stroke-width="1.1" stroke-linejoin="round"/><polyline points="424,39 438,30 452,16 466,5" fill="none" stroke="#333" stroke-width="1.1" stroke-linejoin="round"/><polyline points="377,76 399,71 418,65 438,57 458,48 478,46 497,47 517,49 537,55 555,56" fill="none" stroke="#333" stroke-width="1.1" stroke-linejoin="round"/><polyline points="326,124 345,115 365,105 385,97 409,95 438,97 468,99 497,101 527,95 555,89" fill="none" stroke="#333" stroke-width="1.1" stroke-linejoin="round"/><polyline points="384,169 409,165 438,160 468,152 497,138 527,127 555,119" fill="none" stroke="#333" stroke-width="1.1" stroke-linejoin="round"/><polyline points="363,222 383,212 399,204 416,200 438,192 468,184 497,178 527,168 555,156" fill="none" stroke="#333" stroke-width="1.1" stroke-linejoin="round"/><polyline points="8,204 20,210" fill="none" stroke="#333" stroke-width="1.1" stroke-linejoin="round"/><polyline points="65,238 51,247 44,257 46,269 53,281 65,287 79,283 95,269 111,255 129,240 146,230 164,226 174,234 182,249 194,265 206,283 217,291 237,289 257,285 280,281 300,263 320,255 349,246 379,236 399,226 418,218 438,213 458,213 470,216 474,224 470,240 474,249 488,254 507,257 527,265 555,279" fill="none" stroke="#333" stroke-width="1.1" stroke-linejoin="round"/><polyline points="22,350 36,354 53,344 67,327 79,313 99,303 129,298 154,296 168,299 176,311 182,325 198,330 217,329 237,323 257,317 273,314" fill="none" stroke="#333" stroke-width="1.1" stroke-linejoin="round"/><polyline points="335,296 349,305 363,315 379,319 409,318 438,319 458,327 478,336 497,339 527,339 555,338" fill="none" stroke="#333" stroke-width="1.1" stroke-linejoin="round"/><polyline points="4,370 14,372 18,382 16,394" fill="none" stroke="#333" stroke-width="1.1" stroke-linejoin="round"/><polyline points="318,395 335,391 351,389" fill="none" stroke="#333" stroke-width="1.1" stroke-linejoin="round"/><polyline points="418,385 430,390 438,395" fill="none" stroke="#333" stroke-width="1.1" stroke-linejoin="round"/><g clip-path="url(#cf)"><polygon points="37.3,-3 37.3,0.4 32.4,13.8 31,22.2 34.5,33.5 40.2,42 43.7,44.1 47.2,39.2 50.8,34.9 52.9,27.9 54.3,18.7 59.9,15.2 67,11.6 69.8,15.2 74,15.9 79.7,16.6 86.7,19.4 92.4,22.2 94.5,29.3 95.9,39.2 98,37 101.6,29.3 104.4,23.6 102.3,16.6 99.4,8.1 96.6,4.6 91,4.6 85.3,2.5 83.9,0.4 83.9,-3" fill="#fff" stroke="#fff" stroke-width="5" stroke-linejoin="round"/><polygon points="24.6,61.7 30,58 35.9,57.5 43,61.7 51.5,68.8 62.7,78.7 71.2,87.2 79.7,94.2 91,102.7 102.3,106.9 112.1,111.1 122,114 130.5,115.4 136,119.6 150.3,121 157.3,118.2 163,112 167.2,109.7 172.8,105.5 174.3,111.1 168.6,118.2 164.4,128.1 164.4,133.7 172.8,140.8 180,144 186,142.5 192.6,142.2 190,146 178.5,147.9 171.4,153.5 164.4,156.3 157.3,159.2 143.2,161.3 129.1,161.3 119.2,164.8 110.7,170.5 102.3,178.9 96.6,186 92.4,195.9 88.2,202.9 82.5,200.1 76.9,195.9 65.6,193 55.7,188.8 45.8,183.2 37.3,178.9 28.9,176.1 17.6,177.5 9.1,180.3 0.6,186 -5,186 -5,150.7 0.6,150.7 6.3,152.1 13.3,147.9 14.8,142.2 12,135.2 14.8,126.7 23.2,122.5 24.6,114 24.6,106.9 24.6,92.8 25.3,81.5 21.8,73 23.2,64.6" fill="#fff" stroke="#fff" stroke-width="5" stroke-linejoin="round"/><polygon points="-5,220 -0.5,220 3.5,221.1 8,223.9 11.9,224.5 16.5,222.2 18.2,222.8 17,227.9 15.9,233.5 15.9,244.8 17.6,253.3 22.1,257.2 28.6,261.8 33.5,267.7 34.5,273.6 37.5,279.6 39.5,285.5 41.4,293.4 40.5,300.3 38.5,307.2 34.5,315.1 28.6,322.1 23.7,328 19.7,334.9 20.7,341.8 19.7,349.7 14.8,346.8 7.8,346.8 1.9,350.7 -0.1,352.7 -5,352.7" fill="#fff" stroke="#fff" stroke-width="5" stroke-linejoin="round"/><polygon points="-5,203.6 -0.5,203.6 2.3,203.9 6.3,206.4 6.9,208.7 2.3,210.4 0.1,211.5 -5,211.5" fill="#fff" stroke="#fff" stroke-width="5" stroke-linejoin="round"/><polygon points="175.4,127.2 178.2,132.8 182.5,131.4 186.7,122.9 196.6,113 206.5,107.4 216.3,106 222.7,103.2 220.6,100.3 209.3,98.9 203.6,100.3 198,107.4 190.9,113 183.9,120.1 176.8,124.3" fill="#fff" stroke="#fff" stroke-width="5" stroke-linejoin="round"/><polygon points="233.3,100.3 234.7,103.2 240.3,101.7 248.8,93.3 260.1,86.2 271.4,79.2 284.1,70.7 295.4,66.5 305.3,65.8 314.4,63.6 313.7,58.7 305.3,58.7 296.8,62.2 284.1,66.5 277,62.2 274.2,66.5 265.7,73.5 254.4,79.2 246,86.2 238.9,91.9 234.7,96.1" fill="#fff" stroke="#fff" stroke-width="5" stroke-linejoin="round"/><polygon points="335.6,55.3 337.5,57.3 344.5,55.3 353.4,49.4 363.2,44.5 369.2,39.5 377.1,34.6 383,30.6 381,29.2 375.1,29.6 367.2,33.6 359.3,36.6 351.4,41.5 344.5,45.5 338.5,51.4" fill="#fff" stroke="#fff" stroke-width="5" stroke-linejoin="round"/><polygon points="427,9 432,10 438,5 444,0 445,-3 436,-3 433,3 428,5" fill="#fff" stroke="#fff" stroke-width="5" stroke-linejoin="round"/><polygon points="76,92 98,95 100,103 121,104 123,111 133,112 155,112 160,118 150,124 130,120 100,112 76,100" fill="#fff"/><polygon points="112,158 165,154 168,163 118,167" fill="#fff"/><polygon points="14,66 26,64 27,106 16,108" fill="#fff"/><polygon points="-2,144 25,144 25,153 -2,153" fill="#fff"/><polygon points="14,226 25,226 25,258 14,258" fill="#fff"/><polygon points="-2,350 3,350 3,400 -2,400" fill="#fff"/><polygon points="37.3,-3 37.3,0.4 32.4,13.8 31,22.2 34.5,33.5 40.2,42 43.7,44.1 47.2,39.2 50.8,34.9 52.9,27.9 54.3,18.7 59.9,15.2 67,11.6 69.8,15.2 74,15.9 79.7,16.6 86.7,19.4 92.4,22.2 94.5,29.3 95.9,39.2 98,37 101.6,29.3 104.4,23.6 102.3,16.6 99.4,8.1 96.6,4.6 91,4.6 85.3,2.5 83.9,0.4 83.9,-3" fill="#808080" stroke="#000" stroke-width="1.6" stroke-linejoin="round"/><polygon points="24.6,61.7 30,58 35.9,57.5 43,61.7 51.5,68.8 62.7,78.7 71.2,87.2 79.7,94.2 91,102.7 102.3,106.9 112.1,111.1 122,114 130.5,115.4 136,119.6 150.3,121 157.3,118.2 163,112 167.2,109.7 172.8,105.5 174.3,111.1 168.6,118.2 164.4,128.1 164.4,133.7 172.8,140.8 180,144 186,142.5 192.6,142.2 190,146 178.5,147.9 171.4,153.5 164.4,156.3 157.3,159.2 143.2,161.3 129.1,161.3 119.2,164.8 110.7,170.5 102.3,178.9 96.6,186 92.4,195.9 88.2,202.9 82.5,200.1 76.9,195.9 65.6,193 55.7,188.8 45.8,183.2 37.3,178.9 28.9,176.1 17.6,177.5 9.1,180.3 0.6,186 -5,186 -5,150.7 0.6,150.7 6.3,152.1 13.3,147.9 14.8,142.2 12,135.2 14.8,126.7 23.2,122.5 24.6,114 24.6,106.9 24.6,92.8 25.3,81.5 21.8,73 23.2,64.6" fill="#808080" stroke="#000" stroke-width="1.6" stroke-linejoin="round"/><polygon points="-5,220 -0.5,220 3.5,221.1 8,223.9 11.9,224.5 16.5,222.2 18.2,222.8 17,227.9 15.9,233.5 15.9,244.8 17.6,253.3 22.1,257.2 28.6,261.8 33.5,267.7 34.5,273.6 37.5,279.6 39.5,285.5 41.4,293.4 40.5,300.3 38.5,307.2 34.5,315.1 28.6,322.1 23.7,328 19.7,334.9 20.7,341.8 19.7,349.7 14.8,346.8 7.8,346.8 1.9,350.7 -0.1,352.7 -5,352.7" fill="#808080" stroke="#000" stroke-width="1.6" stroke-linejoin="round"/><polygon points="-5,203.6 -0.5,203.6 2.3,203.9 6.3,206.4 6.9,208.7 2.3,210.4 0.1,211.5 -5,211.5" fill="#808080" stroke="#000" stroke-width="1.6" stroke-linejoin="round"/><polygon points="175.4,127.2 178.2,132.8 182.5,131.4 186.7,122.9 196.6,113 206.5,107.4 216.3,106 222.7,103.2 220.6,100.3 209.3,98.9 203.6,100.3 198,107.4 190.9,113 183.9,120.1 176.8,124.3" fill="#808080" stroke="#000" stroke-width="1.6" stroke-linejoin="round"/><polygon points="233.3,100.3 234.7,103.2 240.3,101.7 248.8,93.3 260.1,86.2 271.4,79.2 284.1,70.7 295.4,66.5 305.3,65.8 314.4,63.6 313.7,58.7 305.3,58.7 296.8,62.2 284.1,66.5 277,62.2 274.2,66.5 265.7,73.5 254.4,79.2 246,86.2 238.9,91.9 234.7,96.1" fill="#808080" stroke="#000" stroke-width="1.6" stroke-linejoin="round"/><polygon points="335.6,55.3 337.5,57.3 344.5,55.3 353.4,49.4 363.2,44.5 369.2,39.5 377.1,34.6 383,30.6 381,29.2 375.1,29.6 367.2,33.6 359.3,36.6 351.4,41.5 344.5,45.5 338.5,51.4" fill="#808080" stroke="#000" stroke-width="1.6" stroke-linejoin="round"/><polygon points="427,9 432,10 438,5 444,0 445,-3 436,-3 433,3 428,5" fill="#808080" stroke="#000" stroke-width="1.6" stroke-linejoin="round"/><polygon points="0.6,233.5 5.7,230.1 9.1,233.5 8,239.2 4,243.7 0.6,242.6" fill="#fff" stroke="#000" stroke-width="1.4"/><ellipse cx="7.9" cy="72.3" rx="5.2" ry="4" transform="rotate(0 7.9 72.3)" fill="#808080" stroke="#000" stroke-width="1.4"/><ellipse cx="1" cy="64.5" rx="2" ry="4.5" transform="rotate(0 1 64.5)" fill="#808080" stroke="#000" stroke-width="1.4"/><ellipse cx="230" cy="128" rx="8" ry="3" transform="rotate(-15 230 128)" fill="#808080" stroke="#000" stroke-width="1.4"/><ellipse cx="193.8" cy="141.3" rx="2.5" ry="2" transform="rotate(0 193.8 141.3)" fill="#808080" stroke="#000" stroke-width="1.4"/><ellipse cx="203.6" cy="139.2" rx="2.2" ry="1.8" transform="rotate(0 203.6 139.2)" fill="#808080" stroke="#000" stroke-width="1.4"/><ellipse cx="212.1" cy="134.2" rx="2" ry="1.6" transform="rotate(0 212.1 134.2)" fill="#808080" stroke="#000" stroke-width="1.4"/><ellipse cx="391.9" cy="20.8" rx="2.3" ry="2" transform="rotate(0 391.9 20.8)" fill="#808080" stroke="#000" stroke-width="1.4"/></g><rect x="80" y="160" width="160" height="120" fill="none" stroke="#000" stroke-width="3"/><g clip-path="url(#cf)"><text x="126.5" y="108.4" font-family="Liberation Serif" font-size="46.0" font-weight="normal" text-anchor="middle" textLength="50.0" lengthAdjust="spacingAndGlyphs" transform="rotate(10 126.5 92.9)">16</text><text x="394.6" y="67.9" font-family="Liberation Serif" font-size="46.0" font-weight="normal" text-anchor="middle" textLength="50.0" lengthAdjust="spacingAndGlyphs" transform="rotate(-18 394.6 52.4)">10</text><text x="343.2" y="102.5" font-family="Liberation Serif" font-size="46.0" font-weight="normal" text-anchor="middle" textLength="50.0" lengthAdjust="spacingAndGlyphs" transform="rotate(-18 343.2 87)">12</text><text x="295.8" y="145.9" font-family="Liberation Serif" font-size="46.0" font-weight="normal" text-anchor="middle" textLength="50.0" lengthAdjust="spacingAndGlyphs" transform="rotate(-20 295.8 130.4)">14</text><text x="356.1" y="196.3" font-family="Liberation Serif" font-size="46.0" font-weight="normal" text-anchor="middle" textLength="50.0" lengthAdjust="spacingAndGlyphs" transform="rotate(-30 356.1 180.8)">16</text><text x="52.0" y="226.5" font-family="Liberation Serif" font-size="46.0" font-weight="normal" text-anchor="middle" textLength="50.0" lengthAdjust="spacingAndGlyphs" transform="rotate(30 52 211)">20</text><text x="335.3" y="249.1" font-family="Liberation Serif" font-size="46.0" font-weight="normal" text-anchor="middle" textLength="50.0" lengthAdjust="spacingAndGlyphs" transform="rotate(-20 335.3 233.6)">18</text><text x="301.7" y="318.3" font-family="Liberation Serif" font-size="46.0" font-weight="normal" text-anchor="middle" textLength="50.0" lengthAdjust="spacingAndGlyphs" transform="rotate(-20 301.7 302.8)">22</text><text x="383.8" y="395.3" font-family="Liberation Serif" font-size="46.0" font-weight="normal" text-anchor="middle" textLength="50.0" lengthAdjust="spacingAndGlyphs" transform="rotate(0 383.8 379.8)">24</text></g><rect x="0" y="0" width="560" height="400" fill="none" stroke="#000" stroke-width="2.5"/><line x1="-5" y1="40" x2="0" y2="40" stroke="#000" stroke-width="1.6"/><line x1="-5" y1="120" x2="0" y2="120" stroke="#000" stroke-width="1.6"/><line x1="-5" y1="200" x2="0" y2="200" stroke="#000" stroke-width="1.6"/><line x1="-5" y1="280" x2="0" y2="280" stroke="#000" stroke-width="1.6"/><line x1="-5" y1="360" x2="0" y2="360" stroke="#000" stroke-width="1.6"/><line x1="160" y1="400" x2="160" y2="405" stroke="#000" stroke-width="1.6"/><line x1="360" y1="400" x2="360" y2="405" stroke="#000" stroke-width="1.6"/><line x1="560" y1="400" x2="560" y2="405" stroke="#000" stroke-width="1.6"/><text x="-9.0" y="53.5" font-family="Liberation Serif" font-size="39.5" font-weight="normal" text-anchor="end" textLength="87.5" lengthAdjust="spacingAndGlyphs">46°N</text><text x="-9.0" y="133.5" font-family="Liberation Serif" font-size="39.5" font-weight="normal" text-anchor="end" textLength="87.5" lengthAdjust="spacingAndGlyphs">44°N</text><text x="-9.0" y="213.5" font-family="Liberation Serif" font-size="39.5" font-weight="normal" text-anchor="end" textLength="87.5" lengthAdjust="spacingAndGlyphs">42°N</text><text x="-9.0" y="293.5" font-family="Liberation Serif" font-size="39.5" font-weight="normal" text-anchor="end" textLength="87.5" lengthAdjust="spacingAndGlyphs">40°N</text><text x="-9.0" y="373.5" font-family="Liberation Serif" font-size="39.5" font-weight="normal" text-anchor="end" textLength="87.5" lengthAdjust="spacingAndGlyphs">38°N</text><text x="159.5" y="431.0" font-family="Liberation Serif" font-size="39.0" font-weight="normal" text-anchor="middle" textLength="106.0" lengthAdjust="spacingAndGlyphs">145°E</text><text x="359.5" y="431.0" font-family="Liberation Serif" font-size="39.0" font-weight="normal" text-anchor="middle" textLength="106.0" lengthAdjust="spacingAndGlyphs">150°E</text><text x="559.5" y="431.0" font-family="Liberation Serif" font-size="39.0" font-weight="normal" text-anchor="middle" textLength="106.0" lengthAdjust="spacingAndGlyphs">155°E</text><text x="306.0" y="-9.5" font-family="Liberation Serif" font-size="47.0" font-weight="normal" text-anchor="middle" textLength="194.0" lengthAdjust="spacingAndGlyphs">JAS 2014</text></g><text x="4.5" y="981.6" font-family="Liberation Sans" font-size="32.5" font-weight="bold" text-anchor="start">E</text><g transform="translate(801,1007.5)"><g clip-path="url(#cd)"><path fill="#1c55c0" stroke="#1c55c0" stroke-width="0.8" d="M392 199l16 -2l12,1l8,3l4,3l2,4l0,4l-1,4l-4,8l-9,7l-12,5l-12,2l-28,3l-24,6l-8,2l-12 -1l-4 -2l-4 -5l-2 -5l0 -4l2 -11l4 -10l4 -6l4 -3l4 -1l8,0l16,4l8,2l8 -1l17 -6z"/><path fill="#3a88c0" stroke="#3a88c0" stroke-width="0.8" d="M420 3l7 -3l106,0l1,8l2,8l-1,12l-2,8l-3,4l-5,4l-13,2l-44,1l-12 -1l-12 -2l-7 -4l-21 -21l-3 -7l1 -4l5 -4zM276 95l4 -2l4 -1l4,3l3,5l3,12l8,16l1,8l0,4l-3,8l-3,4l-5,2l-4,0l-4 -2l-8 -6l-8 -3l-8,1l-4,2l-8,7l-4,2l-4 -2l-1 -1l-2 -8l1 -8l2 -5l16 -17l19 -18zM524 175l8 -2l8,0l16,2l4,3l0,10l-4,2l-8,1l-8 -1l-11 -2l-7 -4l-2 -4l2 -4zM324 188l4 -2l8,0l20,5l8,1l8 -1l24 -4l12 -2l20,1l16,3l6,3l4,4l2,4l0,4l-1,8l-4,8l-6,8l-5,6l-12,7l-8,3l-12,3l-40,4l-28,5l-12,1l-8 -2l-7 -3l-3 -4l-2 -4l-2 -8l3 -16l7 -20l4 -8l4 -4zM389 200l-17,6l-8,1l-8 -2l-16 -4l-8,0l-4,1l-4,3l-4,6l-4,10l-2,11l0,4l2,5l4,5l4,2l12,1l8 -2l24 -6l28 -3l12 -2l12 -5l9 -7l4 -8l1 -4l0 -4l-2 -4l-4 -3l-8 -3l-12 -1l-16,2z"/><path fill="#80b0c2" stroke="#80b0c2" stroke-width="0.8" d="M364 4l18 -4l45,0l-8,4l-5,4l-1,4l1,4l6,8l20,18l8,3l8,1l48,1l12 -1l8 -2l4 -2l4 -5l3 -9l1 -8l-3 -16l0 -4l27,0l0,53l-8,25l-4,5l-4,1l-4 -1l-4 -4l-10 -11l-6 -4l-8 -4l-12 -3l-12 -2l-12,0l-24,1l-12 -1l-12 -5l-20 -14l-8 -4l-4,0l-4,0l-8,1l-24,11l-32,9l-8,4l-6,7l-3,8l0,12l3,12l8,16l2,8l1,8l-1,24l2,8l2,4l5,4l7,4l12,5l8,2l12,1l32 -4l40 -3l12 -2l6 -3l6 -5l2 -3l6 -14l4 -6l5 -4l7 -2l8,0l8,1l8,3l12,6l8,2l12 -1l12 -6l0,39l-2 -2l-6 -2l-16 -1l-12,2l-2,1l-2,4l2,4l2,1l5,3l7,2l16,1l8 -3l0,21l-12 -1l-44 -7l-8,0l-8,1l-8,5l-4,4l-20,25l-12,10l-8,4l-8,3l-24,5l-72,6l-16 -1l-8 -3l-5 -4l-2 -4l-2 -8l1 -12l7 -24l2 -12l0 -12l-4 -8l-5 -5l-16 -6l-12 -11l-4 -3l-4,0l-4,0l-12,8l-4,1l-4,0l-4 -4l-4 -12l-1 -16l2 -8l4 -8l6 -8l14 -12l9 -12l4 -12l9 -36l9 -7l9 -9l7 -5l19 -3l39 -4zM275 96l-19,18l-16,17l-2,5l-1,8l2,8l1,1l4,2l4 -2l8 -7l4 -2l8 -1l8,3l8,6l4,2l4,0l5 -2l3 -4l3 -8l0 -4l-1 -8l-8 -16l-3 -12l-3 -5l-4 -3l-4,1l-4,2zM324 188l-4,4l-4,8l-7,20l-3,16l2,8l2,4l3,4l7,3l8,2l12 -1l28 -5l40 -4l12 -3l8 -3l12 -7l5 -6l6 -8l4 -8l1 -8l0 -4l-2 -4l-4 -4l-6 -3l-16 -3l-20 -1l-12,2l-24,4l-8,1l-8 -1l-20 -5l-8,0l-4,2zM104 7l8,0l8,1l8,5l2,3l1,4l-2,4l-3,4l-6,4l-4,0l-8 -1l-7 -3l-4 -4l-2 -4l-1 -4l1 -4l6 -4zM256 7l8 -1l6,2l3,4l1,4l0,8l-2,2l-4,2l-4 -1l-4 -1l-4 -3l-4 -7l0 -4l2 -4zM2 16l8,8l3,4l1,8l-1,8l-3,4l-4,4l-6,2l0 -39zM436 308l12 -1l6,1l6,4l2,4l-3,4l-7,3l-8,2l-8 -1l-9 -4l-1 -4l2 -3l8 -5zM368 312l10,4l2,4l-1,4l-6,4l-9,3l-4 -1l-5 -2l-2 -4l0 -4l3 -4l4 -3l6 -1zM236 316l12 -2l8,0l4,2l6,4l6,8l12,25l4,13l2,10l1,8l0,8l-3,5l-4,2l-4,1l-8 -1l-7 -3l-5 -3l-33 -37l-5 -8l-3 -8l0 -8l2 -4l6 -8l8 -4z"/><path fill="#d0d8da" stroke="#d0d8da" stroke-width="0.8" d="M4 0l143,0l8,4l4,4l2,4l0,4l-2,8l-7,12l-8,8l-8,5l-8,3l-8,2l-12,2l-24,0l-8,1l-5,3l-8,8l-4,8l-5,12l-2,4l-4,2l-4,0l-32,0l-8,1l-4,2l0 -43l6 -2l4 -4l3 -4l1 -8l-1 -8l-3 -4l-3 -4l-7 -5l0 -15zM101 8l-6,4l-1,4l1,4l2,4l4,4l7,3l8,1l4,0l6 -4l3 -4l2 -4l-1 -4l-2 -3l-8 -5l-8 -1l-8,0zM188 0l194,0l-14,3l-60,7l-6,2l-5,4l-9,9l-9,7l-10,40l-6,12l-6,8l-14,12l-6,8l-4,8l-2,12l2,16l3,8l4,4l4,0l4 -1l12 -8l4,0l4,0l4,3l12,11l16,6l5,5l4,8l0,12l-2,12l-7,24l-1,12l2,8l2,4l5,4l12,4l16,0l72 -7l20 -4l12 -5l8 -5l11 -11l13 -17l8 -8l8 -5l4 -1l16,0l36,6l16,2l0,11l-48 -3l-12,2l-8,3l-9,6l-19,19l-8,7l-12,7l-8,3l-16,3l-64,5l-20,1l-40 -1l-4 -1l-3 -3l-1 -8l2 -12l9 -32l2 -12l0 -12l-3 -8l-6 -6l-12 -8l-11 -10l-5 -3l-4,0l-12,7l-4,0l-4,0l-4 -2l-4 -6l-8 -24l-4 -6l-6 -6l-2 -4l0 -5l1 -3l4 -4l25 -16l8 -8l2 -4l2 -8l1 -12l0 -8l-5 -8l-18 -20l-46 -20zM254 8l-2,4l0,4l4,7l4,3l4,1l4,1l4 -2l2 -2l0 -8l-1 -4l-3 -4l-6 -2l-8,1zM392 32l4,0l8,2l28,18l8,3l12,1l24 -1l12,0l12,2l12,3l8,4l6,4l10,11l4,4l4,1l4 -1l4 -5l8 -25l0,86l-12,6l-12,1l-8 -2l-12 -6l-8 -3l-12 -2l-8,2l-4,1l-4,4l-4,6l-6,14l-3,4l-7,5l-12,3l-44,4l-32,4l-8,0l-12 -3l-12 -5l-8 -5l-4 -3l-2 -4l-2 -8l1 -24l-1 -8l-2 -8l-8 -16l-3 -12l0 -12l3 -8l3 -4l7 -6l8 -3l28 -7l20 -9l9 -3zM382 52l-35,16l-7,5l-5,7l0,4l1,8l7,20l3,8l-1,24l2,8l2,4l7,6l8,4l8,1l12,0l24 -2l23 -5l7 -4l5 -4l4 -8l4 -16l2 -4l4 -4l9 -4l30 -7l8 -3l4 -3l4 -5l2 -6l-1 -8l-1 -4l-2 -4l-6 -6l-4 -2l-10 -4l-10 -1l-8,0l-24,4l-8,1l-12 -4l-24 -13l-8 -1l-12,1zM528 271l16 -3l8,1l8,2l0,37l-28 -1l-20,2l-8,4l-17,11l-8,4l-11,4l-12,2l-16,2l-32 -3l-8,1l-28,9l-12,2l-8,0l-7 -1l-9 -5l-3 -3l-2 -4l-1 -4l2 -8l2 -4l7 -8l7 -6l8 -5l12 -2l32,6l8 -1l24 -9l12 -1l36,4l8,0l4 -1l8 -3l16 -13l10 -5zM436 308l-8,5l-2,3l1,4l9,4l8,1l8 -2l7 -3l3 -4l-2 -4l-6 -4l-6 -1l-12,1zM366 312l-6,1l-4,3l-3,4l0,4l2,4l5,2l4,1l9 -3l6 -4l1 -4l-2 -4l-10 -4zM280 280l4,3l8,29l14,32l6,32l3,8l5,8l4,3l12,5l-56,0l4 -1l4 -2l3 -5l0 -12l-5 -20l-10 -25l-8 -13l-7 -6l-9 -2l-16,2l-9,4l-4,4l-4,8l0,8l1,4l7,12l33,37l8,5l12,2l-130,0l-24 -8l-7 -4l-3 -4l0 -4l3 -4l15 -12l14 -8l24 -9l8 -5l6 -6l11 -20l11 -10l8 -4l20 -5l20 -10l16 -6l8 -1z"/><path fill="#e8cfc8" stroke="#e8cfc8" stroke-width="0.8" d="M148 0l38,0l46,20l4,4l17,20l2,8l0,8l-1,12l-4,8l-8,8l-25,16l-4,4l-1,3l0,5l2,4l6,6l4,6l8,24l4,6l4,2l4,0l4,0l12 -7l4,0l5,3l11,10l12,8l6,6l3,8l1,8l-2,12l-8,28l-3,12l-1,12l1,4l3,3l12,2l48,0l76 -7l12 -3l12 -6l12 -10l20 -20l12 -7l8 -2l12 -1l44,3l0,14l-32 -1l-16,2l-10,5l-4,4l-2,4l-1,4l5,3l4,0l40 -4l16,1l0,19l-8 -2l-8 -1l-16,3l-11,5l-17,14l-8,3l-4,1l-12,0l-24 -4l-12,0l-12,3l-20,7l-8,1l-8 -1l-20 -4l-8 -1l-8,2l-4,2l-11,9l-7,8l-2,4l-2,8l1,4l2,4l7,6l8,3l8,1l8 -1l8 -2l28 -9l8 -1l32,3l12 -1l12 -2l15 -5l8 -4l17 -11l12 -4l20 -2l24,1l0,20l-12 -4l-16,0l-12,2l-31,10l-18,4l-27,3l-28,0l-12,1l-8,2l-28,9l-20,5l-8,4l-5,4l-1,4l-1,4l2,8l3,4l6,4l10,4l26,4l-44,0l-11 -4l-5 -4l-3 -4l-4 -8l-5 -28l-3 -12l-13 -28l-8 -29l-4 -3l-8,1l-16,6l-20,10l-20,5l-8,4l-11,10l-11,20l-6,6l-8,5l-28,11l-10,6l-11,8l-7,8l0,4l3,4l7,4l10,4l14,4l-110,0l-1 -4l4 -4l12 -8l25 -14l32 -13l16 -8l22 -13l10 -8l6 -8l4 -12l0 -4l-2 -4l-8 -8l-2 -4l2 -1l8 -3l24 -1l4,1l9,4l7,2l8 -1l4 -1l6 -4l3 -4l1 -4l1 -8l-1 -12l1 -4l5 -3l4,0l12,2l8,0l8 -2l4 -2l8 -9l5 -10l4 -12l2 -8l1 -8l-1 -4l-3 -7l-4 -5l-12 -9l-8 -8l-4 -3l-4,0l-12,4l-4,0l-8 -2l-6 -6l-8 -20l-6 -7l-8 -3l-20 -8l-16 -3l-8 -2l-6 -5l-2 -4l0 -4l1 -4l3 -4l4 -2l20 -3l16 -4l12,0l8 -1l11 -6l4 -4l2 -4l1 -8l-2 -7l-4 -6l-8 -8l-8 -5l-8 -3l-8 -1l-8,1l-8,3l-4,4l-16,16l-12,9l-8,3l-28,6l-9,4l-5,4l-2,4l-5,24l-4,8l-4,4l-10,8l-21,11l-7,5l-4,4l-9,15l-4,5l-16,10l-4,4l-4,10l-1,12l1,14l4,9l4,4l8,3l24,3l1,3l0,8l-1,8l-3,8l-6,8l-7,5l-8,4l-12,2l-8 -3l-4 -4l0 -183l8 -3l8 -1l32,1l4 -2l2 -4l5 -12l4 -8l5 -6l4 -3l4 -2l8 -1l24,0l12 -2l12 -3l8 -4l8 -7l7 -8l4 -8l2 -8l0 -4l-2 -4l-4 -4l-8 -4zM384 51l12 -1l8,1l24,13l12,4l8 -1l24 -4l8,0l10,1l10,4l4,2l6,6l2,4l1,4l1,8l-2,6l-4,5l-4,3l-8,3l-30,7l-9,4l-4,4l-2,4l-4,16l-4,8l-5,4l-7,4l-23,5l-24,2l-12,0l-8 -1l-8 -4l-7 -6l-2 -4l-2 -8l1 -24l-3 -8l-7 -20l-1 -8l0 -4l5 -7l7 -5l35 -16zM390 68l-10,3l-9,5l-4,4l-3,4l-1,8l2,8l9,20l4,16l1,4l5,4l4,1l8,1l8 -2l5 -4l3 -4l3 -16l8 -20l1 -8l-3 -8l-9 -9l-4 -3l-8 -4l-8,0zM470 76l-7,4l-4,4l-1,4l3,4l7,3l4,1l8,0l8 -4l3 -4l1 -4l-2 -4l-6 -4l-4 -1l-8,1zM64 188l12,0l12,4l6,4l3,4l1,4l0,4l-2,8l-4,8l-4,4l-8,5l-12,4l-8,1l-8,0l-2 -2l-1 -8l-1 -16l1 -12l2 -4l3 -4l8 -4zM2 368l6,11l10,13l2,4l-3,4l-17,0l0 -35z"/><path fill="#d6947f" stroke="#d6947f" stroke-width="0.8" d="M192 35l8 -1l8,1l8,3l8,5l8,8l4,6l2,7l-1,8l-2,4l-4,4l-11,6l-8,1l-12,0l-16,4l-20,3l-4,2l-3,4l-1,4l0,4l2,4l6,5l8,2l16,3l20,8l8,3l6,7l8,20l6,6l8,2l4,0l12 -4l4,0l24,20l6,8l2,8l-2,12l-5,16l-5,10l-4,5l-8,6l-4,2l-8,0l-16 -2l-4,0l-4,2l-2,5l1,12l-1,8l-1,4l-3,4l-6,4l-4,1l-8,1l-7 -2l-9 -4l-4 -1l-24,1l-8,3l-2,1l2,4l8,8l2,4l0,4l-4,12l-6,8l-10,8l-22,13l-16,8l-32,13l-25,14l-12,8l-4,4l1,4l-23,0l3 -4l-2 -4l-10 -13l-8 -14l0 -23l8,14l8,9l4,2l8,3l12,0l16 -5l55 -25l13 -8l4 -4l4 -4l1 -4l0 -4l-4 -8l-18 -20l-11 -15l-4 -4l-8 -2l-4,0l-8,3l-20,14l-16,8l-16,6l-24,6l0 -24l4,4l8,3l12 -2l8 -4l7 -5l6 -8l3 -8l1 -8l0 -8l-1 -3l-24 -3l-8 -3l-4 -4l-3 -7l-2 -8l0 -12l2 -12l3 -6l4 -4l15 -10l4 -4l7 -12l7 -8l7 -5l21 -11l10 -8l4 -4l4 -8l5 -24l2 -4l5 -4l9 -4l28 -6l8 -3l12 -9l16 -16l9 -6zM120 120l-8,5l-25,23l-6,8l-1,4l1,4l4,4l15,10l7,6l5,8l2,4l1,8l0,8l-6,32l1,4l2,5l5,3l19,3l17,9l7,3l12,2l8,0l4 -1l7 -4l3 -4l6 -11l4 -5l10 -8l10 -6l8 -2l8,0l24,4l8 -1l4 -2l5 -5l5 -8l3 -12l0 -8l-3 -8l-3 -4l-19 -15l-4 -2l-20,0l-7 -3l-5 -6l-8 -17l-4 -4l-4 -2l-32 -5l-24 -3l-10 -3l-18 -8l-4 -1l-4,1zM62 188l-8,4l-3,4l-2,4l-1,12l1,16l1,8l2,2l8,0l8 -1l12 -4l8 -5l4 -4l4 -8l2 -8l0 -4l-1 -4l-3 -4l-6 -4l-12 -4l-12,0zM392 68l8,0l8,4l4,3l9,9l3,8l-1,8l-8,20l-3,16l-3,4l-5,4l-8,2l-8 -1l-4 -1l-5 -4l-1 -4l-4 -16l-9 -20l-2 -8l1 -8l3 -4l4 -4l9 -5l10 -3zM472 76l8 -1l4,1l6,4l2,4l-1,4l-3,4l-8,4l-8,0l-4 -1l-7 -3l-3 -4l1 -4l4 -4l7 -4zM512 235l16 -2l32,1l0,18l-16 -1l-44,4l-5 -3l1 -4l2 -4l4 -4l7 -4zM536 324l12,0l12,4l0,19l-5 -3l-7 -3l-16 -2l-92,12l-24,1l-16,3l-12,4l-25,13l-4,4l-1,4l1,4l6,4l27,8l8,0l8 -1l3 -3l5 -8l4 -4l4 -1l4,1l7,4l9,8l-3,4l-13,4l-48,0l-24 -4l-8 -2l-4 -2l-6 -4l-3 -4l-1 -4l0 -8l1 -4l4 -4l9 -4l20 -5l32 -10l12 -2l32,0l27 -3l18 -4l31 -10l12 -2zM548 374l4 -1l4,1l4,6l0,20l-23,0l3 -15l3 -5l3 -4zM492 391l4,0l0,1l-6,0z"/><path fill="#c05b3c" stroke="#c05b3c" stroke-width="0.8" d="M120 120l4 -1l4,1l18,8l10,3l24,3l32,5l4,2l4,4l8,17l5,6l7,3l20,0l4,2l19,15l3,4l3,8l0,8l-3,12l-5,8l-5,5l-4,2l-8,1l-24 -4l-8,0l-8,2l-10,6l-10,8l-4,5l-6,11l-3,4l-7,4l-4,1l-8,0l-12 -2l-7 -3l-17 -9l-19 -3l-5 -3l-2 -5l-1 -4l6 -32l0 -8l-1 -8l-2 -4l-5 -8l-7 -6l-15 -10l-4 -4l-1 -4l1 -4l6 -8l25 -23l8 -5zM128 144l-8,4l-3,4l-2,4l-1,4l12,32l2,12l1,24l3,8l3,4l13,9l12,11l8,4l8,1l4 -1l5 -4l1 -4l2 -12l2 -4l6 -4l20 -11l12 -3l12,0l20,3l8,0l4 -1l4 -3l4 -6l2 -7l0 -8l-2 -4l-4 -4l-16 -12l-8 -3l-12 -2l-8 -4l-4 -3l-3 -4l-6 -12l-3 -3l-4 -2l-16 -1l-24 -4l-32,0l-12,2zM84 267l8,1l4,1l4,4l11,15l18,20l4,8l0,4l-1,4l-4,4l-4,4l-13,8l-51,23l-16,6l-12,1l-8 -1l-8 -4l-8 -9l-8 -14l0 -38l24 -6l17 -6l15 -8l16 -12l10 -4zM69 296l-17,5l-29,11l-8,4l-4,4l-2,4l1,8l3,8l7,8l4,3l8,2l12,0l8 -3l33 -14l7 -4l8 -8l1 -4l1 -4l-3 -8l-3 -5l-4 -3l-8 -4l-4 -1l-8,0zM524 340l12 -1l8,1l8,3l8,4l0,33l-4 -6l-4 -1l-6,3l-3,4l-3,5l-3,15l-109,0l13 -4l3 -4l-12 -10l-4 -2l-4 -1l-4,1l-4,4l-5,8l-3,3l-8,1l-8,0l-27 -8l-6 -4l-1 -4l1 -4l1 -1l10 -7l17 -8l17 -6l15 -2l21 -1l40 -5l43 -6zM456 356l-12,4l-5,4l2,4l4,4l11,3l12,2l8 -1l16 -3l8,1l4,2l9,12l3,2l4,2l4 -1l3 -3l4 -8l2 -12l0 -4l-2 -4l-11 -4l-16 -3l-48,3zM391 372l-4,4l-1,4l2,4l4,3l4,1l4 -1l3 -3l2 -4l1 -4l0 -4l-2 -2l-4 -1l-8,2zM490 392l6,0l0 -1l-4,0z"/><path fill="#9e1a28" stroke="#9e1a28" stroke-width="0.8" d="M128 144l12 -2l32,0l24,4l16,1l4,2l3,3l6,12l3,4l4,3l8,4l12,2l8,3l16,12l4,4l2,4l0,8l-2,7l-4,6l-4,3l-4,1l-8,0l-20 -3l-12,0l-12,3l-20,11l-6,4l-2,4l-2,12l-1,4l-5,4l-4,1l-8 -1l-8 -4l-12 -11l-13 -9l-3 -4l-3 -8l-1 -24l-2 -12l-12 -32l1 -4l2 -4l3 -4l8 -4zM166 152l-14,2l-8,3l-4,3l-3,4l-1,8l0,12l4,24l4,14l4,5l4,3l4,1l8,1l8 -1l12 -4l24 -11l20 -6l12 -1l16,4l8,0l4 -1l3 -4l1 -4l-2 -4l-2 -3l-16 -13l-7 -4l-9 -2l-8 -4l-4 -4l-8 -13l-4 -2l-4 -1l-12,2l-16 -4l-12,0zM72 295l8,0l4,1l8,4l4,3l3,5l3,8l-1,4l-1,4l-8,8l-7,4l-33,14l-8,3l-12,0l-8 -2l-4 -3l-7 -8l-3 -8l-1 -8l2 -4l4 -4l8 -4l29 -11l17 -5zM54 316l-6,4l-2,4l1,4l5,2l4,0l12 -3l6 -3l2 -3l1 -1l-1 -4l-4 -2l-4 -1l-4,0l-8,2zM456 356l48 -3l16,3l11,4l2,4l0,4l-2,12l-4,8l-3,3l-4,1l-4 -2l-3 -2l-9 -12l-4 -2l-8 -1l-16,3l-8,1l-12 -2l-11 -3l-4 -4l-2 -4l5 -4l12 -4zM392 371l8 -2l4,1l2,2l0,4l-1,4l-2,4l-3,3l-4,1l-4 -1l-4 -3l-2 -4l1 -4l4 -4z"/><path fill="#5e0f22" stroke="#5e0f22" stroke-width="0.8" d="M168 152l12,0l16,4l12 -2l4,1l4,2l8,13l4,4l8,4l9,2l7,4l16,13l2,3l2,4l-1,4l-3,4l-4,1l-8,0l-16 -4l-12,1l-20,6l-24,11l-12,4l-8,1l-8 -1l-4 -1l-4 -3l-4 -5l-4 -14l-4 -24l0 -12l1 -8l3 -4l4 -3l8 -3l14 -2zM167 164l-9,4l-6,7l-2,9l1,12l4,12l5,6l4,2l4,1l8 -1l8 -3l36 -18l16 -2l3 -1l0 -4l-7 -3l-8 -2l-4 -3l-8 -11l-3 -1l-13,0l-16 -4l-12,0zM56 315l8 -2l4,0l4,1l4,2l1,4l-1,1l-2,3l-6,3l-12,3l-4,0l-5 -2l-1 -4l2 -4l6 -4z"/><path fill="#420a15" stroke="#420a15" stroke-width="0.8" d="M168 164l12,0l16,4l13,0l3,1l8,11l4,3l8,2l7,3l0,4l-3,1l-16,2l-36,18l-8,3l-8,1l-4 -1l-4 -2l-5 -6l-4 -12l-1 -12l2 -9l6 -7l9 -4z"/></g><polyline points="0,65 12,64 22,63" fill="none" stroke="#333" stroke-width="1.1" stroke-linejoin="round"/><polyline points="0,126 12,124" fill="none" stroke="#333" stroke-width="1.1" stroke-linejoin="round"/><polyline points="46,44 55,57 67,71 83,81" fill="none" stroke="#333" stroke-width="1.1" stroke-linejoin="round"/><polyline points="146,104 162,108 170,111" fill="none" stroke="#333" stroke-width="1.1" stroke-linejoin="round"/><polyline points="101,34 111,44 129,46 158,48 182,51 204,51 223,59 235,71 235,83 229,99 223,115 213,130 202,144 208,152 217,158 237,164 257,166 280,166" fill="none" stroke="#333" stroke-width="1.1" stroke-linejoin="round"/><polyline points="259,4 249,14 247,28 255,36 269,40 280,40 294,42 298,51 294,63" fill="none" stroke="#333" stroke-width="1.1" stroke-linejoin="round"/><polyline points="280,85 263,93 251,103 247,117 253,127 267,129 280,128 284,126" fill="none" stroke="#333" stroke-width="1.1" stroke-linejoin="round"/><polyline points="119,196 127,174 138,170 158,166 178,166 198,170 217,174 237,180 257,188 280,198 296,200 316,212 322,224" fill="none" stroke="#333" stroke-width="1.1" stroke-linejoin="round"/><polyline points="119,200 117,208 107,216 95,214 85,204 83,200" fill="none" stroke="#333" stroke-width="1.1" stroke-linejoin="round"/><polyline points="358,5 349,20 337,34 327,51 326,73 337,76 355,71" fill="none" stroke="#333" stroke-width="1.1" stroke-linejoin="round"/><polyline points="409,5 412,16 422,18" fill="none" stroke="#333" stroke-width="1.1" stroke-linejoin="round"/><polyline points="458,12 478,8 492,4" fill="none" stroke="#333" stroke-width="1.1" stroke-linejoin="round"/><polyline points="418,58 448,62 478,62 507,59 527,49 555,34" fill="none" stroke="#333" stroke-width="1.1" stroke-linejoin="round"/><polyline points="343,100 369,90 395,83 418,87 438,91 468,89 488,91 517,97 555,86" fill="none" stroke="#333" stroke-width="1.1" stroke-linejoin="round"/><polyline points="280,158 304,158 326,164 349,150 379,140 399,142 418,150 448,156 478,156" fill="none" stroke="#333" stroke-width="1.1" stroke-linejoin="round"/><polyline points="537,125 555,121" fill="none" stroke="#333" stroke-width="1.1" stroke-linejoin="round"/><polyline points="430,198 448,190 478,184 507,184 537,190 555,195" fill="none" stroke="#333" stroke-width="1.1" stroke-linejoin="round"/><polyline points="373,216 399,210 418,204 430,200" fill="none" stroke="#333" stroke-width="1.1" stroke-linejoin="round"/><polyline points="40,279 55,267 79,265 109,265 134,261 146,253 154,240 164,237 178,244 192,257 208,271 221,283 237,287 257,284 280,279 282,278" fill="none" stroke="#333" stroke-width="1.1" stroke-linejoin="round"/><polyline points="280,208 292,224 290,240 292,255 308,256 335,247 363,242 391,240" fill="none" stroke="#333" stroke-width="1.1" stroke-linejoin="round"/><polyline points="454,235 468,224 488,214 507,212 537,216 555,220" fill="none" stroke="#333" stroke-width="1.1" stroke-linejoin="round"/><polyline points="347,259 369,256 389,256 418,265 448,270 478,263 497,265 517,275 537,285 555,293" fill="none" stroke="#333" stroke-width="1.1" stroke-linejoin="round"/><polyline points="24,334 40,321 55,305 75,293 95,291 119,292 138,296 154,307 168,321 182,330 208,332 237,336 255,339 267,330 280,319 300,307 320,303 339,311 359,319 381,324" fill="none" stroke="#333" stroke-width="1.1" stroke-linejoin="round"/><polyline points="450,329 478,328 497,324 517,320 537,323 555,331" fill="none" stroke="#333" stroke-width="1.1" stroke-linejoin="round"/><polyline points="111,395 134,393 154,395" fill="none" stroke="#333" stroke-width="1.1" stroke-linejoin="round"/><polyline points="320,395 339,390 365,386 379,374 393,357" fill="none" stroke="#333" stroke-width="1.1" stroke-linejoin="round"/><polyline points="460,349 478,349 503,349 527,356 555,372" fill="none" stroke="#333" stroke-width="1.1" stroke-linejoin="round"/><polyline points="4,212 12,222" fill="none" stroke="#333" stroke-width="1.1" stroke-linejoin="round"/><g clip-path="url(#cf)"><polygon points="37.3,-3 37.3,0.4 32.4,13.8 31,22.2 34.5,33.5 40.2,42 43.7,44.1 47.2,39.2 50.8,34.9 52.9,27.9 54.3,18.7 59.9,15.2 67,11.6 69.8,15.2 74,15.9 79.7,16.6 86.7,19.4 92.4,22.2 94.5,29.3 95.9,39.2 98,37 101.6,29.3 104.4,23.6 102.3,16.6 99.4,8.1 96.6,4.6 91,4.6 85.3,2.5 83.9,0.4 83.9,-3" fill="#fff" stroke="#fff" stroke-width="5" stroke-linejoin="round"/><polygon points="24.6,61.7 30,58 35.9,57.5 43,61.7 51.5,68.8 62.7,78.7 71.2,87.2 79.7,94.2 91,102.7 102.3,106.9 112.1,111.1 122,114 130.5,115.4 136,119.6 150.3,121 157.3,118.2 163,112 167.2,109.7 172.8,105.5 174.3,111.1 168.6,118.2 164.4,128.1 164.4,133.7 172.8,140.8 180,144 186,142.5 192.6,142.2 190,146 178.5,147.9 171.4,153.5 164.4,156.3 157.3,159.2 143.2,161.3 129.1,161.3 119.2,164.8 110.7,170.5 102.3,178.9 96.6,186 92.4,195.9 88.2,202.9 82.5,200.1 76.9,195.9 65.6,193 55.7,188.8 45.8,183.2 37.3,178.9 28.9,176.1 17.6,177.5 9.1,180.3 0.6,186 -5,186 -5,150.7 0.6,150.7 6.3,152.1 13.3,147.9 14.8,142.2 12,135.2 14.8,126.7 23.2,122.5 24.6,114 24.6,106.9 24.6,92.8 25.3,81.5 21.8,73 23.2,64.6" fill="#fff" stroke="#fff" stroke-width="5" stroke-linejoin="round"/><polygon points="-5,220 -0.5,220 3.5,221.1 8,223.9 11.9,224.5 16.5,222.2 18.2,222.8 17,227.9 15.9,233.5 15.9,244.8 17.6,253.3 22.1,257.2 28.6,261.8 33.5,267.7 34.5,273.6 37.5,279.6 39.5,285.5 41.4,293.4 40.5,300.3 38.5,307.2 34.5,315.1 28.6,322.1 23.7,328 19.7,334.9 20.7,341.8 19.7,349.7 14.8,346.8 7.8,346.8 1.9,350.7 -0.1,352.7 -5,352.7" fill="#fff" stroke="#fff" stroke-width="5" stroke-linejoin="round"/><polygon points="-5,203.6 -0.5,203.6 2.3,203.9 6.3,206.4 6.9,208.7 2.3,210.4 0.1,211.5 -5,211.5" fill="#fff" stroke="#fff" stroke-width="5" stroke-linejoin="round"/><polygon points="175.4,127.2 178.2,132.8 182.5,131.4 186.7,122.9 196.6,113 206.5,107.4 216.3,106 222.7,103.2 220.6,100.3 209.3,98.9 203.6,100.3 198,107.4 190.9,113 183.9,120.1 176.8,124.3" fill="#fff" stroke="#fff" stroke-width="5" stroke-linejoin="round"/><polygon points="233.3,100.3 234.7,103.2 240.3,101.7 248.8,93.3 260.1,86.2 271.4,79.2 284.1,70.7 295.4,66.5 305.3,65.8 314.4,63.6 313.7,58.7 305.3,58.7 296.8,62.2 284.1,66.5 277,62.2 274.2,66.5 265.7,73.5 254.4,79.2 246,86.2 238.9,91.9 234.7,96.1" fill="#fff" stroke="#fff" stroke-width="5" stroke-linejoin="round"/><polygon points="335.6,55.3 337.5,57.3 344.5,55.3 353.4,49.4 363.2,44.5 369.2,39.5 377.1,34.6 383,30.6 381,29.2 375.1,29.6 367.2,33.6 359.3,36.6 351.4,41.5 344.5,45.5 338.5,51.4" fill="#fff" stroke="#fff" stroke-width="5" stroke-linejoin="round"/><polygon points="427,9 432,10 438,5 444,0 445,-3 436,-3 433,3 428,5" fill="#fff" stroke="#fff" stroke-width="5" stroke-linejoin="round"/><polygon points="76,92 98,95 100,103 121,104 123,111 133,112 155,112 160,118 150,124 130,120 100,112 76,100" fill="#fff"/><polygon points="112,158 165,154 168,163 118,167" fill="#fff"/><polygon points="14,66 26,64 27,106 16,108" fill="#fff"/><polygon points="-2,144 25,144 25,153 -2,153" fill="#fff"/><polygon points="14,226 25,226 25,258 14,258" fill="#fff"/><polygon points="-2,350 3,350 3,400 -2,400" fill="#fff"/><polygon points="37.3,-3 37.3,0.4 32.4,13.8 31,22.2 34.5,33.5 40.2,42 43.7,44.1 47.2,39.2 50.8,34.9 52.9,27.9 54.3,18.7 59.9,15.2 67,11.6 69.8,15.2 74,15.9 79.7,16.6 86.7,19.4 92.4,22.2 94.5,29.3 95.9,39.2 98,37 101.6,29.3 104.4,23.6 102.3,16.6 99.4,8.1 96.6,4.6 91,4.6 85.3,2.5 83.9,0.4 83.9,-3" fill="#808080" stroke="#000" stroke-width="1.6" stroke-linejoin="round"/><polygon points="24.6,61.7 30,58 35.9,57.5 43,61.7 51.5,68.8 62.7,78.7 71.2,87.2 79.7,94.2 91,102.7 102.3,106.9 112.1,111.1 122,114 130.5,115.4 136,119.6 150.3,121 157.3,118.2 163,112 167.2,109.7 172.8,105.5 174.3,111.1 168.6,118.2 164.4,128.1 164.4,133.7 172.8,140.8 180,144 186,142.5 192.6,142.2 190,146 178.5,147.9 171.4,153.5 164.4,156.3 157.3,159.2 143.2,161.3 129.1,161.3 119.2,164.8 110.7,170.5 102.3,178.9 96.6,186 92.4,195.9 88.2,202.9 82.5,200.1 76.9,195.9 65.6,193 55.7,188.8 45.8,183.2 37.3,178.9 28.9,176.1 17.6,177.5 9.1,180.3 0.6,186 -5,186 -5,150.7 0.6,150.7 6.3,152.1 13.3,147.9 14.8,142.2 12,135.2 14.8,126.7 23.2,122.5 24.6,114 24.6,106.9 24.6,92.8 25.3,81.5 21.8,73 23.2,64.6" fill="#808080" stroke="#000" stroke-width="1.6" stroke-linejoin="round"/><polygon points="-5,220 -0.5,220 3.5,221.1 8,223.9 11.9,224.5 16.5,222.2 18.2,222.8 17,227.9 15.9,233.5 15.9,244.8 17.6,253.3 22.1,257.2 28.6,261.8 33.5,267.7 34.5,273.6 37.5,279.6 39.5,285.5 41.4,293.4 40.5,300.3 38.5,307.2 34.5,315.1 28.6,322.1 23.7,328 19.7,334.9 20.7,341.8 19.7,349.7 14.8,346.8 7.8,346.8 1.9,350.7 -0.1,352.7 -5,352.7" fill="#808080" stroke="#000" stroke-width="1.6" stroke-linejoin="round"/><polygon points="-5,203.6 -0.5,203.6 2.3,203.9 6.3,206.4 6.9,208.7 2.3,210.4 0.1,211.5 -5,211.5" fill="#808080" stroke="#000" stroke-width="1.6" stroke-linejoin="round"/><polygon points="175.4,127.2 178.2,132.8 182.5,131.4 186.7,122.9 196.6,113 206.5,107.4 216.3,106 222.7,103.2 220.6,100.3 209.3,98.9 203.6,100.3 198,107.4 190.9,113 183.9,120.1 176.8,124.3" fill="#808080" stroke="#000" stroke-width="1.6" stroke-linejoin="round"/><polygon points="233.3,100.3 234.7,103.2 240.3,101.7 248.8,93.3 260.1,86.2 271.4,79.2 284.1,70.7 295.4,66.5 305.3,65.8 314.4,63.6 313.7,58.7 305.3,58.7 296.8,62.2 284.1,66.5 277,62.2 274.2,66.5 265.7,73.5 254.4,79.2 246,86.2 238.9,91.9 234.7,96.1" fill="#808080" stroke="#000" stroke-width="1.6" stroke-linejoin="round"/><polygon points="335.6,55.3 337.5,57.3 344.5,55.3 353.4,49.4 363.2,44.5 369.2,39.5 377.1,34.6 383,30.6 381,29.2 375.1,29.6 367.2,33.6 359.3,36.6 351.4,41.5 344.5,45.5 338.5,51.4" fill="#808080" stroke="#000" stroke-width="1.6" stroke-linejoin="round"/><polygon points="427,9 432,10 438,5 444,0 445,-3 436,-3 433,3 428,5" fill="#808080" stroke="#000" stroke-width="1.6" stroke-linejoin="round"/><polygon points="0.6,233.5 5.7,230.1 9.1,233.5 8,239.2 4,243.7 0.6,242.6" fill="#fff" stroke="#000" stroke-width="1.4"/><ellipse cx="7.9" cy="72.3" rx="5.2" ry="4" transform="rotate(0 7.9 72.3)" fill="#808080" stroke="#000" stroke-width="1.4"/><ellipse cx="1" cy="64.5" rx="2" ry="4.5" transform="rotate(0 1 64.5)" fill="#808080" stroke="#000" stroke-width="1.4"/><ellipse cx="230" cy="128" rx="8" ry="3" transform="rotate(-15 230 128)" fill="#808080" stroke="#000" stroke-width="1.4"/><ellipse cx="193.8" cy="141.3" rx="2.5" ry="2" transform="rotate(0 193.8 141.3)" fill="#808080" stroke="#000" stroke-width="1.4"/><ellipse cx="203.6" cy="139.2" rx="2.2" ry="1.8" transform="rotate(0 203.6 139.2)" fill="#808080" stroke="#000" stroke-width="1.4"/><ellipse cx="212.1" cy="134.2" rx="2" ry="1.6" transform="rotate(0 212.1 134.2)" fill="#808080" stroke="#000" stroke-width="1.4"/><ellipse cx="391.9" cy="20.8" rx="2.3" ry="2" transform="rotate(0 391.9 20.8)" fill="#808080" stroke="#000" stroke-width="1.4"/></g><rect x="80" y="160" width="160" height="120" fill="none" stroke="#000" stroke-width="3"/><g clip-path="url(#cf)"><text x="116.6" y="105.4" font-family="Liberation Serif" font-size="46.0" font-weight="normal" text-anchor="middle" textLength="50.0" lengthAdjust="spacingAndGlyphs" transform="rotate(10 116.6 89.9)">16</text><text x="441.1" y="30.3" font-family="Liberation Serif" font-size="46.0" font-weight="normal" text-anchor="middle" textLength="25.0" lengthAdjust="spacingAndGlyphs" transform="rotate(0 441.1 14.8)">8</text><text x="386.7" y="70.8" font-family="Liberation Serif" font-size="46.0" font-weight="normal" text-anchor="middle" textLength="50.0" lengthAdjust="spacingAndGlyphs" transform="rotate(-15 386.7 55.3)">10</text><text x="314.6" y="130.1" font-family="Liberation Serif" font-size="46.0" font-weight="normal" text-anchor="middle" textLength="50.0" lengthAdjust="spacingAndGlyphs" transform="rotate(-25 314.6 114.6)">12</text><text x="505.3" y="151.9" font-family="Liberation Serif" font-size="46.0" font-weight="normal" text-anchor="middle" textLength="50.0" lengthAdjust="spacingAndGlyphs" transform="rotate(-30 505.3 136.4)">14</text><text x="345.2" y="243.2" font-family="Liberation Serif" font-size="46.0" font-weight="normal" text-anchor="middle" textLength="50.0" lengthAdjust="spacingAndGlyphs" transform="rotate(-15 345.2 227.7)">16</text><text x="426.2" y="258.0" font-family="Liberation Serif" font-size="46.0" font-weight="normal" text-anchor="middle" textLength="50.0" lengthAdjust="spacingAndGlyphs" transform="rotate(-5 426.2 242.5)">18</text><text x="313.6" y="284.7" font-family="Liberation Serif" font-size="46.0" font-weight="normal" text-anchor="middle" textLength="50.0" lengthAdjust="spacingAndGlyphs" transform="rotate(-20 313.6 269.2)">20</text><text x="414.4" y="336.1" font-family="Liberation Serif" font-size="46.0" font-weight="normal" text-anchor="middle" textLength="50.0" lengthAdjust="spacingAndGlyphs" transform="rotate(5 414.4 320.6)">22</text><text x="424.3" y="362.7" font-family="Liberation Serif" font-size="46.0" font-weight="normal" text-anchor="middle" textLength="50.0" lengthAdjust="spacingAndGlyphs" transform="rotate(-5 424.3 347.2)">24</text></g><rect x="0" y="0" width="560" height="400" fill="none" stroke="#000" stroke-width="2.5"/><line x1="-5" y1="40" x2="0" y2="40" stroke="#000" stroke-width="1.6"/><line x1="-5" y1="120" x2="0" y2="120" stroke="#000" stroke-width="1.6"/><line x1="-5" y1="200" x2="0" y2="200" stroke="#000" stroke-width="1.6"/><line x1="-5" y1="280" x2="0" y2="280" stroke="#000" stroke-width="1.6"/><line x1="-5" y1="360" x2="0" y2="360" stroke="#000" stroke-width="1.6"/><line x1="160" y1="400" x2="160" y2="405" stroke="#000" stroke-width="1.6"/><line x1="360" y1="400" x2="360" y2="405" stroke="#000" stroke-width="1.6"/><line x1="560" y1="400" x2="560" y2="405" stroke="#000" stroke-width="1.6"/><text x="159.5" y="431.0" font-family="Liberation Serif" font-size="39.0" font-weight="normal" text-anchor="middle" textLength="106.0" lengthAdjust="spacingAndGlyphs">145°E</text><text x="359.5" y="431.0" font-family="Liberation Serif" font-size="39.0" font-weight="normal" text-anchor="middle" textLength="106.0" lengthAdjust="spacingAndGlyphs">150°E</text><text x="559.5" y="431.0" font-family="Liberation Serif" font-size="39.0" font-weight="normal" text-anchor="middle" textLength="106.0" lengthAdjust="spacingAndGlyphs">155°E</text><text x="306.0" y="-9.5" font-family="Liberation Serif" font-size="47.0" font-weight="normal" text-anchor="middle" textLength="194.0" lengthAdjust="spacingAndGlyphs">JAS 2015</text></g><text x="755.0" y="981.6" font-family="Liberation Sans" font-size="32.5" font-weight="bold" text-anchor="start">F</text><g transform="translate(100,1488.3)"><g clip-path="url(#cd)"><path fill="#80b0c2" stroke="#80b0c2" stroke-width="0.8" d="M144 1l1 -1l31,0l8,3l19,5l3,4l-1,4l-1,4l-23,24l-5,3l-8,1l-8 -3l-8 -6l-8 -10l-4 -9l-2 -8l1 -4l2 -4zM228 0l30,0l12,8l2,4l1,4l-1,5l-4,3l-4,2l-8,1l-8 -1l-8 -3l-6 -7l-8 -16zM312 218l4 -1l4,1l4,2l3,4l2,4l-1,8l-1,4l-3,5l-4,3l-4,2l-4,0l-4 -1l-4 -3l-3 -6l0 -4l2 -8l2 -4l4 -4zM476 355l8 -2l8,2l8,5l3,4l4,8l0,8l-2,4l-5,5l-9,3l-15,1l-8 -1l-6 -4l-1 -8l3 -12l4 -7l6 -5zM408 368l8 -1l4,2l4,3l5,8l7,16l4,4l-47,0l-3 -4l0 -4l3 -12l3 -5l3 -3l8 -4z"/><path fill="#d0d8da" stroke="#d0d8da" stroke-width="0.8" d="M64 3l6 -3l75,0l-5,5l-2,7l2,8l3,8l6,8l7,7l8,4l8,1l4 -1l5 -3l10 -12l9 -8l5 -8l1 -4l-3 -4l-19 -5l-8 -3l50,0l8,16l6,7l8,3l8,1l8 -1l5 -2l3 -4l1 -4l-1 -4l-2 -4l-12 -8l37,0l5,4l2,4l0,8l-4,12l-5,8l-5,6l-8,6l-8,2l-8,1l-20 -1l-9,2l-7,4l-3,4l-2,8l0,12l1,4l4,4l7,4l25,7l8,5l4,4l5,8l1,8l-2,8l-4,3l-4,1l-8,0l-12 -4l-8 -4l-11 -8l-13 -15l-4 -3l-20 -7l-8 -4l-18 -19l-22 -16l-24 -24l-4 -1l-4,1l-17,12l-11,5l-12,0l-8 -2l-4 -3l-6 -8l-2 -6l0 -6l1 -8l2 -4l2 -4l5 -4zM304 191l4 -2l8,0l8,2l8,3l8,5l4,4l5,9l1,12l-4,20l-7,12l-11,10l-4,2l-8,2l-8,1l-8 -1l-5 -2l-6 -4l-5 -8l-2 -8l0 -8l2 -20l4 -11l4 -7l4 -5l6 -5zM309 220l-4,4l-2,4l-2,8l0,4l3,6l4,3l4,1l4,0l4 -2l4 -3l3 -5l1 -4l1 -8l-2 -4l-3 -4l-4 -2l-4 -1l-4,1zM228 295l8 -1l8,2l5,4l3,4l1,4l0,8l-2,8l-4,8l-7,6l-4,1l-4,0l-4 -3l-4 -8l-2 -8l0 -12l1 -8l4 -4zM480 332l20,0l13,4l6,4l5,4l12,16l4,3l4,1l4 -1l4 -2l8 -8l0,47l-120,0l-4 -4l-7 -16l-5 -8l-4 -3l-4 -2l-4,0l-8,2l-4,2l-4,4l-3,5l-3,12l0,4l3,4l-24,0l3 -4l4 -7l8 -25l4 -6l4 -4l8 -4l12 -3l8,0l16,3l4,0l12 -10l8 -4l8 -3l10 -1zM474 356l-6,5l-4,7l-3,12l1,8l6,4l8,1l15 -1l9 -3l5 -5l2 -4l0 -8l-4 -8l-3 -4l-8 -5l-8 -2l-8,2zM184 379l8 -1l8,2l4,4l8,12l4,4l-37,0l-5 -4l-2 -4l0 -4l3 -4l5 -4z"/><path fill="#e8cfc8" stroke="#e8cfc8" stroke-width="0.8" d="M40 0l30,0l-8,4l-5,4l-2,4l-3,8l0,8l2,8l6,8l4,3l8,2l12,0l11 -5l17 -12l4 -1l4,1l24,24l22,16l18,19l8,4l20,7l4,3l13,15l11,8l16,7l12,1l4 -1l4 -3l1 -4l1 -8l-3 -8l-7 -8l-6 -4l-10 -4l-17 -4l-8 -4l-3 -4l-2 -8l1 -8l2 -8l3 -4l8 -4l8 -2l20,1l8 -1l8 -2l8 -6l5 -6l5 -8l4 -12l0 -8l-2 -4l-5 -4l41,0l-14,28l-5,8l-9,12l-21,24l-3,8l1,8l9,24l9,32l7,12l9,8l34,20l27,20l4,3l8,1l8 -2l24 -13l8 -3l8,0l4,1l4,3l4,5l2,5l-1,12l-9,34l-4,11l-2,3l-2,2l-4,1l-4 -1l-8 -6l-8 -8l-12 -7l-16 -3l-12,1l-4,2l-4,4l-8,18l-4,6l-8,8l-4,3l-8,2l-40,4l-8,3l-4,3l-4,4l-3,8l-7,20l-6,12l-8,13l-13,15l-3,8l0,8l4,8l5,4l13,4l-42,0l-4 -4l-8 -13l-4 -3l-8 -2l-4,0l-8,2l-5,4l-3,4l0,4l2,4l5,4l-28,0l-2 -4l0 -8l3 -8l4 -6l4 -4l8 -5l28 -14l6 -7l3 -8l1 -8l-1 -12l-3 -12l-14 -28l-1 -8l2 -8l4 -4l7 -1l8,3l20,10l8,3l8,1l8 -2l4 -2l4 -4l2 -4l4 -16l2 -36l3 -24l1 -8l-2 -8l-3 -8l-9 -8l-54 -33l-12 -4l-28 -1l-7 -2l-5 -3l-5 -5l-7 -16l-5 -8l-7 -6l-8 -4l-4 -1l-8 -1l-32,5l-16,1l-12 -2l-8 -4l-4 -4l-4 -8l-2 -8l-1 -8l2 -20l2 -8l4 -8zM302 192l-6,5l-4,5l-4,7l-4,11l-2,20l0,8l2,8l5,8l6,4l5,2l8,1l8 -1l8 -2l4 -2l11 -10l7 -12l4 -20l-1 -12l-5 -9l-4 -4l-8 -5l-8 -3l-8 -2l-8,0l-4,2zM227 296l-4,4l-1,8l0,12l2,8l4,8l4,3l4,0l4 -1l7 -6l4 -8l2 -8l0 -8l-1 -4l-3 -4l-5 -4l-8 -2l-8,1zM60 188l4 -1l4,1l4,2l6,6l3,8l-1,12l-7,16l-2,8l6,20l0,8l-5,8l-4,4l-20,11l-6,5l-5,8l-9,18l-4,6l-4,4l-4,2l-4,0l-4 -2l-4 -9l-4 -14l0 -99l4,6l8,4l12,1l8 -3l8 -5l12 -19l4 -4l4 -2zM532 280l8 -3l8,0l7,3l5,5l0,68l-12,10l-4,1l-4 -1l-4 -3l-12 -16l-5 -4l-7 -4l-8 -3l-8 -1l-12,0l-12,1l-8,1l-8,4l-16,12l-4,0l-12 -3l-8,0l-12,2l-8,3l-8,6l-4,5l-3,9l-5,17l-4,7l-3,4l-32,0l11 -4l4 -3l7 -9l4 -16l3 -32l2 -6l4 -4l8 -1l20 -1l12 -2l10 -6l18 -15l4 -1l4,1l15,7l9,3l8,1l12 -2l8 -3l5 -3l16 -16l11 -8zM280 380l8,0l12,4l15 -4l5,0l4,2l4,4l3,6l-1,4l-2,1l-8,1l-20 -2l-16,1l-8,0l-2 -1l-2 -4l1 -4l3 -5l4 -3z"/><path fill="#d6947f" stroke="#d6947f" stroke-width="0.8" d="M4 0l36,0l-3,4l-4,8l-3,12l-1,12l1,12l2,8l4,8l4,4l8,4l12,2l16 -1l32 -5l8,1l4,1l8,4l7,6l5,8l7,16l5,5l5,3l7,2l28,1l12,4l54,33l9,8l3,8l2,8l-1,8l-3,24l-2,36l-4,16l-2,4l-4,4l-4,2l-8,2l-8 -1l-8 -3l-20 -10l-8 -3l-7,1l-4,4l-2,8l1,8l14,28l3,12l1,12l-1,8l-3,8l-6,7l-28,14l-8,5l-4,4l-4,6l-3,8l0,8l2,4l-21,0l-2 -4l1 -4l1 -4l10 -16l7 -8l9 -8l21 -12l7 -6l4 -6l3 -8l-1 -8l-2 -8l-17 -28l-4 -12l-3 -12l1 -8l5 -8l6 -4l8 -3l12 -2l12,3l24,13l4,1l4,0l4 -3l4 -5l1 -8l0 -28l3 -24l-1 -12l-4 -8l-9 -8l-26 -17l-8 -4l-8 -3l-12 -1l-28,0l-36 -7l-8,1l-4,2l-13,9l-8,8l-5,8l-2,8l0,4l3,8l13,28l7,28l3,4l6,4l24,7l11,5l4,4l1,4l-1,4l-3,4l-8,4l-20,2l-12,5l-20,12l-12,10l-16,9l-4,3l-8,11l-12,28l-6,8l-18,17l-4,7l-8,19l0 -86l4,14l4,9l4,2l4,0l4 -2l4 -4l4 -6l9 -18l7 -10l8 -6l16 -8l4 -4l5 -8l0 -4l-1 -8l-4 -12l0 -8l8 -20l1 -8l-1 -8l-4 -7l-4 -3l-4 -2l-4 -1l-4,1l-6,4l-13,20l-5,4l-4,2l-8,3l-12 -1l-8 -4l-4 -6l0 -90l4 -1l2 -3l0 -4l-6 -32l0 -80zM336 1l39 -1l-11,20l-2,8l-4,20l-2,8l-4,4l-4,3l-16,3l-8,2l-8,6l-4,6l-2,4l-1,12l2,20l6,16l7,11l9,9l12,8l31,16l12,5l12,0l24 -8l12 -2l12,2l8,5l4,3l5,7l3,6l1,6l-2,12l-7,28l-1,12l0,8l1,8l3,8l5,6l4,4l8,3l8,0l8 -4l28 -16l12 -4l8 -1l8,1l8,3l0,17l-4 -5l-4 -2l-4 -1l-8,0l-8,3l-7,4l-20,20l-5,3l-8,3l-12,2l-8 -1l-9 -3l-15 -7l-4 -1l-4,1l-18,15l-10,6l-12,2l-20,1l-8,1l-4,4l-2,6l-3,32l-4,16l-7,9l-4,3l-11,4l-79,0l-13 -4l-5 -4l-4 -8l0 -4l1 -8l5 -8l11 -12l7 -11l6 -13l8 -24l6 -8l4 -3l8 -3l40 -4l8 -2l4 -3l8 -8l4 -6l9 -19l3 -3l8 -3l12,0l12,3l12,7l12,12l4,2l4,1l4 -1l4 -5l4 -11l8 -29l2 -13l-2 -8l-4 -6l-4 -3l-4 -1l-8,0l-8,3l-24,13l-8,2l-8 -1l-4 -3l-27 -20l-34 -20l-9 -8l-6 -8l-3 -8l-7 -28l-9 -24l-1 -8l3 -8l21 -24l9 -12l7 -12l10 -20zM376 256l-3,4l-1,4l1,8l3,5l7,7l6,12l3,3l4,1l4,0l4 -2l4 -6l1 -8l-2 -16l-4 -8l-7 -5l-8 -2l-8,1l-4,2zM301 308l-9,5l-4,4l-4,7l-14,28l-1,8l1,4l6,2l24,3l32 -4l4 -3l2 -2l2 -12l-2 -16l-4 -12l-6 -8l-7 -4l-9 -2l-8,1zM280 380l-4,3l-3,5l-1,4l2,4l2,1l8,0l16 -1l20,2l8 -1l2 -1l1 -4l-3 -6l-4 -4l-4 -2l-5,0l-15,4l-12 -4l-8,0z"/><path fill="#c05b3c" stroke="#c05b3c" stroke-width="0.8" d="M376 0l29,0l-4,8l-4,12l-13,56l-5,12l-7,7l-8,4l-19,5l-6,4l-3,4l-1,4l2,8l3,6l6,6l6,5l8,4l12,5l12,2l8,1l28 -4l16,1l16,5l12,7l6,6l6,7l3,5l4,12l-1,12l-9,28l-2,12l2,12l3,6l4,4l4,2l8,0l32 -11l16 -3l12,1l8,2l0,11l-4 -2l-8 -1l-8,0l-8,1l-14,6l-22,13l-12,4l-8 -1l-8 -6l-5 -6l-4 -12l0 -8l0 -12l3 -12l5 -20l2 -12l-1 -6l-3 -6l-5 -7l-4 -3l-8 -5l-12 -2l-12,2l-24,8l-8,0l-8 -2l-28 -13l-20 -12l-12 -11l-5 -7l-4 -8l-4 -12l-2 -16l0 -12l3 -8l4 -6l8 -6l8 -2l16 -3l4 -3l4 -4l2 -8l4 -20l2 -8l11 -20zM0 80l6,32l0,4l-2,3l-4,1l0 -40zM120 120l32,6l12,1l24,0l8,1l8,3l23,13l16,12l7,8l1,4l2,8l-4,28l0,28l-1,8l-4,5l-4,3l-4,0l-4 -1l-24 -13l-12 -3l-12,2l-8,3l-6,4l-3,4l-3,8l1,12l6,16l17,29l3,11l-1,8l-4,8l-4,4l-26,16l-13,12l-13,20l-1,4l-1,4l2,4l-33,0l-21 -4l-10 -4l-10 -10l-4 -2l-4,1l-8,2l-8,5l-4,5l-1,7l-27,0l0 -5l10 -23l6 -7l12 -11l5 -6l5 -8l10 -24l8 -11l4 -3l16 -9l12 -10l20 -12l12 -5l20 -2l8 -4l3 -4l1 -4l-1 -4l-7 -6l-8 -3l-24 -7l-4 -2l-4 -4l-3 -6l-5 -24l-13 -28l-3 -8l0 -4l2 -8l5 -8l5 -6l8 -7l8 -4l4 -2l8 -1zM125 136l-5,1l-8,4l-4,3l-6,8l-2,5l-1,7l2,12l13,32l5,8l5,3l8,3l8,0l12 -1l52 -10l12 -4l8 -8l7 -11l4 -12l-1 -8l-5 -8l-9 -8l-12 -8l-12 -5l-16 -2l-52 -1zM114 280l-19,8l-5,4l-10,10l-16,12l-4,6l-4,8l-3,12l-1,8l1,8l2,12l2,4l3,4l4,1l32,3l8 -1l8 -2l9 -5l15 -18l16 -10l14 -12l6 -7l2 -5l-1 -8l-4 -8l-13 -19l-6 -5l-6 -3l-8 -1l-12,1l-8,2zM376 256l4 -2l8 -1l8,2l7,5l4,8l2,16l-1,8l-4,6l-4,2l-4,0l-4 -1l-3 -3l-6 -12l-7 -7l-3 -5l-1 -8l1 -4l3 -4zM304 307l8 -1l9,2l7,4l6,8l4,12l2,16l-2,12l-2,2l-4,3l-32,4l-24 -3l-6 -2l-1 -4l1 -8l14 -28l4 -7l4 -4l9 -5z"/><path fill="#9e1a28" stroke="#9e1a28" stroke-width="0.8" d="M404 2l1 -2l27,0l-8,4l-7,8l-3,8l-3,12l-1,16l0,16l2,11l4,9l8,10l12,10l8,5l16,7l8,6l4,5l20,31l5,10l2,12l-1,12l-2,12l-8,28l0,8l2,4l5,4l5,1l36 -5l16,0l8,2l0,11l-8 -2l-12 -1l-16,3l-32,11l-8,0l-4 -2l-4 -4l-3 -6l-2 -12l2 -12l9 -28l1 -12l-4 -12l-3 -5l-6 -7l-6 -6l-12 -7l-16 -5l-16 -1l-28,4l-12 -1l-12 -3l-11 -5l-6 -4l-7 -6l-5 -6l-3 -7l-1 -5l1 -4l3 -4l6 -4l23 -6l8 -6l4 -6l5 -14l12 -52l6 -16zM484 4l16,0l12,2l12,6l16,11l8,4l4,0l4 -1l4 -3l0,44l-8,7l-4,2l-8,3l-20,1l-20 -2l-12 -5l-8 -7l-4 -7l-4 -11l-1 -12l-1 -12l2 -12l2 -4l8 -4zM128 136l52,1l16,2l12,5l12,8l9,8l5,8l1,8l-4,12l-7,11l-8,8l-12,4l-52,10l-12,1l-8,0l-8 -3l-5 -3l-5 -8l-13 -32l-2 -12l1 -7l2 -5l6 -8l4 -3l8 -4l5 -1zM132 148l-8,3l-4,4l-4,5l-1,4l0,12l5,13l8,11l8,5l12,3l8,0l8 -1l20 -9l16 -6l6 -4l3 -4l5 -8l0 -8l-2 -4l-4 -5l-8 -6l-8 -4l-8 -2l-12 -1l-16 -1l-12,1l-12,2zM116 279l8 -2l12 -1l8,1l6,3l6,5l13,19l4,8l1,8l-2,5l-6,7l-14,12l-16,10l-15,18l-9,5l-8,2l-8,1l-32 -3l-4 -1l-3 -4l-2 -4l-2 -12l-1 -8l1 -8l3 -12l4 -8l4 -6l16 -12l10 -10l5 -4l19 -8zM104 292l-8,4l-17,20l-3,4l-1,4l1,4l4,3l4,2l12,1l20 -6l20 -1l4 -1l3 -2l3 -4l1 -4l1 -4l-2 -8l-6 -8l-6 -4l-6 -1l-12 -1l-12,2zM40 383l8 -2l4 -1l4,2l6,6l6,5l8,3l21,4l-70,0l2 -8l3 -4l6 -4z"/><path fill="#5e0f22" stroke="#5e0f22" stroke-width="0.8" d="M428 2l4 -2l128,0l0,23l-4,3l-4,1l-8 -1l-20 -14l-12 -6l-12 -2l-12 -1l-8,2l-6,3l-2,4l-1,4l-1,12l2,18l4,13l6,9l4,4l6,3l8,3l12,2l12,0l12 -1l13 -3l6 -4l5 -5l0,133l-4 -14l-4 -6l-4 -3l-4 -2l-8,1l-8,4l-8,9l-5,11l-2,12l1,8l2,4l8,4l8,1l15 -1l9 -2l4 -2l0,22l-8 -2l-12 -1l-40,6l-5 -1l-5 -4l-2 -4l0 -8l8 -28l3 -16l0 -12l-4 -12l-19 -31l-8 -11l-8 -6l-20 -10l-12 -9l-9 -9l-3 -4l-4 -9l-2 -7l-1 -12l2 -24l5 -17l4 -7l4 -4zM434 20l-3,4l-2,8l0,8l1,4l2,4l4,4l4,1l4 -1l4 -5l2 -7l1 -8l-1 -8l-2 -4l-4 -3l-4 -1l-4,2zM520 108l-6,4l-2,4l-1,4l1,7l3,5l5,5l8,5l8,1l8 -2l5 -5l3 -8l0 -8l-3 -8l-5 -5l-8 -2l-8,1l-8,2zM132 148l12 -2l12 -1l16,1l12,1l8,2l8,4l8,6l4,5l2,4l0,8l-5,8l-3,4l-6,4l-16,6l-20,9l-8,1l-8,0l-12 -3l-8 -5l-8 -11l-5 -13l0 -12l1 -4l4 -5l4 -4l8 -3zM142 160l-6,4l-2,4l-1,4l1,8l6,7l8,5l8,1l4 -1l24 -15l4 -5l0 -4l-3 -4l-5 -4l-8 -2l-8 -1l-8,0l-12,2zM104 292l12 -2l12,1l6,1l6,4l6,8l2,8l-1,4l-1,4l-3,4l-3,2l-4,1l-20,1l-20,6l-12 -1l-4 -2l-4 -3l-1 -4l1 -4l3 -4l17 -20l8 -4z"/><path fill="#420a15" stroke="#420a15" stroke-width="0.8" d="M560 0zM436 18l4 -2l4,1l4,3l2,4l1,8l-1,8l-2,7l-4,5l-4,1l-4 -1l-4 -4l-2 -4l-1 -4l0 -8l2 -8l3 -4zM520 108l8 -2l8 -1l8,2l5,5l3,8l0,8l-3,8l-5,5l-8,2l-8 -1l-8 -5l-5 -5l-3 -5l-1 -7l1 -4l2 -4l6 -4zM144 159l12 -2l8,0l8,1l8,2l5,4l3,4l0,4l-4,5l-24,15l-4,1l-8 -1l-8 -5l-6 -7l-1 -8l1 -4l2 -4l6 -4zM536 176l8 -1l4,2l4,3l4,6l4,14l0,24l-4,2l-16,3l-16 -1l-4 -1l-4 -3l-2 -4l-1 -4l0 -8l2 -8l3 -8l6 -9l4 -3l7 -4z"/></g><polyline points="0,25 12,26 24,34 32,55" fill="none" stroke="#333" stroke-width="1.1" stroke-linejoin="round"/><polyline points="0,91 12,87 24,81" fill="none" stroke="#333" stroke-width="1.1" stroke-linejoin="round"/><polyline points="49,40 59,53 77,75" fill="none" stroke="#333" stroke-width="1.1" stroke-linejoin="round"/><polyline points="130,107 148,110 166,113 170,123 172,132" fill="none" stroke="#333" stroke-width="1.1" stroke-linejoin="round"/><polyline points="101,12 111,24 123,38 134,51 146,65 160,77 178,83 198,85 217,85 227,93 227,105 219,119 212,134 217,140 237,146 257,148 275,147 280,146 290,138" fill="none" stroke="#333" stroke-width="1.1" stroke-linejoin="round"/><polyline points="223,5 221,14 227,22 247,30 267,34 280,36 300,40 310,47 313,57 308,67 302,77 300,85 310,89 320,87" fill="none" stroke="#333" stroke-width="1.1" stroke-linejoin="round"/><polyline points="164,164 178,174 190,182 208,194 217,200 237,212 251,226 257,242 267,247 280,248 300,247 320,246" fill="none" stroke="#333" stroke-width="1.1" stroke-linejoin="round"/><polyline points="198,156 217,160 237,164 257,172 280,182 296,192 306,198" fill="none" stroke="#333" stroke-width="1.1" stroke-linejoin="round"/><polyline points="387,72 403,59 418,46 434,34 454,28 476,25 493,34 501,30 515,18 523,6" fill="none" stroke="#333" stroke-width="1.1" stroke-linejoin="round"/><polyline points="345,107 369,106 399,107 424,103 448,97 478,94 507,89 527,85 555,83" fill="none" stroke="#333" stroke-width="1.1" stroke-linejoin="round"/><polyline points="391,163 418,166 448,164 468,150 488,132 507,121 527,115 555,113" fill="none" stroke="#333" stroke-width="1.1" stroke-linejoin="round"/><polyline points="458,200 478,180 493,164 507,154 527,148 555,145" fill="none" stroke="#333" stroke-width="1.1" stroke-linejoin="round"/><polyline points="375,222 399,215 428,209 454,202 458,200" fill="none" stroke="#333" stroke-width="1.1" stroke-linejoin="round"/><polyline points="46,295 59,283 79,267 99,260 119,258 148,259 164,263 178,271 198,285 213,290 227,285 247,279 280,272 300,266" fill="none" stroke="#333" stroke-width="1.1" stroke-linejoin="round"/><polyline points="367,252 389,246 409,245 428,248 444,252 458,247 470,234 488,218 503,206 517,200" fill="none" stroke="#333" stroke-width="1.1" stroke-linejoin="round"/><polyline points="22,339 40,334 55,319 69,303 89,287 109,283 138,285 158,291 178,303 194,317 213,327 237,319 257,307 280,297 300,292 329,291 359,289 385,285 395,295 389,311 393,323 409,334 428,339 448,337 464,333 476,342 490,347" fill="none" stroke="#333" stroke-width="1.1" stroke-linejoin="round"/><polyline points="22,395 40,382 59,368 75,356" fill="none" stroke="#333" stroke-width="1.1" stroke-linejoin="round"/><polyline points="129,334 125,350 125,364 138,372 154,380 158,395" fill="none" stroke="#333" stroke-width="1.1" stroke-linejoin="round"/><polyline points="229,395 247,378 263,362 273,352" fill="none" stroke="#333" stroke-width="1.1" stroke-linejoin="round"/><polyline points="331,338 337,350 339,366 349,380 361,395" fill="none" stroke="#333" stroke-width="1.1" stroke-linejoin="round"/><polyline points="551,323 555,321" fill="none" stroke="#333" stroke-width="1.1" stroke-linejoin="round"/><polyline points="304,200 320,203 339,200" fill="none" stroke="#333" stroke-width="1.1" stroke-linejoin="round"/><g clip-path="url(#cf)"><polygon points="37.3,-3 37.3,0.4 32.4,13.8 31,22.2 34.5,33.5 40.2,42 43.7,44.1 47.2,39.2 50.8,34.9 52.9,27.9 54.3,18.7 59.9,15.2 67,11.6 69.8,15.2 74,15.9 79.7,16.6 86.7,19.4 92.4,22.2 94.5,29.3 95.9,39.2 98,37 101.6,29.3 104.4,23.6 102.3,16.6 99.4,8.1 96.6,4.6 91,4.6 85.3,2.5 83.9,0.4 83.9,-3" fill="#fff" stroke="#fff" stroke-width="5" stroke-linejoin="round"/><polygon points="24.6,61.7 30,58 35.9,57.5 43,61.7 51.5,68.8 62.7,78.7 71.2,87.2 79.7,94.2 91,102.7 102.3,106.9 112.1,111.1 122,114 130.5,115.4 136,119.6 150.3,121 157.3,118.2 163,112 167.2,109.7 172.8,105.5 174.3,111.1 168.6,118.2 164.4,128.1 164.4,133.7 172.8,140.8 180,144 186,142.5 192.6,142.2 190,146 178.5,147.9 171.4,153.5 164.4,156.3 157.3,159.2 143.2,161.3 129.1,161.3 119.2,164.8 110.7,170.5 102.3,178.9 96.6,186 92.4,195.9 88.2,202.9 82.5,200.1 76.9,195.9 65.6,193 55.7,188.8 45.8,183.2 37.3,178.9 28.9,176.1 17.6,177.5 9.1,180.3 0.6,186 -5,186 -5,150.7 0.6,150.7 6.3,152.1 13.3,147.9 14.8,142.2 12,135.2 14.8,126.7 23.2,122.5 24.6,114 24.6,106.9 24.6,92.8 25.3,81.5 21.8,73 23.2,64.6" fill="#fff" stroke="#fff" stroke-width="5" stroke-linejoin="round"/><polygon points="-5,220 -0.5,220 3.5,221.1 8,223.9 11.9,224.5 16.5,222.2 18.2,222.8 17,227.9 15.9,233.5 15.9,244.8 17.6,253.3 22.1,257.2 28.6,261.8 33.5,267.7 34.5,273.6 37.5,279.6 39.5,285.5 41.4,293.4 40.5,300.3 38.5,307.2 34.5,315.1 28.6,322.1 23.7,328 19.7,334.9 20.7,341.8 19.7,349.7 14.8,346.8 7.8,346.8 1.9,350.7 -0.1,352.7 -5,352.7" fill="#fff" stroke="#fff" stroke-width="5" stroke-linejoin="round"/><polygon points="-5,203.6 -0.5,203.6 2.3,203.9 6.3,206.4 6.9,208.7 2.3,210.4 0.1,211.5 -5,211.5" fill="#fff" stroke="#fff" stroke-width="5" stroke-linejoin="round"/><polygon points="175.4,127.2 178.2,132.8 182.5,131.4 186.7,122.9 196.6,113 206.5,107.4 216.3,106 222.7,103.2 220.6,100.3 209.3,98.9 203.6,100.3 198,107.4 190.9,113 183.9,120.1 176.8,124.3" fill="#fff" stroke="#fff" stroke-width="5" stroke-linejoin="round"/><polygon points="233.3,100.3 234.7,103.2 240.3,101.7 248.8,93.3 260.1,86.2 271.4,79.2 284.1,70.7 295.4,66.5 305.3,65.8 314.4,63.6 313.7,58.7 305.3,58.7 296.8,62.2 284.1,66.5 277,62.2 274.2,66.5 265.7,73.5 254.4,79.2 246,86.2 238.9,91.9 234.7,96.1" fill="#fff" stroke="#fff" stroke-width="5" stroke-linejoin="round"/><polygon points="335.6,55.3 337.5,57.3 344.5,55.3 353.4,49.4 363.2,44.5 369.2,39.5 377.1,34.6 383,30.6 381,29.2 375.1,29.6 367.2,33.6 359.3,36.6 351.4,41.5 344.5,45.5 338.5,51.4" fill="#fff" stroke="#fff" stroke-width="5" stroke-linejoin="round"/><polygon points="427,9 432,10 438,5 444,0 445,-3 436,-3 433,3 428,5" fill="#fff" stroke="#fff" stroke-width="5" stroke-linejoin="round"/><polygon points="76,92 98,95 100,103 121,104 123,111 133,112 155,112 160,118 150,124 130,120 100,112 76,100" fill="#fff"/><polygon points="112,158 165,154 168,163 118,167" fill="#fff"/><polygon points="14,66 26,64 27,106 16,108" fill="#fff"/><polygon points="-2,144 25,144 25,153 -2,153" fill="#fff"/><polygon points="14,226 25,226 25,258 14,258" fill="#fff"/><polygon points="-2,350 3,350 3,400 -2,400" fill="#fff"/><polygon points="37.3,-3 37.3,0.4 32.4,13.8 31,22.2 34.5,33.5 40.2,42 43.7,44.1 47.2,39.2 50.8,34.9 52.9,27.9 54.3,18.7 59.9,15.2 67,11.6 69.8,15.2 74,15.9 79.7,16.6 86.7,19.4 92.4,22.2 94.5,29.3 95.9,39.2 98,37 101.6,29.3 104.4,23.6 102.3,16.6 99.4,8.1 96.6,4.6 91,4.6 85.3,2.5 83.9,0.4 83.9,-3" fill="#808080" stroke="#000" stroke-width="1.6" stroke-linejoin="round"/><polygon points="24.6,61.7 30,58 35.9,57.5 43,61.7 51.5,68.8 62.7,78.7 71.2,87.2 79.7,94.2 91,102.7 102.3,106.9 112.1,111.1 122,114 130.5,115.4 136,119.6 150.3,121 157.3,118.2 163,112 167.2,109.7 172.8,105.5 174.3,111.1 168.6,118.2 164.4,128.1 164.4,133.7 172.8,140.8 180,144 186,142.5 192.6,142.2 190,146 178.5,147.9 171.4,153.5 164.4,156.3 157.3,159.2 143.2,161.3 129.1,161.3 119.2,164.8 110.7,170.5 102.3,178.9 96.6,186 92.4,195.9 88.2,202.9 82.5,200.1 76.9,195.9 65.6,193 55.7,188.8 45.8,183.2 37.3,178.9 28.9,176.1 17.6,177.5 9.1,180.3 0.6,186 -5,186 -5,150.7 0.6,150.7 6.3,152.1 13.3,147.9 14.8,142.2 12,135.2 14.8,126.7 23.2,122.5 24.6,114 24.6,106.9 24.6,92.8 25.3,81.5 21.8,73 23.2,64.6" fill="#808080" stroke="#000" stroke-width="1.6" stroke-linejoin="round"/><polygon points="-5,220 -0.5,220 3.5,221.1 8,223.9 11.9,224.5 16.5,222.2 18.2,222.8 17,227.9 15.9,233.5 15.9,244.8 17.6,253.3 22.1,257.2 28.6,261.8 33.5,267.7 34.5,273.6 37.5,279.6 39.5,285.5 41.4,293.4 40.5,300.3 38.5,307.2 34.5,315.1 28.6,322.1 23.7,328 19.7,334.9 20.7,341.8 19.7,349.7 14.8,346.8 7.8,346.8 1.9,350.7 -0.1,352.7 -5,352.7" fill="#808080" stroke="#000" stroke-width="1.6" stroke-linejoin="round"/><polygon points="-5,203.6 -0.5,203.6 2.3,203.9 6.3,206.4 6.9,208.7 2.3,210.4 0.1,211.5 -5,211.5" fill="#808080" stroke="#000" stroke-width="1.6" stroke-linejoin="round"/><polygon points="175.4,127.2 178.2,132.8 182.5,131.4 186.7,122.9 196.6,113 206.5,107.4 216.3,106 222.7,103.2 220.6,100.3 209.3,98.9 203.6,100.3 198,107.4 190.9,113 183.9,120.1 176.8,124.3" fill="#808080" stroke="#000" stroke-width="1.6" stroke-linejoin="round"/><polygon points="233.3,100.3 234.7,103.2 240.3,101.7 248.8,93.3 260.1,86.2 271.4,79.2 284.1,70.7 295.4,66.5 305.3,65.8 314.4,63.6 313.7,58.7 305.3,58.7 296.8,62.2 284.1,66.5 277,62.2 274.2,66.5 265.7,73.5 254.4,79.2 246,86.2 238.9,91.9 234.7,96.1" fill="#808080" stroke="#000" stroke-width="1.6" stroke-linejoin="round"/><polygon points="335.6,55.3 337.5,57.3 344.5,55.3 353.4,49.4 363.2,44.5 369.2,39.5 377.1,34.6 383,30.6 381,29.2 375.1,29.6 367.2,33.6 359.3,36.6 351.4,41.5 344.5,45.5 338.5,51.4" fill="#808080" stroke="#000" stroke-width="1.6" stroke-linejoin="round"/><polygon points="427,9 432,10 438,5 444,0 445,-3 436,-3 433,3 428,5" fill="#808080" stroke="#000" stroke-width="1.6" stroke-linejoin="round"/><polygon points="0.6,233.5 5.7,230.1 9.1,233.5 8,239.2 4,243.7 0.6,242.6" fill="#fff" stroke="#000" stroke-width="1.4"/><ellipse cx="7.9" cy="72.3" rx="5.2" ry="4" transform="rotate(0 7.9 72.3)" fill="#808080" stroke="#000" stroke-width="1.4"/><ellipse cx="1" cy="64.5" rx="2" ry="4.5" transform="rotate(0 1 64.5)" fill="#808080" stroke="#000" stroke-width="1.4"/><ellipse cx="230" cy="128" rx="8" ry="3" transform="rotate(-15 230 128)" fill="#808080" stroke="#000" stroke-width="1.4"/><ellipse cx="193.8" cy="141.3" rx="2.5" ry="2" transform="rotate(0 193.8 141.3)" fill="#808080" stroke="#000" stroke-width="1.4"/><ellipse cx="203.6" cy="139.2" rx="2.2" ry="1.8" transform="rotate(0 203.6 139.2)" fill="#808080" stroke="#000" stroke-width="1.4"/><ellipse cx="212.1" cy="134.2" rx="2" ry="1.6" transform="rotate(0 212.1 134.2)" fill="#808080" stroke="#000" stroke-width="1.4"/><ellipse cx="391.9" cy="20.8" rx="2.3" ry="2" transform="rotate(0 391.9 20.8)" fill="#808080" stroke="#000" stroke-width="1.4"/></g><rect x="80" y="160" width="160" height="120" fill="none" stroke="#000" stroke-width="3"/><g clip-path="url(#cf)"><text x="106.7" y="102.5" font-family="Liberation Serif" font-size="46.0" font-weight="normal" text-anchor="middle" textLength="50.0" lengthAdjust="spacingAndGlyphs" transform="rotate(20 106.7 87)">16</text><text x="355.1" y="96.5" font-family="Liberation Serif" font-size="46.0" font-weight="normal" text-anchor="middle" textLength="50.0" lengthAdjust="spacingAndGlyphs" transform="rotate(-15 355.1 81)">12</text><text x="314.6" y="135.1" font-family="Liberation Serif" font-size="46.0" font-weight="normal" text-anchor="middle" textLength="50.0" lengthAdjust="spacingAndGlyphs" transform="rotate(-30 314.6 119.6)">14</text><text x="375.5" y="196.5" font-family="Liberation Serif" font-size="46.0" font-weight="normal" text-anchor="middle" textLength="50.0" lengthAdjust="spacingAndGlyphs" transform="rotate(-40 375.5 181)">16</text><text x="345.2" y="247.1" font-family="Liberation Serif" font-size="46.0" font-weight="normal" text-anchor="middle" textLength="50.0" lengthAdjust="spacingAndGlyphs" transform="rotate(-25 345.2 231.6)">18</text><text x="332.4" y="272.8" font-family="Liberation Serif" font-size="46.0" font-weight="normal" text-anchor="middle" textLength="50.0" lengthAdjust="spacingAndGlyphs" transform="rotate(-20 332.4 257.3)">20</text><text x="92.9" y="349.9" font-family="Liberation Serif" font-size="46.0" font-weight="normal" text-anchor="middle" textLength="50.0" lengthAdjust="spacingAndGlyphs" transform="rotate(-35 92.9 334.4)">24</text><text x="299.8" y="346.9" font-family="Liberation Serif" font-size="46.0" font-weight="normal" text-anchor="middle" textLength="50.0" lengthAdjust="spacingAndGlyphs" transform="rotate(-5 299.8 331.4)">24</text><text x="517.2" y="349.9" font-family="Liberation Serif" font-size="46.0" font-weight="normal" text-anchor="middle" textLength="50.0" lengthAdjust="spacingAndGlyphs" transform="rotate(-25 517.2 334.4)">22</text></g><rect x="0" y="0" width="560" height="400" fill="none" stroke="#000" stroke-width="2.5"/><line x1="-5" y1="40" x2="0" y2="40" stroke="#000" stroke-width="1.6"/><line x1="-5" y1="120" x2="0" y2="120" stroke="#000" stroke-width="1.6"/><line x1="-5" y1="200" x2="0" y2="200" stroke="#000" stroke-width="1.6"/><line x1="-5" y1="280" x2="0" y2="280" stroke="#000" stroke-width="1.6"/><line x1="-5" y1="360" x2="0" y2="360" stroke="#000" stroke-width="1.6"/><line x1="160" y1="400" x2="160" y2="405" stroke="#000" stroke-width="1.6"/><line x1="360" y1="400" x2="360" y2="405" stroke="#000" stroke-width="1.6"/><line x1="560" y1="400" x2="560" y2="405" stroke="#000" stroke-width="1.6"/><text x="-9.0" y="53.5" font-family="Liberation Serif" font-size="39.5" font-weight="normal" text-anchor="end" textLength="87.5" lengthAdjust="spacingAndGlyphs">46°N</text><text x="-9.0" y="133.5" font-family="Liberation Serif" font-size="39.5" font-weight="normal" text-anchor="end" textLength="87.5" lengthAdjust="spacingAndGlyphs">44°N</text><text x="-9.0" y="213.5" font-family="Liberation Serif" font-size="39.5" font-weight="normal" text-anchor="end" textLength="87.5" lengthAdjust="spacingAndGlyphs">42°N</text><text x="-9.0" y="293.5" font-family="Liberation Serif" font-size="39.5" font-weight="normal" text-anchor="end" textLength="87.5" lengthAdjust="spacingAndGlyphs">40°N</text><text x="-9.0" y="373.5" font-family="Liberation Serif" font-size="39.5" font-weight="normal" text-anchor="end" textLength="87.5" lengthAdjust="spacingAndGlyphs">38°N</text><text x="159.5" y="431.0" font-family="Liberation Serif" font-size="39.0" font-weight="normal" text-anchor="middle" textLength="106.0" lengthAdjust="spacingAndGlyphs">145°E</text><text x="359.5" y="431.0" font-family="Liberation Serif" font-size="39.0" font-weight="normal" text-anchor="middle" textLength="106.0" lengthAdjust="spacingAndGlyphs">150°E</text><text x="559.5" y="431.0" font-family="Liberation Serif" font-size="39.0" font-weight="normal" text-anchor="middle" textLength="106.0" lengthAdjust="spacingAndGlyphs">155°E</text><text x="306.0" y="-9.5" font-family="Liberation Serif" font-size="47.0" font-weight="normal" text-anchor="middle" textLength="194.0" lengthAdjust="spacingAndGlyphs">JAS 2016</text></g><text x="5.5" y="1481.0" font-family="Liberation Sans" font-size="32.5" font-weight="bold" text-anchor="start">G</text><polygon points="814.4,1559 790.5,1570.85 814.4,1582.7" fill="#1b1e47"/><polygon points="1267.2,1559 1292.2,1570.85 1267.2,1582.7" fill="#420a15"/><rect x="814.40" y="1559" width="45.58" height="23.7" fill="#262b6b"/><rect x="859.68" y="1559" width="45.58" height="23.7" fill="#1c55c0"/><rect x="904.96" y="1559" width="45.58" height="23.7" fill="#3a88c0"/><rect x="950.24" y="1559" width="45.58" height="23.7" fill="#80b0c2"/><rect x="995.52" y="1559" width="45.58" height="23.7" fill="#d0d8da"/><rect x="1040.80" y="1559" width="45.58" height="23.7" fill="#e8cfc8"/><rect x="1086.08" y="1559" width="45.58" height="23.7" fill="#d6947f"/><rect x="1131.36" y="1559" width="45.58" height="23.7" fill="#c05b3c"/><rect x="1176.64" y="1559" width="45.58" height="23.7" fill="#9e1a28"/><rect x="1221.92" y="1559" width="45.58" height="23.7" fill="#5e0f22"/><polygon points="814.4,1559 1267.2,1559 1292.2,1570.85 1267.2,1582.7 814.4,1582.7 790.5,1570.85" fill="none" stroke="#000" stroke-width="2.2"/><line x1="814.4" y1="1582.7" x2="814.4" y2="1588.7" stroke="#000" stroke-width="1.6"/><text x="813.9" y="1618.2" font-family="Liberation Serif" font-size="35.0" font-weight="normal" text-anchor="middle" textLength="81.0" lengthAdjust="spacingAndGlyphs">−2.5</text><line x1="904.96" y1="1582.7" x2="904.96" y2="1588.7" stroke="#000" stroke-width="1.6"/><text x="904.5" y="1618.2" font-family="Liberation Serif" font-size="35.0" font-weight="normal" text-anchor="middle" textLength="81.0" lengthAdjust="spacingAndGlyphs">−1.5</text><line x1="995.52" y1="1582.7" x2="995.52" y2="1588.7" stroke="#000" stroke-width="1.6"/><text x="995.0" y="1618.2" font-family="Liberation Serif" font-size="35.0" font-weight="normal" text-anchor="middle" textLength="81.0" lengthAdjust="spacingAndGlyphs">−0.5</text><line x1="1086.08" y1="1582.7" x2="1086.08" y2="1588.7" stroke="#000" stroke-width="1.6"/><text x="1085.6" y="1618.2" font-family="Liberation Serif" font-size="35.0" font-weight="normal" text-anchor="middle" textLength="50.0" lengthAdjust="spacingAndGlyphs">0.5</text><line x1="1176.64" y1="1582.7" x2="1176.64" y2="1588.7" stroke="#000" stroke-width="1.6"/><text x="1176.1" y="1618.2" font-family="Liberation Serif" font-size="35.0" font-weight="normal" text-anchor="middle" textLength="50.0" lengthAdjust="spacingAndGlyphs">1.5</text><line x1="1267.2" y1="1582.7" x2="1267.2" y2="1588.7" stroke="#000" stroke-width="1.6"/><text x="1266.7" y="1618.2" font-family="Liberation Serif" font-size="35.0" font-weight="normal" text-anchor="middle" textLength="50.0" lengthAdjust="spacingAndGlyphs">2.5</text></svg></body></html>
